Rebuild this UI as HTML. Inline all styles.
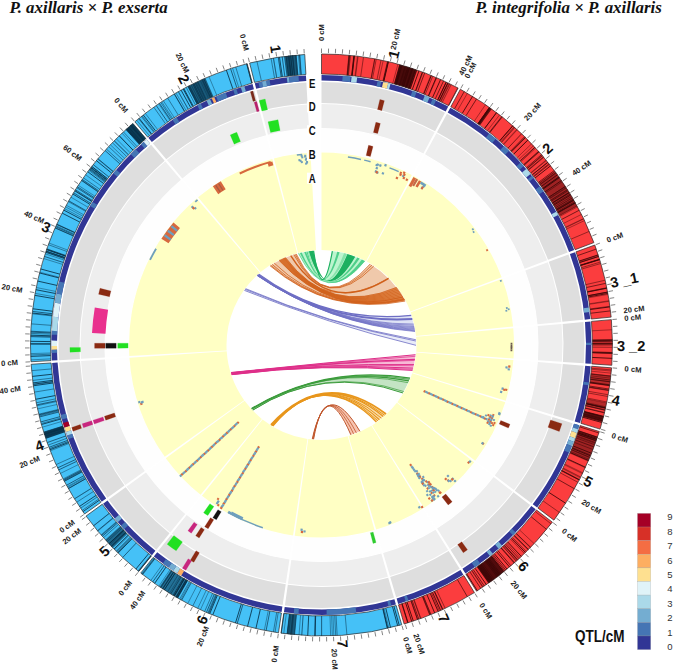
<!DOCTYPE html>
<html><head><meta charset="utf-8"><style>
html,body{margin:0;padding:0;background:#fff;}
body{width:675px;height:670px;overflow:hidden;position:relative;}
svg{position:absolute;left:0;top:0;}
text{font-family:"Liberation Sans",sans-serif;}
.ti{font-family:"Liberation Serif",serif;font-weight:bold;font-style:italic;font-size:16.9px;fill:#111;}
</style></head><body>
<svg width="675" height="670" viewBox="0 0 675 670">
<text class="ti" x="9.5" y="13">P. axillaris × P. exserta</text>
<text class="ti" x="475.5" y="13">P. integrifolia × P. axillaris</text>
<path d="M321.5 82A263 263 0 0 1 444.97 112.78L435.11 131.33A242 242 0 0 0 321.5 103Z" fill="#dedede"/>
<path d="M321.5 104A241 241 0 0 1 434.64 132.21L423.38 153.4A217 217 0 0 0 321.5 128Z" fill="#eeeeee"/>
<path d="M321.5 128.5A216.5 216.5 0 0 1 423.14 153.84L412.11 174.59A193 193 0 0 0 321.5 152Z" fill="#fefefe"/>
<path d="M321.5 152.5A192.5 192.5 0 0 1 411.87 175.03L366.1 261.12A95 95 0 0 0 321.5 250Z" fill="#ffffc4"/>
<path d="M321.5 75A270 270 0 0 1 448.26 106.6L445.68 111.46A264.5 264.5 0 0 0 321.5 80.5Z" fill="#313695"/>
<path d="M446.99 113.87A263 263 0 0 1 567.68 252.47L548.03 259.85A242 242 0 0 0 436.97 132.33Z" fill="#dedede"/>
<path d="M436.5 133.21A241 241 0 0 1 547.09 260.21L524.62 268.65A217 217 0 0 0 425.04 154.3Z" fill="#eeeeee"/>
<path d="M424.8 154.74A216.5 216.5 0 0 1 524.16 268.83L502.16 277.09A193 193 0 0 0 413.59 175.39Z" fill="#fefefe"/>
<path d="M413.35 175.83A192.5 192.5 0 0 1 501.69 277.27L410.43 311.58A95 95 0 0 0 366.83 261.51Z" fill="#ffffc4"/>
<path d="M450.33 107.72A270 270 0 0 1 574.24 250L569.09 251.94A264.5 264.5 0 0 0 447.71 112.55Z" fill="#313695"/>
<path d="M568.48 254.62A263 263 0 0 1 583.29 319.79L562.39 321.81A242 242 0 0 0 548.76 261.83Z" fill="#dedede"/>
<path d="M547.82 262.18A241 241 0 0 1 561.39 321.9L537.5 324.2A217 217 0 0 0 525.28 270.43Z" fill="#eeeeee"/>
<path d="M524.81 270.6A216.5 216.5 0 0 1 537 324.25L513.61 326.5A193 193 0 0 0 502.75 278.67Z" fill="#fefefe"/>
<path d="M502.28 278.85A192.5 192.5 0 0 1 513.11 326.55L416.06 335.89A95 95 0 0 0 410.71 312.35Z" fill="#ffffc4"/>
<path d="M575.06 252.21A270 270 0 0 1 590.26 319.12L584.78 319.65A264.5 264.5 0 0 0 569.89 254.1Z" fill="#313695"/>
<path d="M583.5 322.08A263 263 0 0 1 583.86 363.35L562.91 361.88A242 242 0 0 0 562.58 323.91Z" fill="#dedede"/>
<path d="M561.58 324A241 241 0 0 1 561.91 361.81L537.97 360.14A217 217 0 0 0 537.67 326.09Z" fill="#eeeeee"/>
<path d="M537.18 326.13A216.5 216.5 0 0 1 537.47 360.1L514.03 358.46A193 193 0 0 0 513.77 328.18Z" fill="#fefefe"/>
<path d="M513.27 328.22A192.5 192.5 0 0 1 513.53 358.43L416.27 351.63A95 95 0 0 0 416.14 336.72Z" fill="#ffffc4"/>
<path d="M590.47 321.47A270 270 0 0 1 590.84 363.83L585.36 363.45A264.5 264.5 0 0 0 584.99 321.95Z" fill="#313695"/>
<path d="M583.69 365.63A263 263 0 0 1 573.28 421.02L553.17 414.95A242 242 0 0 0 562.75 363.99Z" fill="#dedede"/>
<path d="M561.76 363.91A241 241 0 0 1 552.21 414.66L529.24 407.72A217 217 0 0 0 537.83 362.03Z" fill="#eeeeee"/>
<path d="M537.33 361.99A216.5 216.5 0 0 1 528.76 407.58L506.26 400.78A193 193 0 0 0 513.91 360.14Z" fill="#fefefe"/>
<path d="M513.41 360.1A192.5 192.5 0 0 1 505.78 400.64L412.45 372.46A95 95 0 0 0 416.21 352.45Z" fill="#ffffc4"/>
<path d="M590.67 366.18A270 270 0 0 1 579.98 423.04L574.71 421.45A264.5 264.5 0 0 0 585.18 365.75Z" fill="#313695"/>
<path d="M572.6 423.21A263 263 0 0 1 531.54 503.28L514.77 490.64A242 242 0 0 0 552.55 416.96Z" fill="#dedede"/>
<path d="M551.6 416.67A241 241 0 0 1 513.97 490.04L494.8 475.59A217 217 0 0 0 528.68 409.53Z" fill="#eeeeee"/>
<path d="M528.21 409.38A216.5 216.5 0 0 1 494.4 475.29L475.64 461.15A193 193 0 0 0 505.77 402.39Z" fill="#fefefe"/>
<path d="M505.29 402.24A192.5 192.5 0 0 1 475.24 460.85L397.37 402.17A95 95 0 0 0 412.2 373.25Z" fill="#ffffc4"/>
<path d="M579.29 425.29A270 270 0 0 1 537.13 507.49L532.74 504.18A264.5 264.5 0 0 0 574.03 423.66Z" fill="#313695"/>
<path d="M530.15 505.1A263 263 0 0 1 461.65 567.55L450.46 549.78A242 242 0 0 0 513.49 492.32Z" fill="#dedede"/>
<path d="M512.7 491.71A241 241 0 0 1 449.92 548.93L437.13 528.62A217 217 0 0 0 493.66 477.1Z" fill="#eeeeee"/>
<path d="M493.26 476.8A216.5 216.5 0 0 1 436.87 528.2L424.35 508.32A193 193 0 0 0 474.62 462.49Z" fill="#fefefe"/>
<path d="M474.22 462.19A192.5 192.5 0 0 1 424.08 507.89L372.12 425.39A95 95 0 0 0 396.87 402.83Z" fill="#ffffc4"/>
<path d="M535.71 509.37A270 270 0 0 1 465.38 573.47L462.45 568.82A264.5 264.5 0 0 0 531.34 506.02Z" fill="#313695"/>
<path d="M459.7 568.76A263 263 0 0 1 396.2 597.17L390.23 577.03A242 242 0 0 0 448.66 550.9Z" fill="#dedede"/>
<path d="M448.14 550.05A241 241 0 0 1 389.95 576.08L383.13 553.06A217 217 0 0 0 435.53 529.63Z" fill="#eeeeee"/>
<path d="M435.26 529.2A216.5 216.5 0 0 1 382.99 552.58L376.31 530.05A193 193 0 0 0 422.92 509.21Z" fill="#fefefe"/>
<path d="M422.65 508.78A192.5 192.5 0 0 1 376.17 529.57L348.48 436.09A95 95 0 0 0 371.42 425.83Z" fill="#ffffc4"/>
<path d="M463.38 574.72A270 270 0 0 1 398.18 603.88L396.62 598.61A264.5 264.5 0 0 0 460.49 570.04Z" fill="#313695"/>
<path d="M393.99 597.81A263 263 0 0 1 284.9 605.44L287.82 584.64A242 242 0 0 0 388.2 577.63Z" fill="#dedede"/>
<path d="M387.93 576.66A241 241 0 0 1 287.96 583.65L291.3 559.89A217 217 0 0 0 381.31 553.59Z" fill="#eeeeee"/>
<path d="M381.18 553.11A216.5 216.5 0 0 1 291.37 559.39L294.64 536.12A193 193 0 0 0 374.7 530.52Z" fill="#fefefe"/>
<path d="M374.56 530.04A192.5 192.5 0 0 1 294.71 535.63L308.28 439.08A95 95 0 0 0 347.69 436.32Z" fill="#ffffc4"/>
<path d="M395.92 604.54A270 270 0 0 1 283.92 612.37L284.69 606.93A264.5 264.5 0 0 0 394.41 599.25Z" fill="#313695"/>
<path d="M282.63 605.11A263 263 0 0 1 158.14 551.11L171.18 534.65A242 242 0 0 0 285.73 584.34Z" fill="#dedede"/>
<path d="M285.88 583.35A241 241 0 0 1 171.8 533.87L186.71 515.06A217 217 0 0 0 289.43 559.62Z" fill="#eeeeee"/>
<path d="M289.5 559.12A216.5 216.5 0 0 1 187.02 514.67L201.62 496.25A193 193 0 0 0 292.97 535.88Z" fill="#fefefe"/>
<path d="M293.05 535.39A192.5 192.5 0 0 1 201.93 495.86L262.49 419.45A95 95 0 0 0 307.46 438.96Z" fill="#ffffc4"/>
<path d="M281.59 612.03A270 270 0 0 1 153.79 556.6L157.21 552.29A264.5 264.5 0 0 0 282.4 606.59Z" fill="#313695"/>
<path d="M156.35 549.68A263 263 0 0 1 108.73 499.59L125.72 487.24A242 242 0 0 0 169.53 533.33Z" fill="#dedede"/>
<path d="M170.16 532.56A241 241 0 0 1 126.53 486.66L145.94 472.55A217 217 0 0 0 185.23 513.88Z" fill="#eeeeee"/>
<path d="M185.55 513.49A216.5 216.5 0 0 1 146.35 472.26L165.36 458.44A193 193 0 0 0 200.3 495.2Z" fill="#fefefe"/>
<path d="M200.62 494.81A192.5 192.5 0 0 1 165.76 458.15L244.64 400.84A95 95 0 0 0 261.84 418.93Z" fill="#ffffc4"/>
<path d="M151.95 555.13A270 270 0 0 1 103.07 503.7L107.52 500.47A264.5 264.5 0 0 0 155.4 550.85Z" fill="#313695"/>
<path d="M107.39 497.72A263 263 0 0 1 59.08 362.43L80.03 361.04A242 242 0 0 0 124.48 485.53Z" fill="#dedede"/>
<path d="M125.3 484.95A241 241 0 0 1 81.03 360.97L104.98 359.38A217 217 0 0 0 144.84 471.01Z" fill="#eeeeee"/>
<path d="M145.24 470.72A216.5 216.5 0 0 1 105.48 359.35L128.92 357.79A193 193 0 0 0 164.38 457.08Z" fill="#fefefe"/>
<path d="M164.78 456.79A192.5 192.5 0 0 1 129.42 357.76L226.71 351.3A95 95 0 0 0 244.16 400.17Z" fill="#ffffc4"/>
<path d="M101.69 501.79A270 270 0 0 1 52.09 362.89L57.58 362.53A264.5 264.5 0 0 0 106.17 498.6Z" fill="#313695"/>
<path d="M58.94 360.14A263 263 0 0 1 151.04 144.72L164.65 160.71A242 242 0 0 0 79.9 358.93Z" fill="#dedede"/>
<path d="M80.9 358.87A241 241 0 0 1 165.3 161.47L180.86 179.75A217 217 0 0 0 104.86 357.49Z" fill="#eeeeee"/>
<path d="M105.36 357.46A216.5 216.5 0 0 1 181.18 180.13L196.41 198.02A193 193 0 0 0 128.82 356.11Z" fill="#fefefe"/>
<path d="M129.32 356.08A192.5 192.5 0 0 1 196.74 198.4L259.93 272.65A95 95 0 0 0 226.66 350.47Z" fill="#ffffc4"/>
<path d="M51.95 360.54A270 270 0 0 1 146.51 139.38L150.07 143.57A264.5 264.5 0 0 0 57.44 360.23Z" fill="#313695"/>
<path d="M152.8 143.24A263 263 0 0 1 254.32 90.73L259.68 111.03A242 242 0 0 0 166.27 159.35Z" fill="#dedede"/>
<path d="M166.91 160.11A241 241 0 0 1 259.94 112L266.07 135.2A217 217 0 0 0 182.31 178.53Z" fill="#eeeeee"/>
<path d="M182.63 178.91A216.5 216.5 0 0 1 266.2 135.68L272.2 158.4A193 193 0 0 0 197.7 196.94Z" fill="#fefefe"/>
<path d="M198.02 197.32A192.5 192.5 0 0 1 272.33 158.89L297.23 253.15A95 95 0 0 0 260.56 272.12Z" fill="#ffffc4"/>
<path d="M148.31 137.87A270 270 0 0 1 252.53 83.96L253.93 89.28A264.5 264.5 0 0 0 151.84 142.08Z" fill="#313695"/>
<path d="M256.54 90.15A263 263 0 0 1 306.36 82.44L307.57 103.4A242 242 0 0 0 261.73 110.5Z" fill="#dedede"/>
<path d="M261.97 111.47A241 241 0 0 1 307.63 104.4L309.01 128.36A217 217 0 0 0 267.9 134.72Z" fill="#eeeeee"/>
<path d="M268.02 135.21A216.5 216.5 0 0 1 309.04 128.86L310.39 152.32A193 193 0 0 0 273.83 157.98Z" fill="#fefefe"/>
<path d="M273.95 158.46A192.5 192.5 0 0 1 310.42 152.82L316.03 250.16A95 95 0 0 0 298.04 252.94Z" fill="#ffffc4"/>
<path d="M254.81 83.37A270 270 0 0 1 305.96 75.45L306.27 80.94A264.5 264.5 0 0 0 256.17 88.7Z" fill="#313695"/>
<path d="M342.68 75.83A270 270 0 0 1 350.66 76.58L350.07 82.05A264.5 264.5 0 0 0 342.25 81.32Z" fill="#4575b4"/>
<path d="M351.6 76.68A270 270 0 0 1 357.21 77.37L356.48 82.82A264.5 264.5 0 0 0 350.98 82.15Z" fill="#abd9e9"/>
<path d="M377.64 80.9A270 270 0 0 1 381.32 81.71L380.1 87.07A264.5 264.5 0 0 0 376.49 86.28Z" fill="#4575b4"/>
<path d="M383.15 82.13A270 270 0 0 1 388.19 83.37L386.83 88.7A264.5 264.5 0 0 0 381.9 87.49Z" fill="#fee090"/>
<path d="M388.19 83.37A270 270 0 0 1 390.47 83.96L389.07 89.28A264.5 264.5 0 0 0 386.83 88.7Z" fill="#abd9e9"/>
<path d="M412.52 90.8A270 270 0 0 1 416.5 92.26L414.56 97.41A264.5 264.5 0 0 0 410.66 95.98Z" fill="#4575b4"/>
<path d="M424.82 95.55A270 270 0 0 1 429.59 97.58L427.39 102.62A264.5 264.5 0 0 0 422.72 100.63Z" fill="#74add1"/>
<path d="M432.61 98.92A270 270 0 0 1 436.03 100.5L433.7 105.48A264.5 264.5 0 0 0 430.35 103.93Z" fill="#4575b4"/>
<path d="M489.21 133.4A270 270 0 0 1 495.77 138.78L492.22 142.98A264.5 264.5 0 0 0 485.79 137.71Z" fill="#4575b4"/>
<path d="M503.91 145.94A270 270 0 0 1 509.06 150.78L505.24 154.73A264.5 264.5 0 0 0 500.19 149.99Z" fill="#4575b4"/>
<path d="M520.56 162.59A270 270 0 0 1 523.72 166.09L519.6 169.74A264.5 264.5 0 0 0 516.51 166.31Z" fill="#4575b4"/>
<path d="M526.2 168.93A270 270 0 0 1 530.44 173.99L526.18 177.47A264.5 264.5 0 0 0 522.03 172.52Z" fill="#abd9e9"/>
<path d="M531.92 175.82A270 270 0 0 1 533.68 178.03L529.36 181.43A264.5 264.5 0 0 0 527.63 179.26Z" fill="#4575b4"/>
<path d="M539.93 186.3A270 270 0 0 1 543.48 191.29L538.96 194.43A264.5 264.5 0 0 0 535.48 189.53Z" fill="#4575b4"/>
<path d="M556.26 211.64A270 270 0 0 1 558.1 214.93L553.28 217.58A264.5 264.5 0 0 0 551.48 214.35Z" fill="#abd9e9"/>
<path d="M588.87 307.42A270 270 0 0 1 589.49 312.1L584.03 312.77A264.5 264.5 0 0 0 583.43 308.19Z" fill="#74add1"/>
<path d="M591.49 342.64A270 270 0 0 1 591.5 345L586 345A264.5 264.5 0 0 0 585.99 342.69Z" fill="#4575b4"/>
<path d="M588.87 382.58A270 270 0 0 1 588.46 385.37L583.03 384.55A264.5 264.5 0 0 0 583.43 381.81Z" fill="#4575b4"/>
<path d="M579.29 425.29A270 270 0 0 1 577.99 429.33L572.77 427.61A264.5 264.5 0 0 0 574.03 423.66Z" fill="#4575b4"/>
<path d="M577.99 429.33A270 270 0 0 1 576.79 432.9L571.59 431.11A264.5 264.5 0 0 0 572.77 427.61Z" fill="#abd9e9"/>
<path d="M576.79 432.9A270 270 0 0 1 574.89 438.23L569.73 436.33A264.5 264.5 0 0 0 571.59 431.11Z" fill="#fee090"/>
<path d="M574.89 438.23A270 270 0 0 1 573.57 441.76L568.43 439.79A264.5 264.5 0 0 0 569.73 436.33Z" fill="#abd9e9"/>
<path d="M573.57 441.76A270 270 0 0 1 571.84 446.14L566.74 444.08A264.5 264.5 0 0 0 568.43 439.79Z" fill="#74add1"/>
<path d="M571.84 446.14A270 270 0 0 1 569.11 452.66L564.06 450.47A264.5 264.5 0 0 0 566.74 444.08Z" fill="#4575b4"/>
<path d="M515.72 532.56A270 270 0 0 1 513.08 535.25L509.18 531.38A264.5 264.5 0 0 0 511.77 528.74Z" fill="#4575b4"/>
<path d="M502.17 545.65A270 270 0 0 1 498.64 548.77L495.03 544.62A264.5 264.5 0 0 0 498.49 541.56Z" fill="#74add1"/>
<path d="M492.88 553.64A270 270 0 0 1 489.95 556.01L486.52 551.71A264.5 264.5 0 0 0 489.39 549.39Z" fill="#74add1"/>
<path d="M480.2 563.43A270 270 0 0 1 474.82 567.25L471.69 562.72A264.5 264.5 0 0 0 476.97 558.98Z" fill="#4575b4"/>
<path d="M408.51 600.6A270 270 0 0 1 405.83 601.49L404.11 596.27A264.5 264.5 0 0 0 406.74 595.39Z" fill="#4575b4"/>
<path d="M391.38 605.8A270 270 0 0 1 388.65 606.52L387.28 601.19A264.5 264.5 0 0 0 389.96 600.49Z" fill="#4575b4"/>
<path d="M356.27 612.75A270 270 0 0 1 326.68 614.95L326.58 609.45A264.5 264.5 0 0 0 355.57 607.3Z" fill="#4575b4"/>
<path d="M298.44 614.01A270 270 0 0 1 293.75 613.57L294.31 608.1A264.5 264.5 0 0 0 298.91 608.53Z" fill="#4575b4"/>
<path d="M181.23 575.7A270 270 0 0 1 177.22 573.22L180.16 568.57A264.5 264.5 0 0 0 184.09 571Z" fill="#fdae61"/>
<path d="M177.22 573.22A270 270 0 0 1 173.26 570.67L176.28 566.07A264.5 264.5 0 0 0 180.16 568.57Z" fill="#abd9e9"/>
<path d="M173.26 570.67A270 270 0 0 1 168.57 567.51L171.69 562.98A264.5 264.5 0 0 0 176.28 566.07Z" fill="#74add1"/>
<path d="M168.57 567.51A270 270 0 0 1 162.8 563.43L166.03 558.98A264.5 264.5 0 0 0 171.69 562.98Z" fill="#4575b4"/>
<path d="M124.03 529.14A270 270 0 0 1 120.85 525.67L124.94 521.99A264.5 264.5 0 0 0 128.06 525.39Z" fill="#4575b4"/>
<path d="M117.73 522.14A270 270 0 0 1 114.67 518.55L118.88 515.02A264.5 264.5 0 0 0 121.88 518.53Z" fill="#74add1"/>
<path d="M68.43 439.11A270 270 0 0 1 67.14 435.57L72.33 433.73A264.5 264.5 0 0 0 73.59 437.2Z" fill="#4575b4"/>
<path d="M67.14 435.57A270 270 0 0 1 65.9 432.01L71.11 430.24A264.5 264.5 0 0 0 72.33 433.73Z" fill="#abd9e9"/>
<path d="M65.9 432.01A270 270 0 0 1 64.43 427.54L69.66 425.86A264.5 264.5 0 0 0 71.11 430.24Z" fill="#fee090"/>
<path d="M64.43 427.54A270 270 0 0 1 63.02 423.04L68.29 421.45A264.5 264.5 0 0 0 69.66 425.86Z" fill="#a50026"/>
<path d="M61.96 419.42A270 270 0 0 1 60.7 414.88L66.01 413.46A264.5 264.5 0 0 0 67.25 417.91Z" fill="#4575b4"/>
<path d="M51.62 353.01A270 270 0 0 1 51.54 349.71L57.04 349.62A264.5 264.5 0 0 0 57.12 352.85Z" fill="#4575b4"/>
<path d="M51.54 349.71A270 270 0 0 1 51.5 345.94L57 345.92A264.5 264.5 0 0 0 57.04 349.62Z" fill="#fee090"/>
<path d="M51.5 345.94A270 270 0 0 1 51.54 340.29L57.04 340.38A264.5 264.5 0 0 0 57 345.92Z" fill="#e0f3f8"/>
<path d="M51.54 340.29A270 270 0 0 1 51.7 334.64L57.19 334.85A264.5 264.5 0 0 0 57.04 340.38Z" fill="#313695"/>
<path d="M51.7 334.64A270 270 0 0 1 51.87 330.87L57.36 331.16A264.5 264.5 0 0 0 57.19 334.85Z" fill="#4575b4"/>
<path d="M51.87 330.87A270 270 0 0 1 52.98 316.78L58.45 317.35A264.5 264.5 0 0 0 57.36 331.16Z" fill="#abd9e9"/>
<path d="M52.98 316.78A270 270 0 0 1 54.82 302.76L60.26 303.62A264.5 264.5 0 0 0 58.45 317.35Z" fill="#e0f3f8"/>
<path d="M54.82 302.76A270 270 0 0 1 56.46 293.48L61.86 294.53A264.5 264.5 0 0 0 60.26 303.62Z" fill="#74add1"/>
<path d="M56.46 293.48A270 270 0 0 1 59.07 281.51L64.42 282.8A264.5 264.5 0 0 0 61.86 294.53Z" fill="#4575b4"/>
<path d="M90.06 205.94A270 270 0 0 1 92.53 201.92L97.19 204.84A264.5 264.5 0 0 0 94.78 208.77Z" fill="#4575b4"/>
<path d="M113.16 173.26A270 270 0 0 1 116.19 169.65L120.37 173.22A264.5 264.5 0 0 0 117.41 176.76Z" fill="#4575b4"/>
<path d="M130.58 154.08A270 270 0 0 1 135.64 149.15L139.43 153.14A264.5 264.5 0 0 0 134.47 157.97Z" fill="#4575b4"/>
<path d="M140.83 144.35A270 270 0 0 1 143.65 141.85L147.28 145.99A264.5 264.5 0 0 0 144.51 148.44Z" fill="#4575b4"/>
<path d="M143.65 141.85A270 270 0 0 1 146.51 139.38L150.07 143.57A264.5 264.5 0 0 0 147.28 145.99Z" fill="#e0f3f8"/>
<path d="M172.48 119.85A270 270 0 0 1 176.43 117.28L179.38 121.92A264.5 264.5 0 0 0 175.51 124.44Z" fill="#4575b4"/>
<path d="M197.25 105.29A270 270 0 0 1 200.61 103.58L203.07 108.5A264.5 264.5 0 0 0 199.78 110.17Z" fill="#4575b4"/>
<path d="M206.54 100.7A270 270 0 0 1 209.96 99.12L212.23 104.12A264.5 264.5 0 0 0 208.88 105.67Z" fill="#74add1"/>
<path d="M211.68 98.34A270 270 0 0 1 214.27 97.21L216.45 102.25A264.5 264.5 0 0 0 213.92 103.37Z" fill="#fdae61"/>
<path d="M216 96.46A270 270 0 0 1 225.62 92.6L227.57 97.74A264.5 264.5 0 0 0 218.15 101.53Z" fill="#4575b4"/>
<path d="M233.15 89.86A270 270 0 0 1 236.27 88.8L238.01 94.02A264.5 264.5 0 0 0 234.95 95.06Z" fill="#4575b4"/>
<path d="M240.76 87.36A270 270 0 0 1 244.36 86.25L245.94 91.52A264.5 264.5 0 0 0 242.4 92.6Z" fill="#74add1"/>
<path d="M258.47 82.46A270 270 0 0 1 269.52 80.05L270.58 85.45A264.5 264.5 0 0 0 259.75 87.81Z" fill="#4575b4"/>
<path d="M262.14 81.61A270 270 0 0 1 265.82 80.8L266.96 86.18A264.5 264.5 0 0 0 263.35 86.97Z" fill="#74add1"/>
<path d="M286.73 77.25A270 270 0 0 1 289.06 76.96L289.72 82.42A264.5 264.5 0 0 0 287.43 82.7Z" fill="#74add1"/>
<path d="M289.06 76.96A270 270 0 0 1 298.44 75.99L298.91 81.47A264.5 264.5 0 0 0 289.72 82.42Z" fill="#4575b4"/>
<path d="M321.5 54A291 291 0 0 1 458.12 88.06L448.73 105.72A271 271 0 0 0 321.5 74Z" fill="#fb3d3e"/>
<path d="M348.38 55.24A291 291 0 0 1 350.91 55.49L348.89 75.39A271 271 0 0 0 346.53 75.16Z" fill="#3a0606" fill-opacity="0.60"/>
<line x1="347.29" y1="75.23" x2="349.2" y2="55.32" stroke="#3a0606" stroke-width="0.6" stroke-opacity="0.85"/>
<line x1="347.46" y1="75.25" x2="349.38" y2="55.34" stroke="#3a0606" stroke-width="0.5" stroke-opacity="0.85"/>
<line x1="351.99" y1="75.72" x2="354.24" y2="55.85" stroke="#3a0606" stroke-width="0.5" stroke-opacity="0.85"/>
<line x1="355.02" y1="76.08" x2="357.49" y2="56.23" stroke="#3a0606" stroke-width="0.5" stroke-opacity="0.85"/>
<line x1="360.63" y1="76.84" x2="363.51" y2="57.05" stroke="#3a0606" stroke-width="0.6" stroke-opacity="0.85"/>
<line x1="351.63" y1="75.68" x2="353.85" y2="55.8" stroke="#3a0606" stroke-width="1.0" stroke-opacity="0.85"/>
<line x1="355.56" y1="76.15" x2="358.07" y2="56.31" stroke="#3a0606" stroke-width="0.6" stroke-opacity="0.85"/>
<line x1="352.18" y1="75.74" x2="354.44" y2="55.87" stroke="#3a0606" stroke-width="1.0" stroke-opacity="0.85"/>
<line x1="351.85" y1="75.7" x2="354.09" y2="55.83" stroke="#3a0606" stroke-width="0.5" stroke-opacity="0.85"/>
<line x1="392.68" y1="83.51" x2="397.93" y2="64.22" stroke="#3a0606" stroke-width="0.5" stroke-opacity="0.85"/>
<line x1="383.85" y1="81.27" x2="388.45" y2="61.81" stroke="#3a0606" stroke-width="1.0" stroke-opacity="0.85"/>
<line x1="371.15" y1="78.59" x2="374.82" y2="58.93" stroke="#3a0606" stroke-width="0.6" stroke-opacity="0.85"/>
<line x1="371.08" y1="78.57" x2="374.74" y2="58.91" stroke="#3a0606" stroke-width="0.6" stroke-opacity="0.85"/>
<line x1="376.95" y1="79.73" x2="381.04" y2="60.16" stroke="#3a0606" stroke-width="0.6" stroke-opacity="0.85"/>
<line x1="382.98" y1="81.06" x2="387.51" y2="61.59" stroke="#3a0606" stroke-width="0.8" stroke-opacity="0.85"/>
<line x1="383.44" y1="81.17" x2="388.02" y2="61.7" stroke="#3a0606" stroke-width="0.6" stroke-opacity="0.85"/>
<line x1="372.45" y1="78.83" x2="376.21" y2="59.19" stroke="#3a0606" stroke-width="0.6" stroke-opacity="0.85"/>
<line x1="378.94" y1="80.16" x2="383.18" y2="60.61" stroke="#3a0606" stroke-width="0.5" stroke-opacity="0.85"/>
<line x1="383.54" y1="81.2" x2="388.12" y2="61.73" stroke="#3a0606" stroke-width="0.6" stroke-opacity="0.85"/>
<path d="M399.27 64.58A291 291 0 0 1 416.24 69.85L409.73 88.76A271 271 0 0 0 393.92 83.86Z" fill="#3a0606" fill-opacity="0.92"/>
<line x1="401.81" y1="86.17" x2="407.73" y2="67.07" stroke="#3a0606" stroke-width="1.0" stroke-opacity="0.85"/>
<line x1="406.23" y1="87.59" x2="412.49" y2="68.59" stroke="#3a0606" stroke-width="1.0" stroke-opacity="0.85"/>
<line x1="403.21" y1="86.61" x2="409.24" y2="67.54" stroke="#3a0606" stroke-width="1.0" stroke-opacity="0.85"/>
<line x1="399.67" y1="85.52" x2="405.44" y2="66.37" stroke="#3a0606" stroke-width="0.6" stroke-opacity="0.85"/>
<line x1="406.5" y1="87.68" x2="412.78" y2="68.69" stroke="#3a0606" stroke-width="0.6" stroke-opacity="0.85"/>
<line x1="395.23" y1="84.22" x2="400.67" y2="64.98" stroke="#3a0606" stroke-width="0.8" stroke-opacity="0.85"/>
<line x1="402.26" y1="86.31" x2="408.22" y2="67.22" stroke="#3a0606" stroke-width="0.8" stroke-opacity="0.85"/>
<line x1="405.48" y1="87.34" x2="411.68" y2="68.33" stroke="#3a0606" stroke-width="0.8" stroke-opacity="0.85"/>
<line x1="403.58" y1="86.73" x2="409.64" y2="67.67" stroke="#3a0606" stroke-width="0.5" stroke-opacity="0.85"/>
<line x1="395.8" y1="84.39" x2="401.29" y2="65.15" stroke="#3a0606" stroke-width="1.0" stroke-opacity="0.85"/>
<line x1="396.55" y1="84.6" x2="402.09" y2="65.38" stroke="#3a0606" stroke-width="0.8" stroke-opacity="0.85"/>
<line x1="396.34" y1="84.54" x2="401.87" y2="65.32" stroke="#3a0606" stroke-width="1.0" stroke-opacity="0.85"/>
<line x1="400.62" y1="85.81" x2="406.46" y2="66.68" stroke="#3a0606" stroke-width="0.5" stroke-opacity="0.85"/>
<line x1="406.03" y1="87.52" x2="412.27" y2="68.52" stroke="#3a0606" stroke-width="0.8" stroke-opacity="0.85"/>
<line x1="399.33" y1="85.42" x2="405.08" y2="66.26" stroke="#3a0606" stroke-width="0.8" stroke-opacity="0.85"/>
<line x1="403.35" y1="86.66" x2="409.39" y2="67.59" stroke="#3a0606" stroke-width="1.0" stroke-opacity="0.85"/>
<line x1="395.02" y1="84.16" x2="400.44" y2="64.91" stroke="#3a0606" stroke-width="0.5" stroke-opacity="0.85"/>
<line x1="408.86" y1="88.47" x2="415.31" y2="69.54" stroke="#3a0606" stroke-width="1.0" stroke-opacity="0.85"/>
<line x1="415.94" y1="90.99" x2="422.91" y2="72.24" stroke="#3a0606" stroke-width="0.5" stroke-opacity="0.85"/>
<line x1="410.27" y1="88.95" x2="416.82" y2="70.06" stroke="#3a0606" stroke-width="0.8" stroke-opacity="0.85"/>
<line x1="415.49" y1="90.82" x2="422.43" y2="72.06" stroke="#3a0606" stroke-width="1.0" stroke-opacity="0.85"/>
<line x1="412.27" y1="89.65" x2="418.97" y2="70.81" stroke="#3a0606" stroke-width="1.0" stroke-opacity="0.85"/>
<line x1="417.62" y1="91.62" x2="424.71" y2="72.92" stroke="#3a0606" stroke-width="0.8" stroke-opacity="0.85"/>
<line x1="409.93" y1="88.83" x2="416.46" y2="69.93" stroke="#3a0606" stroke-width="1.0" stroke-opacity="0.85"/>
<line x1="423.31" y1="93.85" x2="430.82" y2="75.32" stroke="#3a0606" stroke-width="0.5" stroke-opacity="0.85"/>
<line x1="425.12" y1="94.59" x2="432.77" y2="76.11" stroke="#3a0606" stroke-width="0.6" stroke-opacity="0.85"/>
<line x1="428.71" y1="96.11" x2="436.63" y2="77.74" stroke="#3a0606" stroke-width="0.6" stroke-opacity="0.85"/>
<line x1="428.32" y1="95.94" x2="436.21" y2="77.56" stroke="#3a0606" stroke-width="1.0" stroke-opacity="0.85"/>
<line x1="423.78" y1="94.04" x2="431.32" y2="75.52" stroke="#3a0606" stroke-width="1.0" stroke-opacity="0.85"/>
<line x1="432.42" y1="97.74" x2="440.61" y2="79.49" stroke="#3a0606" stroke-width="1.0" stroke-opacity="0.85"/>
<line x1="435.19" y1="99" x2="443.58" y2="80.84" stroke="#3a0606" stroke-width="0.8" stroke-opacity="0.85"/>
<line x1="439.31" y1="100.95" x2="448" y2="82.93" stroke="#3a0606" stroke-width="1.0" stroke-opacity="0.85"/>
<line x1="439.14" y1="100.87" x2="447.82" y2="82.85" stroke="#3a0606" stroke-width="0.8" stroke-opacity="0.85"/>
<line x1="437.8" y1="100.22" x2="446.38" y2="82.16" stroke="#3a0606" stroke-width="0.8" stroke-opacity="0.85"/>
<line x1="437.59" y1="100.13" x2="446.16" y2="82.05" stroke="#3a0606" stroke-width="1.0" stroke-opacity="0.85"/>
<line x1="448.37" y1="105.53" x2="457.74" y2="87.86" stroke="#3a0606" stroke-width="0.6" stroke-opacity="0.85"/>
<line x1="441" y1="101.77" x2="449.82" y2="83.82" stroke="#3a0606" stroke-width="0.6" stroke-opacity="0.85"/>
<line x1="442.27" y1="102.4" x2="451.18" y2="84.49" stroke="#3a0606" stroke-width="0.6" stroke-opacity="0.85"/>
<line x1="440.4" y1="101.48" x2="449.18" y2="83.5" stroke="#3a0606" stroke-width="0.6" stroke-opacity="0.85"/>
<path d="M321.5 54A291 291 0 0 1 458.12 88.06L448.73 105.72A271 271 0 0 0 321.5 74Z" fill="none" stroke="#2a2a2a" stroke-width="0.7"/>
<path d="M460.35 89.26A291 291 0 0 1 593.89 242.61L575.17 249.65A271 271 0 0 0 450.81 106.84Z" fill="#fb3d3e"/>
<line x1="457.42" y1="110.55" x2="467.45" y2="93.25" stroke="#3a0606" stroke-width="0.5" stroke-opacity="0.85"/>
<line x1="454.49" y1="108.87" x2="464.3" y2="91.45" stroke="#3a0606" stroke-width="0.8" stroke-opacity="0.85"/>
<line x1="465.99" y1="115.73" x2="476.65" y2="98.81" stroke="#3a0606" stroke-width="0.8" stroke-opacity="0.85"/>
<line x1="474.27" y1="121.16" x2="485.54" y2="104.65" stroke="#3a0606" stroke-width="0.5" stroke-opacity="0.85"/>
<line x1="462.23" y1="113.41" x2="472.62" y2="96.31" stroke="#3a0606" stroke-width="1.0" stroke-opacity="0.85"/>
<path d="M489.24 107.21A291 291 0 0 1 491.72 108.98L480.02 125.2A271 271 0 0 0 477.71 123.55Z" fill="#3a0606" fill-opacity="0.84"/>
<line x1="478.63" y1="124.21" x2="490.23" y2="107.91" stroke="#3a0606" stroke-width="1.0" stroke-opacity="0.85"/>
<line x1="477.95" y1="123.72" x2="489.5" y2="107.39" stroke="#3a0606" stroke-width="1.0" stroke-opacity="0.85"/>
<line x1="477.86" y1="123.66" x2="489.4" y2="107.32" stroke="#3a0606" stroke-width="0.5" stroke-opacity="0.85"/>
<line x1="484.52" y1="128.52" x2="496.55" y2="112.54" stroke="#3a0606" stroke-width="1.0" stroke-opacity="0.85"/>
<line x1="489.82" y1="132.61" x2="502.24" y2="116.93" stroke="#3a0606" stroke-width="0.8" stroke-opacity="0.85"/>
<line x1="503.42" y1="144.13" x2="516.84" y2="129.31" stroke="#3a0606" stroke-width="0.5" stroke-opacity="0.85"/>
<line x1="484.6" y1="128.58" x2="496.64" y2="112.6" stroke="#3a0606" stroke-width="0.6" stroke-opacity="0.85"/>
<line x1="501.48" y1="142.39" x2="514.76" y2="127.44" stroke="#3a0606" stroke-width="0.8" stroke-opacity="0.85"/>
<line x1="503.81" y1="144.49" x2="517.26" y2="129.69" stroke="#3a0606" stroke-width="0.5" stroke-opacity="0.85"/>
<line x1="511.51" y1="151.77" x2="525.53" y2="137.51" stroke="#3a0606" stroke-width="1.0" stroke-opacity="0.85"/>
<line x1="489.38" y1="132.26" x2="501.77" y2="116.56" stroke="#3a0606" stroke-width="0.8" stroke-opacity="0.85"/>
<line x1="513.85" y1="154.1" x2="528.05" y2="140.01" stroke="#3a0606" stroke-width="0.8" stroke-opacity="0.85"/>
<line x1="499.57" y1="140.72" x2="512.71" y2="125.64" stroke="#3a0606" stroke-width="0.5" stroke-opacity="0.85"/>
<line x1="510.77" y1="151.05" x2="524.74" y2="136.74" stroke="#3a0606" stroke-width="1.0" stroke-opacity="0.85"/>
<line x1="499.76" y1="140.88" x2="512.92" y2="125.82" stroke="#3a0606" stroke-width="0.8" stroke-opacity="0.85"/>
<line x1="487.37" y1="130.69" x2="499.61" y2="114.87" stroke="#3a0606" stroke-width="0.5" stroke-opacity="0.85"/>
<line x1="507.86" y1="148.25" x2="521.62" y2="133.73" stroke="#3a0606" stroke-width="0.8" stroke-opacity="0.85"/>
<line x1="499.71" y1="140.83" x2="512.86" y2="125.77" stroke="#3a0606" stroke-width="0.6" stroke-opacity="0.85"/>
<line x1="500.86" y1="141.85" x2="514.1" y2="126.85" stroke="#3a0606" stroke-width="0.6" stroke-opacity="0.85"/>
<line x1="513.72" y1="153.97" x2="527.91" y2="139.87" stroke="#3a0606" stroke-width="0.8" stroke-opacity="0.85"/>
<line x1="518.91" y1="159.34" x2="533.48" y2="145.64" stroke="#3a0606" stroke-width="0.5" stroke-opacity="0.85"/>
<line x1="533.85" y1="176.63" x2="549.52" y2="164.2" stroke="#3a0606" stroke-width="0.8" stroke-opacity="0.85"/>
<line x1="538.87" y1="183.16" x2="554.91" y2="171.21" stroke="#3a0606" stroke-width="0.5" stroke-opacity="0.85"/>
<line x1="532.4" y1="174.82" x2="547.97" y2="162.26" stroke="#3a0606" stroke-width="0.8" stroke-opacity="0.85"/>
<line x1="528.17" y1="169.7" x2="543.42" y2="156.77" stroke="#3a0606" stroke-width="0.6" stroke-opacity="0.85"/>
<line x1="524.18" y1="165.11" x2="539.14" y2="151.84" stroke="#3a0606" stroke-width="0.6" stroke-opacity="0.85"/>
<line x1="528.51" y1="170.11" x2="543.79" y2="157.2" stroke="#3a0606" stroke-width="0.8" stroke-opacity="0.85"/>
<line x1="530.99" y1="173.09" x2="546.46" y2="160.4" stroke="#3a0606" stroke-width="0.6" stroke-opacity="0.85"/>
<line x1="534.96" y1="178.04" x2="550.71" y2="165.71" stroke="#3a0606" stroke-width="1.0" stroke-opacity="0.85"/>
<line x1="533.42" y1="176.1" x2="549.06" y2="163.63" stroke="#3a0606" stroke-width="0.6" stroke-opacity="0.85"/>
<line x1="520.27" y1="160.8" x2="534.94" y2="147.21" stroke="#3a0606" stroke-width="1.0" stroke-opacity="0.85"/>
<line x1="524.18" y1="165.11" x2="539.14" y2="151.83" stroke="#3a0606" stroke-width="0.5" stroke-opacity="0.85"/>
<line x1="539.11" y1="183.49" x2="555.17" y2="171.57" stroke="#3a0606" stroke-width="0.8" stroke-opacity="0.85"/>
<line x1="527.05" y1="168.39" x2="542.22" y2="155.36" stroke="#3a0606" stroke-width="0.6" stroke-opacity="0.85"/>
<line x1="532.32" y1="174.72" x2="547.88" y2="162.15" stroke="#3a0606" stroke-width="0.8" stroke-opacity="0.85"/>
<line x1="526.44" y1="167.68" x2="541.56" y2="154.6" stroke="#3a0606" stroke-width="0.8" stroke-opacity="0.85"/>
<line x1="538.34" y1="182.45" x2="554.34" y2="170.46" stroke="#3a0606" stroke-width="0.8" stroke-opacity="0.85"/>
<line x1="517.22" y1="157.55" x2="531.66" y2="143.72" stroke="#3a0606" stroke-width="0.5" stroke-opacity="0.85"/>
<line x1="520.96" y1="161.54" x2="535.68" y2="148" stroke="#3a0606" stroke-width="0.6" stroke-opacity="0.85"/>
<line x1="523.74" y1="164.61" x2="538.66" y2="151.3" stroke="#3a0606" stroke-width="1.0" stroke-opacity="0.85"/>
<line x1="530.7" y1="172.73" x2="546.14" y2="160.02" stroke="#3a0606" stroke-width="0.5" stroke-opacity="0.85"/>
<line x1="527.23" y1="168.6" x2="542.41" y2="155.58" stroke="#3a0606" stroke-width="0.8" stroke-opacity="0.85"/>
<path d="M555.42 171.91A291 291 0 0 1 577.24 206.15L559.66 215.69A271 271 0 0 0 539.35 183.8Z" fill="#3a0606" fill-opacity="0.48"/>
<line x1="555.95" y1="209.08" x2="573.25" y2="199.05" stroke="#3a0606" stroke-width="0.5" stroke-opacity="0.85"/>
<line x1="556.61" y1="210.23" x2="573.96" y2="200.28" stroke="#3a0606" stroke-width="0.5" stroke-opacity="0.85"/>
<line x1="558.01" y1="212.7" x2="575.47" y2="202.94" stroke="#3a0606" stroke-width="0.6" stroke-opacity="0.85"/>
<line x1="549.61" y1="198.69" x2="566.45" y2="187.89" stroke="#3a0606" stroke-width="0.6" stroke-opacity="0.85"/>
<line x1="548.71" y1="197.29" x2="565.47" y2="186.39" stroke="#3a0606" stroke-width="0.8" stroke-opacity="0.85"/>
<line x1="541.28" y1="186.45" x2="557.5" y2="174.75" stroke="#3a0606" stroke-width="1.0" stroke-opacity="0.85"/>
<line x1="549.31" y1="198.22" x2="566.12" y2="187.39" stroke="#3a0606" stroke-width="0.5" stroke-opacity="0.85"/>
<line x1="554.52" y1="206.64" x2="571.71" y2="196.42" stroke="#3a0606" stroke-width="0.6" stroke-opacity="0.85"/>
<line x1="559.53" y1="215.46" x2="577.1" y2="205.9" stroke="#3a0606" stroke-width="0.5" stroke-opacity="0.85"/>
<line x1="542.7" y1="188.44" x2="559.02" y2="176.88" stroke="#3a0606" stroke-width="1.0" stroke-opacity="0.85"/>
<line x1="556.08" y1="209.3" x2="573.39" y2="199.29" stroke="#3a0606" stroke-width="0.6" stroke-opacity="0.85"/>
<line x1="552.3" y1="202.97" x2="569.33" y2="192.49" stroke="#3a0606" stroke-width="1.0" stroke-opacity="0.85"/>
<line x1="553.2" y1="204.45" x2="570.3" y2="194.07" stroke="#3a0606" stroke-width="0.8" stroke-opacity="0.85"/>
<line x1="542.8" y1="188.58" x2="559.13" y2="177.04" stroke="#3a0606" stroke-width="0.6" stroke-opacity="0.85"/>
<line x1="539.83" y1="184.45" x2="555.94" y2="172.61" stroke="#3a0606" stroke-width="0.5" stroke-opacity="0.85"/>
<line x1="550.6" y1="200.24" x2="567.51" y2="189.56" stroke="#3a0606" stroke-width="0.6" stroke-opacity="0.85"/>
<line x1="548.7" y1="197.29" x2="565.47" y2="186.38" stroke="#3a0606" stroke-width="0.6" stroke-opacity="0.85"/>
<line x1="556.45" y1="209.95" x2="573.79" y2="199.98" stroke="#3a0606" stroke-width="0.6" stroke-opacity="0.85"/>
<line x1="539.97" y1="184.66" x2="556.1" y2="172.82" stroke="#3a0606" stroke-width="0.6" stroke-opacity="0.85"/>
<line x1="545.76" y1="192.85" x2="562.31" y2="181.62" stroke="#3a0606" stroke-width="0.6" stroke-opacity="0.85"/>
<line x1="555.26" y1="207.9" x2="572.52" y2="197.79" stroke="#3a0606" stroke-width="0.8" stroke-opacity="0.85"/>
<line x1="545.04" y1="191.8" x2="561.54" y2="180.49" stroke="#3a0606" stroke-width="1.0" stroke-opacity="0.85"/>
<line x1="556.6" y1="210.21" x2="573.95" y2="200.26" stroke="#3a0606" stroke-width="0.5" stroke-opacity="0.85"/>
<line x1="558.02" y1="212.71" x2="575.47" y2="202.94" stroke="#3a0606" stroke-width="0.8" stroke-opacity="0.85"/>
<line x1="557.79" y1="212.3" x2="575.23" y2="202.51" stroke="#3a0606" stroke-width="1.0" stroke-opacity="0.85"/>
<line x1="556.47" y1="209.98" x2="573.81" y2="200.02" stroke="#3a0606" stroke-width="0.6" stroke-opacity="0.85"/>
<line x1="550.7" y1="200.41" x2="567.62" y2="189.74" stroke="#3a0606" stroke-width="0.5" stroke-opacity="0.85"/>
<line x1="557.33" y1="211.48" x2="574.73" y2="201.63" stroke="#3a0606" stroke-width="0.6" stroke-opacity="0.85"/>
<line x1="552.24" y1="202.87" x2="569.27" y2="192.38" stroke="#3a0606" stroke-width="0.6" stroke-opacity="0.85"/>
<line x1="543.16" y1="189.09" x2="559.52" y2="177.59" stroke="#3a0606" stroke-width="1.0" stroke-opacity="0.85"/>
<line x1="552.45" y1="203.21" x2="569.49" y2="192.75" stroke="#3a0606" stroke-width="0.5" stroke-opacity="0.85"/>
<line x1="551.2" y1="201.2" x2="568.15" y2="190.59" stroke="#3a0606" stroke-width="0.8" stroke-opacity="0.85"/>
<line x1="553.69" y1="205.26" x2="570.83" y2="194.94" stroke="#3a0606" stroke-width="1.0" stroke-opacity="0.85"/>
<line x1="565.74" y1="227.58" x2="583.76" y2="218.91" stroke="#3a0606" stroke-width="0.5" stroke-opacity="0.85"/>
<line x1="566.47" y1="229.1" x2="584.54" y2="220.55" stroke="#3a0606" stroke-width="0.5" stroke-opacity="0.85"/>
<line x1="561.65" y1="219.42" x2="579.37" y2="210.16" stroke="#3a0606" stroke-width="0.8" stroke-opacity="0.85"/>
<line x1="560" y1="216.32" x2="577.6" y2="206.83" stroke="#3a0606" stroke-width="0.5" stroke-opacity="0.85"/>
<line x1="563.66" y1="223.35" x2="581.53" y2="214.37" stroke="#3a0606" stroke-width="0.5" stroke-opacity="0.85"/>
<line x1="565.56" y1="227.21" x2="583.57" y2="218.51" stroke="#3a0606" stroke-width="0.5" stroke-opacity="0.85"/>
<line x1="570.97" y1="239.14" x2="589.38" y2="231.33" stroke="#3a0606" stroke-width="0.6" stroke-opacity="0.85"/>
<path d="M460.35 89.26A291 291 0 0 1 593.89 242.61L575.17 249.65A271 271 0 0 0 450.81 106.84Z" fill="none" stroke="#2a2a2a" stroke-width="0.7"/>
<path d="M594.78 245A291 291 0 0 1 611.16 317.11L591.25 319.03A271 271 0 0 0 575.99 251.87Z" fill="#fb3d3e"/>
<line x1="580.55" y1="265.43" x2="599.67" y2="259.55" stroke="#3a0606" stroke-width="1.0" stroke-opacity="0.85"/>
<line x1="579.64" y1="262.51" x2="598.69" y2="256.42" stroke="#3a0606" stroke-width="1.0" stroke-opacity="0.85"/>
<line x1="579.64" y1="262.5" x2="598.69" y2="256.42" stroke="#3a0606" stroke-width="0.6" stroke-opacity="0.85"/>
<line x1="580.59" y1="265.53" x2="599.71" y2="259.66" stroke="#3a0606" stroke-width="0.8" stroke-opacity="0.85"/>
<line x1="581.65" y1="269.07" x2="600.85" y2="263.47" stroke="#3a0606" stroke-width="0.6" stroke-opacity="0.85"/>
<line x1="581.26" y1="267.76" x2="600.43" y2="262.06" stroke="#3a0606" stroke-width="0.6" stroke-opacity="0.85"/>
<line x1="579.18" y1="261.07" x2="598.19" y2="254.87" stroke="#3a0606" stroke-width="1.0" stroke-opacity="0.85"/>
<line x1="579.31" y1="261.47" x2="598.33" y2="255.31" stroke="#3a0606" stroke-width="0.5" stroke-opacity="0.85"/>
<line x1="580.45" y1="265.08" x2="599.56" y2="259.19" stroke="#3a0606" stroke-width="1.0" stroke-opacity="0.85"/>
<line x1="577.36" y1="255.68" x2="596.24" y2="249.09" stroke="#3a0606" stroke-width="0.8" stroke-opacity="0.85"/>
<line x1="585.7" y1="284.66" x2="605.2" y2="280.21" stroke="#3a0606" stroke-width="0.6" stroke-opacity="0.85"/>
<line x1="586.34" y1="287.54" x2="605.88" y2="283.3" stroke="#3a0606" stroke-width="0.8" stroke-opacity="0.85"/>
<line x1="587.19" y1="291.64" x2="606.8" y2="287.7" stroke="#3a0606" stroke-width="0.6" stroke-opacity="0.85"/>
<line x1="590.09" y1="308.94" x2="609.91" y2="306.28" stroke="#3a0606" stroke-width="0.6" stroke-opacity="0.85"/>
<line x1="589.42" y1="304.29" x2="609.2" y2="301.28" stroke="#3a0606" stroke-width="0.5" stroke-opacity="0.85"/>
<line x1="588.21" y1="296.97" x2="607.89" y2="293.43" stroke="#3a0606" stroke-width="1.0" stroke-opacity="0.85"/>
<line x1="587.28" y1="292.05" x2="606.89" y2="288.14" stroke="#3a0606" stroke-width="0.6" stroke-opacity="0.85"/>
<line x1="587.27" y1="292.02" x2="606.89" y2="288.11" stroke="#3a0606" stroke-width="1.0" stroke-opacity="0.85"/>
<line x1="590.17" y1="309.5" x2="609.99" y2="306.88" stroke="#3a0606" stroke-width="1.0" stroke-opacity="0.85"/>
<line x1="587.98" y1="295.74" x2="607.65" y2="292.1" stroke="#3a0606" stroke-width="0.6" stroke-opacity="0.85"/>
<line x1="588.05" y1="296.1" x2="607.72" y2="292.49" stroke="#3a0606" stroke-width="0.5" stroke-opacity="0.85"/>
<line x1="589.35" y1="303.77" x2="609.11" y2="300.73" stroke="#3a0606" stroke-width="0.5" stroke-opacity="0.85"/>
<line x1="587.98" y1="295.71" x2="607.65" y2="292.07" stroke="#3a0606" stroke-width="1.0" stroke-opacity="0.85"/>
<line x1="588.37" y1="297.86" x2="608.06" y2="294.38" stroke="#3a0606" stroke-width="0.5" stroke-opacity="0.85"/>
<line x1="590.63" y1="313.24" x2="610.49" y2="310.89" stroke="#3a0606" stroke-width="0.8" stroke-opacity="0.85"/>
<path d="M594.78 245A291 291 0 0 1 611.16 317.11L591.25 319.03A271 271 0 0 0 575.99 251.87Z" fill="none" stroke="#2a2a2a" stroke-width="0.7"/>
<path d="M611.39 319.64A291 291 0 0 1 611.79 365.3L591.84 363.9A271 271 0 0 0 591.47 321.38Z" fill="#fb3d3e"/>
<line x1="592.13" y1="330.81" x2="612.1" y2="329.76" stroke="#3a0606" stroke-width="0.5" stroke-opacity="0.85"/>
<path d="M612.45 339.41A291 291 0 0 1 612.48 341.44L592.48 341.69A271 271 0 0 0 592.45 339.8Z" fill="#3a0606" fill-opacity="0.84"/>
<line x1="592.45" y1="340.01" x2="612.45" y2="339.64" stroke="#3a0606" stroke-width="0.6" stroke-opacity="0.85"/>
<line x1="592.48" y1="341.64" x2="612.48" y2="341.39" stroke="#3a0606" stroke-width="0.5" stroke-opacity="0.85"/>
<path d="M612.49 342.97A291 291 0 0 1 612.5 345.51L592.5 345.47A271 271 0 0 0 592.49 343.11Z" fill="#3a0606" fill-opacity="0.60"/>
<line x1="592.49" y1="343.31" x2="612.49" y2="343.18" stroke="#3a0606" stroke-width="0.8" stroke-opacity="0.85"/>
<line x1="592.49" y1="343.2" x2="612.49" y2="343.07" stroke="#3a0606" stroke-width="0.6" stroke-opacity="0.85"/>
<line x1="592.49" y1="347.14" x2="612.49" y2="347.29" stroke="#3a0606" stroke-width="0.6" stroke-opacity="0.85"/>
<path d="M612.41 352.11A291 291 0 0 1 612.37 353.63L592.38 353.04A271 271 0 0 0 592.42 351.62Z" fill="#3a0606" fill-opacity="0.84"/>
<line x1="592.39" y1="352.78" x2="612.38" y2="353.36" stroke="#3a0606" stroke-width="0.8" stroke-opacity="0.85"/>
<line x1="592.21" y1="357.45" x2="612.19" y2="358.37" stroke="#3a0606" stroke-width="1.0" stroke-opacity="0.85"/>
<path d="M611.39 319.64A291 291 0 0 1 611.79 365.3L591.84 363.9A271 271 0 0 0 591.47 321.38Z" fill="none" stroke="#2a2a2a" stroke-width="0.7"/>
<path d="M611.6 367.83A291 291 0 0 1 600.08 429.11L580.93 423.33A271 271 0 0 0 591.66 366.26Z" fill="#fb3d3e"/>
<line x1="591.23" y1="371.21" x2="611.14" y2="373.15" stroke="#3a0606" stroke-width="0.5" stroke-opacity="0.85"/>
<line x1="591.5" y1="368.24" x2="611.43" y2="369.95" stroke="#3a0606" stroke-width="0.6" stroke-opacity="0.85"/>
<line x1="591.41" y1="369.27" x2="611.33" y2="371.06" stroke="#3a0606" stroke-width="0.5" stroke-opacity="0.85"/>
<path d="M610.91 375.42A291 291 0 0 1 609.67 385.5L589.86 382.72A271 271 0 0 0 591.02 373.33Z" fill="#3a0606" fill-opacity="0.36"/>
<line x1="590.74" y1="375.86" x2="610.61" y2="378.13" stroke="#3a0606" stroke-width="0.5" stroke-opacity="0.85"/>
<line x1="590.32" y1="379.29" x2="610.16" y2="381.82" stroke="#3a0606" stroke-width="0.8" stroke-opacity="0.85"/>
<line x1="590.93" y1="374.11" x2="610.82" y2="376.26" stroke="#3a0606" stroke-width="0.6" stroke-opacity="0.85"/>
<line x1="590.95" y1="373.95" x2="610.83" y2="376.09" stroke="#3a0606" stroke-width="0.5" stroke-opacity="0.85"/>
<line x1="590.53" y1="377.59" x2="610.39" y2="380" stroke="#3a0606" stroke-width="0.8" stroke-opacity="0.85"/>
<line x1="589.87" y1="382.66" x2="609.68" y2="385.44" stroke="#3a0606" stroke-width="1.0" stroke-opacity="0.85"/>
<line x1="589.96" y1="382.03" x2="609.77" y2="384.76" stroke="#3a0606" stroke-width="0.8" stroke-opacity="0.85"/>
<line x1="590.34" y1="379.17" x2="610.18" y2="381.69" stroke="#3a0606" stroke-width="0.5" stroke-opacity="0.85"/>
<line x1="588.51" y1="391.33" x2="608.22" y2="394.75" stroke="#3a0606" stroke-width="0.6" stroke-opacity="0.85"/>
<line x1="587.26" y1="398.02" x2="606.88" y2="401.94" stroke="#3a0606" stroke-width="0.6" stroke-opacity="0.85"/>
<line x1="589.22" y1="387" x2="608.98" y2="390.1" stroke="#3a0606" stroke-width="0.6" stroke-opacity="0.85"/>
<line x1="589.38" y1="386.02" x2="609.15" y2="389.05" stroke="#3a0606" stroke-width="0.8" stroke-opacity="0.85"/>
<line x1="588.22" y1="392.99" x2="607.9" y2="396.53" stroke="#3a0606" stroke-width="0.6" stroke-opacity="0.85"/>
<line x1="589.15" y1="387.46" x2="608.91" y2="390.6" stroke="#3a0606" stroke-width="0.6" stroke-opacity="0.85"/>
<line x1="589.2" y1="387.15" x2="608.96" y2="390.26" stroke="#3a0606" stroke-width="0.5" stroke-opacity="0.85"/>
<line x1="587.08" y1="398.94" x2="606.68" y2="402.92" stroke="#3a0606" stroke-width="0.5" stroke-opacity="0.85"/>
<line x1="589.83" y1="382.97" x2="609.63" y2="385.77" stroke="#3a0606" stroke-width="0.6" stroke-opacity="0.85"/>
<path d="M606.66 403.02A291 291 0 0 1 605.04 410.46L585.55 405.96A271 271 0 0 0 587.06 399.03Z" fill="#3a0606" fill-opacity="0.36"/>
<line x1="586.31" y1="402.6" x2="605.85" y2="406.85" stroke="#3a0606" stroke-width="0.6" stroke-opacity="0.85"/>
<line x1="585.66" y1="405.51" x2="605.15" y2="409.98" stroke="#3a0606" stroke-width="0.5" stroke-opacity="0.85"/>
<line x1="586.09" y1="403.6" x2="605.62" y2="407.92" stroke="#3a0606" stroke-width="1.0" stroke-opacity="0.85"/>
<line x1="586.09" y1="403.58" x2="605.62" y2="407.91" stroke="#3a0606" stroke-width="1.0" stroke-opacity="0.85"/>
<line x1="585.6" y1="405.76" x2="605.09" y2="410.24" stroke="#3a0606" stroke-width="0.8" stroke-opacity="0.85"/>
<line x1="586.04" y1="403.8" x2="605.57" y2="408.14" stroke="#3a0606" stroke-width="0.6" stroke-opacity="0.85"/>
<line x1="585.11" y1="407.86" x2="604.56" y2="412.49" stroke="#3a0606" stroke-width="0.6" stroke-opacity="0.85"/>
<line x1="585.03" y1="408.2" x2="604.48" y2="412.86" stroke="#3a0606" stroke-width="0.8" stroke-opacity="0.85"/>
<line x1="584.24" y1="411.38" x2="603.64" y2="416.28" stroke="#3a0606" stroke-width="0.6" stroke-opacity="0.85"/>
<path d="M603.61 416.38A291 291 0 0 1 602.32 421.3L583.02 416.05A271 271 0 0 0 584.22 411.48Z" fill="#3a0606" fill-opacity="0.84"/>
<line x1="584.2" y1="411.54" x2="603.59" y2="416.45" stroke="#3a0606" stroke-width="0.8" stroke-opacity="0.85"/>
<line x1="583.71" y1="413.45" x2="603.06" y2="418.5" stroke="#3a0606" stroke-width="0.5" stroke-opacity="0.85"/>
<line x1="584.12" y1="411.87" x2="603.5" y2="416.8" stroke="#3a0606" stroke-width="1.0" stroke-opacity="0.85"/>
<line x1="583.18" y1="415.46" x2="602.49" y2="420.66" stroke="#3a0606" stroke-width="0.8" stroke-opacity="0.85"/>
<line x1="583.51" y1="414.22" x2="602.85" y2="419.33" stroke="#3a0606" stroke-width="0.8" stroke-opacity="0.85"/>
<line x1="582.93" y1="416.38" x2="602.22" y2="421.65" stroke="#3a0606" stroke-width="0.6" stroke-opacity="0.85"/>
<line x1="582.7" y1="417.2" x2="601.98" y2="422.53" stroke="#3a0606" stroke-width="1.0" stroke-opacity="0.85"/>
<line x1="583.01" y1="416.08" x2="602.31" y2="421.33" stroke="#3a0606" stroke-width="0.8" stroke-opacity="0.85"/>
<path d="M611.6 367.83A291 291 0 0 1 600.08 429.11L580.93 423.33A271 271 0 0 0 591.66 366.26Z" fill="none" stroke="#2a2a2a" stroke-width="0.7"/>
<path d="M599.34 431.54A291 291 0 0 1 553.9 520.13L537.93 508.09A271 271 0 0 0 580.24 425.59Z" fill="#fb3d3e"/>
<line x1="578.56" y1="430.78" x2="597.54" y2="437.11" stroke="#3a0606" stroke-width="0.8" stroke-opacity="0.85"/>
<line x1="579.82" y1="426.91" x2="598.89" y2="432.96" stroke="#3a0606" stroke-width="0.8" stroke-opacity="0.85"/>
<path d="M597.46 437.34A291 291 0 0 1 588.16 461.5L569.83 453.49A271 271 0 0 0 578.5 430.99Z" fill="#3a0606" fill-opacity="0.48"/>
<line x1="576.78" y1="435.96" x2="595.62" y2="442.67" stroke="#3a0606" stroke-width="0.6" stroke-opacity="0.85"/>
<line x1="578.49" y1="431.01" x2="597.45" y2="437.36" stroke="#3a0606" stroke-width="1.0" stroke-opacity="0.85"/>
<line x1="577.85" y1="432.91" x2="596.77" y2="439.39" stroke="#3a0606" stroke-width="0.8" stroke-opacity="0.85"/>
<line x1="574.39" y1="442.4" x2="593.06" y2="449.59" stroke="#3a0606" stroke-width="0.6" stroke-opacity="0.85"/>
<line x1="576.53" y1="436.65" x2="595.36" y2="443.41" stroke="#3a0606" stroke-width="0.5" stroke-opacity="0.85"/>
<line x1="577.79" y1="433.07" x2="596.71" y2="439.56" stroke="#3a0606" stroke-width="0.5" stroke-opacity="0.85"/>
<line x1="577.37" y1="434.27" x2="596.26" y2="440.86" stroke="#3a0606" stroke-width="0.5" stroke-opacity="0.85"/>
<line x1="575.32" y1="439.95" x2="594.06" y2="446.95" stroke="#3a0606" stroke-width="0.8" stroke-opacity="0.85"/>
<line x1="576.07" y1="437.92" x2="594.86" y2="444.77" stroke="#3a0606" stroke-width="0.6" stroke-opacity="0.85"/>
<line x1="577.84" y1="432.92" x2="596.76" y2="439.41" stroke="#3a0606" stroke-width="0.6" stroke-opacity="0.85"/>
<line x1="573.03" y1="445.88" x2="591.59" y2="453.32" stroke="#3a0606" stroke-width="1.0" stroke-opacity="0.85"/>
<line x1="572.06" y1="448.26" x2="590.55" y2="455.88" stroke="#3a0606" stroke-width="1.0" stroke-opacity="0.85"/>
<line x1="577.33" y1="434.4" x2="596.21" y2="441" stroke="#3a0606" stroke-width="0.6" stroke-opacity="0.85"/>
<line x1="578.16" y1="431.99" x2="597.1" y2="438.41" stroke="#3a0606" stroke-width="1.0" stroke-opacity="0.85"/>
<line x1="572.33" y1="447.58" x2="590.85" y2="455.15" stroke="#3a0606" stroke-width="0.6" stroke-opacity="0.85"/>
<line x1="570.7" y1="451.5" x2="589.09" y2="459.36" stroke="#3a0606" stroke-width="0.5" stroke-opacity="0.85"/>
<line x1="571.48" y1="449.64" x2="589.93" y2="457.37" stroke="#3a0606" stroke-width="0.6" stroke-opacity="0.85"/>
<line x1="577.84" y1="432.93" x2="596.75" y2="439.42" stroke="#3a0606" stroke-width="0.5" stroke-opacity="0.85"/>
<line x1="577.46" y1="434.03" x2="596.35" y2="440.6" stroke="#3a0606" stroke-width="0.8" stroke-opacity="0.85"/>
<line x1="570.22" y1="452.6" x2="588.58" y2="460.54" stroke="#3a0606" stroke-width="1.0" stroke-opacity="0.85"/>
<line x1="571.39" y1="449.85" x2="589.84" y2="457.59" stroke="#3a0606" stroke-width="0.5" stroke-opacity="0.85"/>
<line x1="562.98" y1="467.99" x2="580.81" y2="477.07" stroke="#3a0606" stroke-width="0.6" stroke-opacity="0.85"/>
<line x1="564.57" y1="464.83" x2="582.51" y2="473.67" stroke="#3a0606" stroke-width="0.5" stroke-opacity="0.85"/>
<line x1="564.93" y1="464.09" x2="582.9" y2="472.87" stroke="#3a0606" stroke-width="0.5" stroke-opacity="0.85"/>
<line x1="561.57" y1="470.72" x2="579.29" y2="480" stroke="#3a0606" stroke-width="0.5" stroke-opacity="0.85"/>
<line x1="562.62" y1="468.71" x2="580.41" y2="477.84" stroke="#3a0606" stroke-width="0.5" stroke-opacity="0.85"/>
<line x1="561.6" y1="470.67" x2="579.32" y2="479.94" stroke="#3a0606" stroke-width="1.0" stroke-opacity="0.85"/>
<line x1="567.19" y1="459.37" x2="585.32" y2="467.81" stroke="#3a0606" stroke-width="0.5" stroke-opacity="0.85"/>
<line x1="560.4" y1="472.93" x2="578.03" y2="482.37" stroke="#3a0606" stroke-width="0.6" stroke-opacity="0.85"/>
<line x1="561.8" y1="470.29" x2="579.53" y2="479.54" stroke="#3a0606" stroke-width="0.6" stroke-opacity="0.85"/>
<line x1="567.42" y1="458.87" x2="585.57" y2="467.27" stroke="#3a0606" stroke-width="1.0" stroke-opacity="0.85"/>
<line x1="548.9" y1="492.41" x2="565.69" y2="503.28" stroke="#3a0606" stroke-width="1.0" stroke-opacity="0.85"/>
<line x1="557.1" y1="478.92" x2="574.49" y2="488.8" stroke="#3a0606" stroke-width="0.8" stroke-opacity="0.85"/>
<line x1="543.12" y1="500.96" x2="559.48" y2="512.48" stroke="#3a0606" stroke-width="0.6" stroke-opacity="0.85"/>
<path d="M599.34 431.54A291 291 0 0 1 553.9 520.13L537.93 508.09A271 271 0 0 0 580.24 425.59Z" fill="none" stroke="#2a2a2a" stroke-width="0.7"/>
<path d="M552.37 522.15A291 291 0 0 1 476.57 591.24L465.91 574.32A271 271 0 0 0 536.5 509.97Z" fill="#fb3d3e"/>
<line x1="535.27" y1="511.57" x2="551.04" y2="523.86" stroke="#3a0606" stroke-width="0.6" stroke-opacity="0.85"/>
<line x1="531.14" y1="516.74" x2="546.61" y2="529.41" stroke="#3a0606" stroke-width="0.8" stroke-opacity="0.85"/>
<line x1="512.33" y1="537.41" x2="526.42" y2="551.61" stroke="#3a0606" stroke-width="0.6" stroke-opacity="0.85"/>
<line x1="519.55" y1="529.98" x2="534.17" y2="543.63" stroke="#3a0606" stroke-width="0.5" stroke-opacity="0.85"/>
<line x1="513.96" y1="535.78" x2="528.17" y2="549.86" stroke="#3a0606" stroke-width="0.5" stroke-opacity="0.85"/>
<line x1="511.47" y1="538.26" x2="525.49" y2="552.53" stroke="#3a0606" stroke-width="1.0" stroke-opacity="0.85"/>
<line x1="516.29" y1="533.41" x2="530.66" y2="547.32" stroke="#3a0606" stroke-width="0.8" stroke-opacity="0.85"/>
<line x1="514.22" y1="535.53" x2="528.44" y2="549.59" stroke="#3a0606" stroke-width="1.0" stroke-opacity="0.85"/>
<line x1="510.56" y1="539.16" x2="524.51" y2="553.49" stroke="#3a0606" stroke-width="0.6" stroke-opacity="0.85"/>
<line x1="516.04" y1="533.67" x2="530.4" y2="547.59" stroke="#3a0606" stroke-width="0.5" stroke-opacity="0.85"/>
<line x1="492.39" y1="555.33" x2="505" y2="570.85" stroke="#3a0606" stroke-width="0.5" stroke-opacity="0.85"/>
<line x1="503.07" y1="546.18" x2="516.47" y2="561.02" stroke="#3a0606" stroke-width="0.5" stroke-opacity="0.85"/>
<line x1="494.35" y1="553.72" x2="507.1" y2="569.13" stroke="#3a0606" stroke-width="1.0" stroke-opacity="0.85"/>
<line x1="491.41" y1="556.12" x2="503.95" y2="571.7" stroke="#3a0606" stroke-width="1.0" stroke-opacity="0.85"/>
<line x1="504.36" y1="545.01" x2="517.85" y2="559.77" stroke="#3a0606" stroke-width="0.6" stroke-opacity="0.85"/>
<line x1="506.52" y1="543.01" x2="520.17" y2="557.63" stroke="#3a0606" stroke-width="0.5" stroke-opacity="0.85"/>
<line x1="505.45" y1="544.01" x2="519.02" y2="558.69" stroke="#3a0606" stroke-width="0.8" stroke-opacity="0.85"/>
<line x1="492.11" y1="555.55" x2="504.7" y2="571.09" stroke="#3a0606" stroke-width="0.6" stroke-opacity="0.85"/>
<line x1="497.95" y1="550.69" x2="510.97" y2="565.87" stroke="#3a0606" stroke-width="0.8" stroke-opacity="0.85"/>
<line x1="493.22" y1="554.65" x2="505.89" y2="570.12" stroke="#3a0606" stroke-width="0.8" stroke-opacity="0.85"/>
<line x1="504.01" y1="545.33" x2="517.48" y2="560.11" stroke="#3a0606" stroke-width="1.0" stroke-opacity="0.85"/>
<line x1="501.38" y1="547.69" x2="514.65" y2="562.65" stroke="#3a0606" stroke-width="0.6" stroke-opacity="0.85"/>
<line x1="507.64" y1="541.96" x2="521.38" y2="556.49" stroke="#3a0606" stroke-width="1.0" stroke-opacity="0.85"/>
<line x1="496.65" y1="551.79" x2="509.58" y2="567.05" stroke="#3a0606" stroke-width="1.0" stroke-opacity="0.85"/>
<line x1="502.87" y1="546.36" x2="516.26" y2="561.22" stroke="#3a0606" stroke-width="0.6" stroke-opacity="0.85"/>
<line x1="501.02" y1="548.01" x2="514.27" y2="562.99" stroke="#3a0606" stroke-width="1.0" stroke-opacity="0.85"/>
<path d="M503.84 571.79A291 291 0 0 1 488.41 583.37L476.94 566.99A271 271 0 0 0 491.31 556.2Z" fill="#3a0606" fill-opacity="0.89"/>
<line x1="486.85" y1="559.71" x2="499.05" y2="575.56" stroke="#3a0606" stroke-width="0.8" stroke-opacity="0.85"/>
<line x1="491.29" y1="556.22" x2="503.82" y2="571.81" stroke="#3a0606" stroke-width="0.8" stroke-opacity="0.85"/>
<line x1="479.3" y1="565.32" x2="490.94" y2="581.58" stroke="#3a0606" stroke-width="0.5" stroke-opacity="0.85"/>
<line x1="477.82" y1="566.37" x2="489.36" y2="582.71" stroke="#3a0606" stroke-width="0.6" stroke-opacity="0.85"/>
<line x1="481.14" y1="563.99" x2="492.92" y2="580.15" stroke="#3a0606" stroke-width="0.8" stroke-opacity="0.85"/>
<line x1="487.74" y1="559.02" x2="500.01" y2="574.82" stroke="#3a0606" stroke-width="0.5" stroke-opacity="0.85"/>
<line x1="485.75" y1="560.55" x2="497.87" y2="576.46" stroke="#3a0606" stroke-width="0.5" stroke-opacity="0.85"/>
<line x1="486.21" y1="560.2" x2="498.36" y2="576.08" stroke="#3a0606" stroke-width="1.0" stroke-opacity="0.85"/>
<line x1="480.52" y1="564.44" x2="492.25" y2="580.64" stroke="#3a0606" stroke-width="0.5" stroke-opacity="0.85"/>
<line x1="487.35" y1="559.32" x2="499.59" y2="575.14" stroke="#3a0606" stroke-width="0.5" stroke-opacity="0.85"/>
<line x1="479.36" y1="565.27" x2="491.01" y2="581.53" stroke="#3a0606" stroke-width="0.8" stroke-opacity="0.85"/>
<line x1="482.27" y1="563.16" x2="494.13" y2="579.26" stroke="#3a0606" stroke-width="0.6" stroke-opacity="0.85"/>
<line x1="487.79" y1="558.98" x2="500.07" y2="574.77" stroke="#3a0606" stroke-width="0.8" stroke-opacity="0.85"/>
<line x1="485.13" y1="561.02" x2="497.2" y2="576.97" stroke="#3a0606" stroke-width="0.8" stroke-opacity="0.85"/>
<line x1="488.64" y1="558.32" x2="500.97" y2="574.07" stroke="#3a0606" stroke-width="0.8" stroke-opacity="0.85"/>
<line x1="480.09" y1="564.75" x2="491.79" y2="580.97" stroke="#3a0606" stroke-width="1.0" stroke-opacity="0.85"/>
<line x1="478.64" y1="565.79" x2="490.24" y2="582.09" stroke="#3a0606" stroke-width="1.0" stroke-opacity="0.85"/>
<line x1="478.21" y1="566.09" x2="489.78" y2="582.41" stroke="#3a0606" stroke-width="0.6" stroke-opacity="0.85"/>
<line x1="481.04" y1="564.06" x2="492.82" y2="580.23" stroke="#3a0606" stroke-width="0.5" stroke-opacity="0.85"/>
<line x1="466.65" y1="573.85" x2="477.37" y2="590.74" stroke="#3a0606" stroke-width="1.0" stroke-opacity="0.85"/>
<line x1="472.01" y1="570.36" x2="483.12" y2="586.99" stroke="#3a0606" stroke-width="0.6" stroke-opacity="0.85"/>
<line x1="469.87" y1="571.77" x2="480.82" y2="588.51" stroke="#3a0606" stroke-width="0.8" stroke-opacity="0.85"/>
<line x1="471.63" y1="570.62" x2="482.71" y2="587.27" stroke="#3a0606" stroke-width="0.6" stroke-opacity="0.85"/>
<line x1="475.08" y1="568.28" x2="486.42" y2="584.76" stroke="#3a0606" stroke-width="1.0" stroke-opacity="0.85"/>
<line x1="473.19" y1="569.57" x2="484.38" y2="586.14" stroke="#3a0606" stroke-width="0.8" stroke-opacity="0.85"/>
<path d="M552.37 522.15A291 291 0 0 1 476.57 591.24L465.91 574.32A271 271 0 0 0 536.5 509.97Z" fill="none" stroke="#2a2a2a" stroke-width="0.7"/>
<path d="M474.41 592.59A291 291 0 0 1 404.15 624.02L398.47 604.84A271 271 0 0 0 463.9 575.57Z" fill="#fb3d3e"/>
<line x1="457.36" y1="579.48" x2="467.39" y2="596.79" stroke="#3a0606" stroke-width="0.8" stroke-opacity="0.85"/>
<line x1="436.7" y1="590.3" x2="445.2" y2="608.4" stroke="#3a0606" stroke-width="0.6" stroke-opacity="0.85"/>
<line x1="432.45" y1="592.25" x2="440.64" y2="610.49" stroke="#3a0606" stroke-width="1.0" stroke-opacity="0.85"/>
<line x1="434.09" y1="591.5" x2="442.4" y2="609.7" stroke="#3a0606" stroke-width="0.6" stroke-opacity="0.85"/>
<line x1="434.49" y1="591.32" x2="442.83" y2="609.5" stroke="#3a0606" stroke-width="1.0" stroke-opacity="0.85"/>
<line x1="430.19" y1="593.25" x2="438.21" y2="611.57" stroke="#3a0606" stroke-width="1.0" stroke-opacity="0.85"/>
<line x1="426.94" y1="594.65" x2="434.72" y2="613.07" stroke="#3a0606" stroke-width="1.0" stroke-opacity="0.85"/>
<line x1="431.3" y1="592.76" x2="439.41" y2="611.04" stroke="#3a0606" stroke-width="0.6" stroke-opacity="0.85"/>
<line x1="423.41" y1="596.11" x2="430.93" y2="614.64" stroke="#3a0606" stroke-width="0.6" stroke-opacity="0.85"/>
<line x1="422.34" y1="596.54" x2="429.78" y2="615.1" stroke="#3a0606" stroke-width="0.5" stroke-opacity="0.85"/>
<line x1="422.59" y1="596.44" x2="430.05" y2="615" stroke="#3a0606" stroke-width="0.8" stroke-opacity="0.85"/>
<line x1="423.26" y1="596.17" x2="430.77" y2="614.71" stroke="#3a0606" stroke-width="0.6" stroke-opacity="0.85"/>
<line x1="405.56" y1="602.63" x2="411.76" y2="621.65" stroke="#3a0606" stroke-width="1.0" stroke-opacity="0.85"/>
<line x1="410.99" y1="600.8" x2="417.59" y2="619.68" stroke="#3a0606" stroke-width="0.6" stroke-opacity="0.85"/>
<line x1="411.05" y1="600.78" x2="417.66" y2="619.65" stroke="#3a0606" stroke-width="0.8" stroke-opacity="0.85"/>
<line x1="407.02" y1="602.15" x2="413.33" y2="621.13" stroke="#3a0606" stroke-width="1.0" stroke-opacity="0.85"/>
<line x1="412.11" y1="600.4" x2="418.8" y2="619.25" stroke="#3a0606" stroke-width="0.8" stroke-opacity="0.85"/>
<line x1="413.73" y1="599.82" x2="420.54" y2="618.63" stroke="#3a0606" stroke-width="0.6" stroke-opacity="0.85"/>
<line x1="414.09" y1="599.69" x2="420.92" y2="618.49" stroke="#3a0606" stroke-width="0.6" stroke-opacity="0.85"/>
<line x1="402.09" y1="603.74" x2="408.04" y2="622.84" stroke="#3a0606" stroke-width="1.0" stroke-opacity="0.85"/>
<line x1="401.81" y1="603.83" x2="407.74" y2="622.93" stroke="#3a0606" stroke-width="0.8" stroke-opacity="0.85"/>
<path d="M474.41 592.59A291 291 0 0 1 404.15 624.02L398.47 604.84A271 271 0 0 0 463.9 575.57Z" fill="none" stroke="#2a2a2a" stroke-width="0.7"/>
<path d="M401.71 624.73A291 291 0 0 1 281 633.17L283.78 613.36A271 271 0 0 0 396.2 605.5Z" fill="#45c1f7"/>
<line x1="384.2" y1="608.65" x2="388.83" y2="628.1" stroke="#073048" stroke-width="0.5" stroke-opacity="0.85"/>
<line x1="392.47" y1="606.54" x2="397.71" y2="625.84" stroke="#073048" stroke-width="1.0" stroke-opacity="0.85"/>
<line x1="385.8" y1="608.26" x2="390.55" y2="627.69" stroke="#073048" stroke-width="1.0" stroke-opacity="0.85"/>
<line x1="382.83" y1="608.97" x2="387.35" y2="628.45" stroke="#073048" stroke-width="1.0" stroke-opacity="0.85"/>
<line x1="393.92" y1="606.14" x2="399.26" y2="625.42" stroke="#073048" stroke-width="1.0" stroke-opacity="0.85"/>
<line x1="383.27" y1="608.87" x2="387.82" y2="628.34" stroke="#073048" stroke-width="1.0" stroke-opacity="0.85"/>
<line x1="336.08" y1="615.61" x2="337.15" y2="635.58" stroke="#073048" stroke-width="0.6" stroke-opacity="0.85"/>
<line x1="345.18" y1="614.96" x2="346.92" y2="634.89" stroke="#073048" stroke-width="0.6" stroke-opacity="0.85"/>
<line x1="331.6" y1="615.81" x2="332.35" y2="635.8" stroke="#073048" stroke-width="0.5" stroke-opacity="0.85"/>
<line x1="315.6" y1="615.94" x2="315.16" y2="635.93" stroke="#073048" stroke-width="1.0" stroke-opacity="0.85"/>
<line x1="333.01" y1="615.76" x2="333.86" y2="635.74" stroke="#073048" stroke-width="0.5" stroke-opacity="0.85"/>
<line x1="334.71" y1="615.68" x2="335.69" y2="635.65" stroke="#073048" stroke-width="0.6" stroke-opacity="0.85"/>
<line x1="330.01" y1="615.87" x2="330.64" y2="635.86" stroke="#073048" stroke-width="0.5" stroke-opacity="0.85"/>
<line x1="321.62" y1="616" x2="321.62" y2="636" stroke="#073048" stroke-width="0.8" stroke-opacity="0.85"/>
<line x1="315.17" y1="615.93" x2="314.7" y2="635.92" stroke="#073048" stroke-width="0.8" stroke-opacity="0.85"/>
<line x1="308.66" y1="615.7" x2="307.72" y2="635.67" stroke="#073048" stroke-width="1.0" stroke-opacity="0.85"/>
<line x1="300.57" y1="615.19" x2="299.03" y2="635.13" stroke="#073048" stroke-width="0.5" stroke-opacity="0.85"/>
<line x1="303.12" y1="615.38" x2="301.76" y2="635.33" stroke="#073048" stroke-width="0.8" stroke-opacity="0.85"/>
<path d="M294.62 634.76A291 291 0 0 1 287.04 633.95L289.41 614.09A271 271 0 0 0 296.47 614.84Z" fill="#073048" fill-opacity="0.72"/>
<line x1="292.77" y1="614.47" x2="290.64" y2="634.36" stroke="#073048" stroke-width="0.6" stroke-opacity="0.85"/>
<line x1="293.73" y1="614.57" x2="291.68" y2="634.47" stroke="#073048" stroke-width="0.6" stroke-opacity="0.85"/>
<line x1="290.89" y1="614.27" x2="288.63" y2="634.14" stroke="#073048" stroke-width="0.5" stroke-opacity="0.85"/>
<line x1="296.39" y1="614.83" x2="294.54" y2="634.75" stroke="#073048" stroke-width="0.8" stroke-opacity="0.85"/>
<line x1="289.44" y1="614.1" x2="287.07" y2="633.96" stroke="#073048" stroke-width="0.8" stroke-opacity="0.85"/>
<line x1="289.7" y1="614.13" x2="287.36" y2="633.99" stroke="#073048" stroke-width="0.6" stroke-opacity="0.85"/>
<line x1="293.11" y1="614.51" x2="291.02" y2="634.4" stroke="#073048" stroke-width="0.6" stroke-opacity="0.85"/>
<line x1="286.33" y1="613.71" x2="283.74" y2="633.54" stroke="#073048" stroke-width="0.5" stroke-opacity="0.85"/>
<line x1="284.01" y1="613.39" x2="281.24" y2="633.2" stroke="#073048" stroke-width="0.8" stroke-opacity="0.85"/>
<path d="M401.71 624.73A291 291 0 0 1 281 633.17L283.78 613.36A271 271 0 0 0 396.2 605.5Z" fill="none" stroke="#2a2a2a" stroke-width="0.7"/>
<path d="M278.49 632.8A291 291 0 0 1 140.75 573.05L153.17 557.38A271 271 0 0 0 281.44 613.02Z" fill="#45c1f7"/>
<line x1="278.21" y1="612.52" x2="275.02" y2="632.26" stroke="#073048" stroke-width="0.6" stroke-opacity="0.85"/>
<line x1="252.6" y1="607.09" x2="247.51" y2="626.44" stroke="#073048" stroke-width="1.0" stroke-opacity="0.85"/>
<line x1="276.71" y1="612.27" x2="273.4" y2="632" stroke="#073048" stroke-width="0.6" stroke-opacity="0.85"/>
<line x1="242.98" y1="604.38" x2="237.19" y2="623.52" stroke="#073048" stroke-width="0.8" stroke-opacity="0.85"/>
<line x1="268.24" y1="610.71" x2="264.31" y2="630.32" stroke="#073048" stroke-width="0.5" stroke-opacity="0.85"/>
<line x1="241.37" y1="603.88" x2="235.46" y2="622.99" stroke="#073048" stroke-width="1.0" stroke-opacity="0.85"/>
<line x1="260.4" y1="609.02" x2="255.9" y2="628.51" stroke="#073048" stroke-width="1.0" stroke-opacity="0.85"/>
<line x1="269.9" y1="611.04" x2="266.09" y2="630.68" stroke="#073048" stroke-width="0.8" stroke-opacity="0.85"/>
<line x1="196.97" y1="585.69" x2="187.78" y2="603.46" stroke="#073048" stroke-width="0.5" stroke-opacity="0.85"/>
<line x1="216.64" y1="594.89" x2="208.9" y2="613.33" stroke="#073048" stroke-width="0.6" stroke-opacity="0.85"/>
<line x1="212.66" y1="593.18" x2="204.62" y2="611.5" stroke="#073048" stroke-width="0.6" stroke-opacity="0.85"/>
<line x1="215.68" y1="594.48" x2="207.87" y2="612.9" stroke="#073048" stroke-width="0.6" stroke-opacity="0.85"/>
<line x1="214.4" y1="593.94" x2="206.49" y2="612.31" stroke="#073048" stroke-width="0.8" stroke-opacity="0.85"/>
<line x1="220.26" y1="596.38" x2="212.78" y2="614.93" stroke="#073048" stroke-width="1.0" stroke-opacity="0.85"/>
<line x1="201.65" y1="588.06" x2="192.81" y2="606" stroke="#073048" stroke-width="0.6" stroke-opacity="0.85"/>
<line x1="206.24" y1="590.27" x2="197.73" y2="608.37" stroke="#073048" stroke-width="0.5" stroke-opacity="0.85"/>
<line x1="189.46" y1="581.66" x2="179.71" y2="599.12" stroke="#073048" stroke-width="0.6" stroke-opacity="0.85"/>
<line x1="190.41" y1="582.19" x2="180.74" y2="599.69" stroke="#073048" stroke-width="0.5" stroke-opacity="0.85"/>
<line x1="216.35" y1="594.77" x2="208.59" y2="613.2" stroke="#073048" stroke-width="0.6" stroke-opacity="0.85"/>
<line x1="208.81" y1="591.46" x2="200.49" y2="609.65" stroke="#073048" stroke-width="0.5" stroke-opacity="0.85"/>
<line x1="217.43" y1="595.22" x2="209.75" y2="613.69" stroke="#073048" stroke-width="1.0" stroke-opacity="0.85"/>
<line x1="191.26" y1="582.65" x2="181.65" y2="600.19" stroke="#073048" stroke-width="0.8" stroke-opacity="0.85"/>
<path d="M177.76 598.02A291 291 0 0 1 159.62 586.82L170.74 570.2A271 271 0 0 0 187.64 580.63Z" fill="#073048" fill-opacity="0.55"/>
<line x1="175.18" y1="573.11" x2="164.39" y2="589.94" stroke="#073048" stroke-width="0.5" stroke-opacity="0.85"/>
<line x1="171.87" y1="570.95" x2="160.83" y2="587.63" stroke="#073048" stroke-width="0.8" stroke-opacity="0.85"/>
<line x1="184.36" y1="578.74" x2="174.24" y2="595.99" stroke="#073048" stroke-width="1.0" stroke-opacity="0.85"/>
<line x1="187.09" y1="580.32" x2="177.17" y2="597.69" stroke="#073048" stroke-width="1.0" stroke-opacity="0.85"/>
<line x1="173.41" y1="571.96" x2="162.48" y2="588.71" stroke="#073048" stroke-width="0.8" stroke-opacity="0.85"/>
<line x1="180.07" y1="576.17" x2="169.63" y2="593.23" stroke="#073048" stroke-width="0.5" stroke-opacity="0.85"/>
<line x1="187.59" y1="580.6" x2="177.71" y2="597.99" stroke="#073048" stroke-width="0.8" stroke-opacity="0.85"/>
<line x1="186.25" y1="579.84" x2="176.27" y2="597.17" stroke="#073048" stroke-width="1.0" stroke-opacity="0.85"/>
<line x1="171.48" y1="570.69" x2="160.41" y2="587.34" stroke="#073048" stroke-width="0.5" stroke-opacity="0.85"/>
<line x1="178.07" y1="574.93" x2="167.48" y2="591.9" stroke="#073048" stroke-width="0.6" stroke-opacity="0.85"/>
<line x1="181.13" y1="576.81" x2="170.77" y2="593.92" stroke="#073048" stroke-width="0.8" stroke-opacity="0.85"/>
<line x1="173.69" y1="572.14" x2="162.79" y2="588.91" stroke="#073048" stroke-width="1.0" stroke-opacity="0.85"/>
<line x1="186.13" y1="579.77" x2="176.14" y2="597.09" stroke="#073048" stroke-width="1.0" stroke-opacity="0.85"/>
<line x1="184.28" y1="578.69" x2="174.15" y2="595.93" stroke="#073048" stroke-width="1.0" stroke-opacity="0.85"/>
<line x1="184.32" y1="578.72" x2="174.2" y2="595.96" stroke="#073048" stroke-width="0.8" stroke-opacity="0.85"/>
<line x1="175.11" y1="573.06" x2="164.3" y2="589.89" stroke="#073048" stroke-width="1.0" stroke-opacity="0.85"/>
<line x1="187.12" y1="580.34" x2="177.2" y2="597.7" stroke="#073048" stroke-width="1.0" stroke-opacity="0.85"/>
<line x1="183.38" y1="578.16" x2="173.19" y2="595.37" stroke="#073048" stroke-width="1.0" stroke-opacity="0.85"/>
<line x1="170.01" y1="569.7" x2="158.83" y2="586.29" stroke="#073048" stroke-width="0.5" stroke-opacity="0.85"/>
<line x1="162.46" y1="564.43" x2="150.72" y2="580.62" stroke="#073048" stroke-width="0.5" stroke-opacity="0.85"/>
<line x1="166.13" y1="567.04" x2="154.66" y2="583.42" stroke="#073048" stroke-width="0.5" stroke-opacity="0.85"/>
<line x1="154.9" y1="558.74" x2="142.61" y2="574.52" stroke="#073048" stroke-width="0.8" stroke-opacity="0.85"/>
<line x1="164.25" y1="565.71" x2="152.64" y2="582" stroke="#073048" stroke-width="0.8" stroke-opacity="0.85"/>
<line x1="153.89" y1="557.95" x2="141.52" y2="573.67" stroke="#073048" stroke-width="0.5" stroke-opacity="0.85"/>
<line x1="166.04" y1="566.97" x2="154.56" y2="583.36" stroke="#073048" stroke-width="0.8" stroke-opacity="0.85"/>
<line x1="154.46" y1="558.4" x2="142.14" y2="574.15" stroke="#073048" stroke-width="0.8" stroke-opacity="0.85"/>
<path d="M278.49 632.8A291 291 0 0 1 140.75 573.05L153.17 557.38A271 271 0 0 0 281.44 613.02Z" fill="none" stroke="#2a2a2a" stroke-width="0.7"/>
<path d="M138.76 571.47A291 291 0 0 1 86.08 516.05L102.26 504.29A271 271 0 0 0 151.32 555.9Z" fill="#45c1f7"/>
<line x1="151.23" y1="555.83" x2="138.66" y2="571.39" stroke="#073048" stroke-width="0.5" stroke-opacity="0.85"/>
<line x1="150.71" y1="555.41" x2="138.1" y2="570.93" stroke="#073048" stroke-width="0.6" stroke-opacity="0.85"/>
<line x1="148.61" y1="553.69" x2="135.85" y2="569.09" stroke="#073048" stroke-width="1.0" stroke-opacity="0.85"/>
<line x1="128.27" y1="535.01" x2="114.01" y2="549.03" stroke="#073048" stroke-width="1.0" stroke-opacity="0.85"/>
<line x1="132.06" y1="538.79" x2="118.08" y2="553.09" stroke="#073048" stroke-width="1.0" stroke-opacity="0.85"/>
<line x1="131.48" y1="538.22" x2="117.46" y2="552.48" stroke="#073048" stroke-width="0.6" stroke-opacity="0.85"/>
<line x1="128.86" y1="535.61" x2="114.64" y2="549.67" stroke="#073048" stroke-width="0.6" stroke-opacity="0.85"/>
<line x1="151.1" y1="555.73" x2="138.53" y2="571.28" stroke="#073048" stroke-width="0.8" stroke-opacity="0.85"/>
<line x1="131.29" y1="538.04" x2="117.26" y2="552.28" stroke="#073048" stroke-width="0.6" stroke-opacity="0.85"/>
<line x1="136.37" y1="542.91" x2="122.7" y2="557.51" stroke="#073048" stroke-width="0.8" stroke-opacity="0.85"/>
<line x1="130.4" y1="537.15" x2="116.3" y2="551.33" stroke="#073048" stroke-width="1.0" stroke-opacity="0.85"/>
<path d="M112.88 547.88A291 291 0 0 1 105.24 539.72L120.11 526.33A271 271 0 0 0 127.22 533.93Z" fill="#073048" fill-opacity="0.60"/>
<line x1="124.61" y1="531.21" x2="110.08" y2="544.96" stroke="#073048" stroke-width="0.5" stroke-opacity="0.85"/>
<line x1="123.54" y1="530.08" x2="108.93" y2="543.74" stroke="#073048" stroke-width="1.0" stroke-opacity="0.85"/>
<line x1="121.84" y1="528.24" x2="107.1" y2="541.76" stroke="#073048" stroke-width="0.6" stroke-opacity="0.85"/>
<line x1="124.28" y1="530.87" x2="109.73" y2="544.58" stroke="#073048" stroke-width="0.5" stroke-opacity="0.85"/>
<line x1="123.76" y1="530.31" x2="109.16" y2="543.98" stroke="#073048" stroke-width="0.8" stroke-opacity="0.85"/>
<line x1="126.06" y1="532.73" x2="111.63" y2="546.58" stroke="#073048" stroke-width="1.0" stroke-opacity="0.85"/>
<line x1="120.92" y1="527.23" x2="106.12" y2="540.68" stroke="#073048" stroke-width="0.5" stroke-opacity="0.85"/>
<line x1="125.31" y1="531.95" x2="110.83" y2="545.74" stroke="#073048" stroke-width="0.5" stroke-opacity="0.85"/>
<line x1="125.71" y1="532.37" x2="111.26" y2="546.2" stroke="#073048" stroke-width="1.0" stroke-opacity="0.85"/>
<line x1="123.64" y1="530.18" x2="109.03" y2="543.85" stroke="#073048" stroke-width="1.0" stroke-opacity="0.85"/>
<line x1="118.47" y1="524.5" x2="103.49" y2="537.75" stroke="#073048" stroke-width="0.6" stroke-opacity="0.85"/>
<line x1="116.2" y1="521.9" x2="101.05" y2="534.95" stroke="#073048" stroke-width="0.6" stroke-opacity="0.85"/>
<line x1="113.16" y1="518.31" x2="97.79" y2="531.1" stroke="#073048" stroke-width="0.5" stroke-opacity="0.85"/>
<line x1="112.87" y1="517.96" x2="97.48" y2="530.73" stroke="#073048" stroke-width="0.8" stroke-opacity="0.85"/>
<line x1="117.34" y1="523.22" x2="102.28" y2="536.37" stroke="#073048" stroke-width="0.8" stroke-opacity="0.85"/>
<line x1="116.61" y1="522.37" x2="101.48" y2="535.46" stroke="#073048" stroke-width="0.8" stroke-opacity="0.85"/>
<line x1="109.13" y1="513.34" x2="93.45" y2="525.76" stroke="#073048" stroke-width="0.6" stroke-opacity="0.85"/>
<line x1="109.24" y1="513.49" x2="93.58" y2="525.92" stroke="#073048" stroke-width="0.6" stroke-opacity="0.85"/>
<path d="M138.76 571.47A291 291 0 0 1 86.08 516.05L102.26 504.29A271 271 0 0 0 151.32 555.9Z" fill="none" stroke="#2a2a2a" stroke-width="0.7"/>
<path d="M84.59 513.98A291 291 0 0 1 31.14 364.29L51.1 362.96A271 271 0 0 0 100.87 502.37Z" fill="#45c1f7"/>
<line x1="98.58" y1="499.11" x2="82.13" y2="510.48" stroke="#073048" stroke-width="0.6" stroke-opacity="0.85"/>
<line x1="96.05" y1="495.38" x2="79.42" y2="506.48" stroke="#073048" stroke-width="1.0" stroke-opacity="0.85"/>
<line x1="97.14" y1="497" x2="80.58" y2="508.21" stroke="#073048" stroke-width="0.6" stroke-opacity="0.85"/>
<line x1="93.48" y1="491.44" x2="76.65" y2="502.25" stroke="#073048" stroke-width="0.6" stroke-opacity="0.85"/>
<line x1="91.5" y1="488.32" x2="74.52" y2="498.89" stroke="#073048" stroke-width="0.5" stroke-opacity="0.85"/>
<line x1="91.45" y1="488.23" x2="74.47" y2="498.8" stroke="#073048" stroke-width="0.5" stroke-opacity="0.85"/>
<line x1="99.34" y1="500.2" x2="82.94" y2="511.65" stroke="#073048" stroke-width="1.0" stroke-opacity="0.85"/>
<line x1="67.03" y1="438.19" x2="48.25" y2="445.06" stroke="#073048" stroke-width="0.6" stroke-opacity="0.85"/>
<line x1="67.8" y1="440.29" x2="49.08" y2="447.32" stroke="#073048" stroke-width="0.8" stroke-opacity="0.85"/>
<line x1="85.75" y1="478.64" x2="68.35" y2="488.51" stroke="#073048" stroke-width="0.8" stroke-opacity="0.85"/>
<line x1="80.88" y1="469.68" x2="63.13" y2="478.88" stroke="#073048" stroke-width="0.5" stroke-opacity="0.85"/>
<line x1="81.95" y1="471.71" x2="64.27" y2="481.06" stroke="#073048" stroke-width="0.6" stroke-opacity="0.85"/>
<line x1="66.17" y1="435.83" x2="47.33" y2="442.53" stroke="#073048" stroke-width="0.8" stroke-opacity="0.85"/>
<line x1="74.43" y1="456.34" x2="56.19" y2="464.56" stroke="#073048" stroke-width="0.6" stroke-opacity="0.85"/>
<line x1="75.83" y1="459.4" x2="57.7" y2="467.84" stroke="#073048" stroke-width="0.8" stroke-opacity="0.85"/>
<line x1="69.05" y1="443.53" x2="50.41" y2="450.8" stroke="#073048" stroke-width="0.5" stroke-opacity="0.85"/>
<line x1="84.06" y1="475.62" x2="66.53" y2="485.26" stroke="#073048" stroke-width="0.8" stroke-opacity="0.85"/>
<line x1="81.26" y1="470.4" x2="63.53" y2="479.65" stroke="#073048" stroke-width="0.8" stroke-opacity="0.85"/>
<line x1="78.33" y1="464.61" x2="60.38" y2="473.44" stroke="#073048" stroke-width="0.5" stroke-opacity="0.85"/>
<line x1="81.59" y1="471.04" x2="63.89" y2="480.34" stroke="#073048" stroke-width="0.8" stroke-opacity="0.85"/>
<line x1="85.8" y1="478.74" x2="68.41" y2="488.61" stroke="#073048" stroke-width="0.6" stroke-opacity="0.85"/>
<line x1="68.29" y1="441.56" x2="49.6" y2="448.69" stroke="#073048" stroke-width="0.8" stroke-opacity="0.85"/>
<line x1="76.74" y1="461.32" x2="58.67" y2="469.91" stroke="#073048" stroke-width="0.8" stroke-opacity="0.85"/>
<line x1="82.06" y1="471.92" x2="64.39" y2="481.29" stroke="#073048" stroke-width="0.8" stroke-opacity="0.85"/>
<line x1="84.77" y1="476.91" x2="67.3" y2="486.64" stroke="#073048" stroke-width="0.5" stroke-opacity="0.85"/>
<line x1="68.66" y1="442.53" x2="50" y2="449.73" stroke="#073048" stroke-width="1.0" stroke-opacity="0.85"/>
<line x1="85.15" y1="477.59" x2="67.71" y2="487.37" stroke="#073048" stroke-width="0.5" stroke-opacity="0.85"/>
<path d="M46.03 438.78A291 291 0 0 1 43.82 432.02L62.9 426.04A271 271 0 0 0 64.96 432.33Z" fill="#073048" fill-opacity="0.92"/>
<line x1="63.31" y1="427.33" x2="44.25" y2="433.41" stroke="#073048" stroke-width="0.6" stroke-opacity="0.85"/>
<line x1="63.63" y1="428.32" x2="44.59" y2="434.47" stroke="#073048" stroke-width="0.5" stroke-opacity="0.85"/>
<line x1="63.6" y1="428.23" x2="44.56" y2="434.37" stroke="#073048" stroke-width="1.0" stroke-opacity="0.85"/>
<line x1="63.51" y1="427.96" x2="44.47" y2="434.09" stroke="#073048" stroke-width="1.0" stroke-opacity="0.85"/>
<line x1="62.92" y1="426.11" x2="43.84" y2="432.1" stroke="#073048" stroke-width="0.8" stroke-opacity="0.85"/>
<line x1="64.08" y1="429.71" x2="45.08" y2="435.96" stroke="#073048" stroke-width="0.5" stroke-opacity="0.85"/>
<line x1="64.3" y1="430.37" x2="45.32" y2="436.67" stroke="#073048" stroke-width="0.8" stroke-opacity="0.85"/>
<line x1="61.53" y1="421.54" x2="42.35" y2="427.19" stroke="#073048" stroke-width="0.5" stroke-opacity="0.85"/>
<line x1="60.14" y1="416.63" x2="40.85" y2="421.91" stroke="#073048" stroke-width="0.8" stroke-opacity="0.85"/>
<line x1="60.81" y1="419.03" x2="41.57" y2="424.49" stroke="#073048" stroke-width="1.0" stroke-opacity="0.85"/>
<line x1="60.55" y1="418.12" x2="41.29" y2="423.51" stroke="#073048" stroke-width="0.6" stroke-opacity="0.85"/>
<line x1="52.97" y1="381.53" x2="33.16" y2="384.22" stroke="#073048" stroke-width="1.0" stroke-opacity="0.85"/>
<line x1="53.18" y1="382.98" x2="33.37" y2="385.79" stroke="#073048" stroke-width="1.0" stroke-opacity="0.85"/>
<line x1="58.69" y1="411.14" x2="39.3" y2="416.02" stroke="#073048" stroke-width="0.5" stroke-opacity="0.85"/>
<line x1="56.3" y1="400.75" x2="36.72" y2="404.87" stroke="#073048" stroke-width="0.8" stroke-opacity="0.85"/>
<line x1="55.89" y1="398.8" x2="36.29" y2="402.77" stroke="#073048" stroke-width="0.6" stroke-opacity="0.85"/>
<line x1="58.55" y1="410.56" x2="39.14" y2="415.4" stroke="#073048" stroke-width="0.5" stroke-opacity="0.85"/>
<line x1="55.26" y1="395.56" x2="35.61" y2="399.29" stroke="#073048" stroke-width="1.0" stroke-opacity="0.85"/>
<line x1="58.91" y1="412" x2="39.53" y2="416.95" stroke="#073048" stroke-width="0.8" stroke-opacity="0.85"/>
<line x1="54.08" y1="388.9" x2="34.34" y2="392.14" stroke="#073048" stroke-width="0.6" stroke-opacity="0.85"/>
<line x1="58.41" y1="409.99" x2="38.99" y2="414.79" stroke="#073048" stroke-width="0.8" stroke-opacity="0.85"/>
<line x1="58.27" y1="409.43" x2="38.84" y2="414.19" stroke="#073048" stroke-width="0.6" stroke-opacity="0.85"/>
<line x1="53.05" y1="382.12" x2="33.24" y2="384.86" stroke="#073048" stroke-width="0.5" stroke-opacity="0.85"/>
<line x1="56.47" y1="401.55" x2="36.91" y2="405.73" stroke="#073048" stroke-width="0.6" stroke-opacity="0.85"/>
<line x1="57.11" y1="404.47" x2="37.59" y2="408.86" stroke="#073048" stroke-width="0.5" stroke-opacity="0.85"/>
<line x1="52.81" y1="380.32" x2="32.98" y2="382.92" stroke="#073048" stroke-width="1.0" stroke-opacity="0.85"/>
<line x1="52.08" y1="374.26" x2="32.2" y2="376.42" stroke="#073048" stroke-width="1.0" stroke-opacity="0.85"/>
<line x1="52.52" y1="378.02" x2="32.67" y2="380.45" stroke="#073048" stroke-width="0.6" stroke-opacity="0.85"/>
<line x1="51.56" y1="368.9" x2="31.63" y2="370.66" stroke="#073048" stroke-width="0.6" stroke-opacity="0.85"/>
<path d="M84.59 513.98A291 291 0 0 1 31.14 364.29L51.1 362.96A271 271 0 0 0 100.87 502.37Z" fill="none" stroke="#2a2a2a" stroke-width="0.7"/>
<path d="M30.98 361.75A291 291 0 0 1 132.9 123.39L145.86 138.62A271 271 0 0 0 50.95 360.6Z" fill="#45c1f7"/>
<line x1="50.72" y1="334.17" x2="30.73" y2="333.38" stroke="#073048" stroke-width="0.6" stroke-opacity="0.85"/>
<line x1="51.21" y1="325.33" x2="31.27" y2="323.88" stroke="#073048" stroke-width="0.6" stroke-opacity="0.85"/>
<line x1="50.63" y1="336.54" x2="30.64" y2="335.92" stroke="#073048" stroke-width="0.5" stroke-opacity="0.85"/>
<line x1="50.5" y1="343.59" x2="30.5" y2="343.49" stroke="#073048" stroke-width="0.6" stroke-opacity="0.85"/>
<line x1="50.5" y1="344.28" x2="30.5" y2="344.23" stroke="#073048" stroke-width="0.5" stroke-opacity="0.85"/>
<line x1="50.66" y1="354.24" x2="30.67" y2="354.93" stroke="#073048" stroke-width="0.6" stroke-opacity="0.85"/>
<line x1="50.85" y1="358.85" x2="30.88" y2="359.88" stroke="#073048" stroke-width="0.5" stroke-opacity="0.85"/>
<line x1="50.8" y1="332.18" x2="30.83" y2="331.24" stroke="#073048" stroke-width="0.8" stroke-opacity="0.85"/>
<line x1="50.71" y1="355.59" x2="30.72" y2="356.38" stroke="#073048" stroke-width="1.0" stroke-opacity="0.85"/>
<line x1="50.61" y1="337.19" x2="30.62" y2="336.62" stroke="#073048" stroke-width="0.8" stroke-opacity="0.85"/>
<line x1="50.77" y1="332.98" x2="30.79" y2="332.1" stroke="#073048" stroke-width="0.8" stroke-opacity="0.85"/>
<line x1="50.66" y1="335.81" x2="30.67" y2="335.13" stroke="#073048" stroke-width="1.0" stroke-opacity="0.85"/>
<line x1="50.5" y1="344.04" x2="30.5" y2="343.97" stroke="#073048" stroke-width="0.8" stroke-opacity="0.85"/>
<line x1="50.52" y1="341.59" x2="30.52" y2="341.34" stroke="#073048" stroke-width="1.0" stroke-opacity="0.85"/>
<line x1="50.62" y1="353" x2="30.63" y2="353.59" stroke="#073048" stroke-width="0.5" stroke-opacity="0.85"/>
<line x1="57.12" y1="285.45" x2="37.61" y2="281.06" stroke="#073048" stroke-width="1.0" stroke-opacity="0.85"/>
<line x1="55.44" y1="293.49" x2="35.81" y2="289.69" stroke="#073048" stroke-width="1.0" stroke-opacity="0.85"/>
<line x1="58.93" y1="277.93" x2="39.55" y2="272.98" stroke="#073048" stroke-width="1.0" stroke-opacity="0.85"/>
<line x1="59.92" y1="274.16" x2="40.62" y2="268.93" stroke="#073048" stroke-width="1.0" stroke-opacity="0.85"/>
<line x1="54.8" y1="296.9" x2="35.12" y2="293.35" stroke="#073048" stroke-width="0.5" stroke-opacity="0.85"/>
<line x1="52.61" y1="311.26" x2="32.76" y2="308.77" stroke="#073048" stroke-width="1.0" stroke-opacity="0.85"/>
<line x1="54.48" y1="298.74" x2="34.77" y2="295.33" stroke="#073048" stroke-width="1.0" stroke-opacity="0.85"/>
<line x1="55.85" y1="291.44" x2="36.24" y2="287.49" stroke="#073048" stroke-width="0.5" stroke-opacity="0.85"/>
<line x1="52.06" y1="315.92" x2="32.18" y2="313.78" stroke="#073048" stroke-width="0.6" stroke-opacity="0.85"/>
<line x1="52.31" y1="313.71" x2="32.45" y2="311.41" stroke="#073048" stroke-width="0.8" stroke-opacity="0.85"/>
<line x1="59.12" y1="277.21" x2="39.75" y2="272.2" stroke="#073048" stroke-width="0.5" stroke-opacity="0.85"/>
<line x1="52.14" y1="315.2" x2="32.26" y2="313" stroke="#073048" stroke-width="1.0" stroke-opacity="0.85"/>
<line x1="74.28" y1="234" x2="56.03" y2="225.8" stroke="#073048" stroke-width="0.6" stroke-opacity="0.85"/>
<line x1="62.74" y1="264.48" x2="43.64" y2="258.54" stroke="#073048" stroke-width="0.5" stroke-opacity="0.85"/>
<line x1="82.13" y1="217.95" x2="64.46" y2="208.58" stroke="#073048" stroke-width="0.5" stroke-opacity="0.85"/>
<line x1="65.47" y1="256.19" x2="46.57" y2="249.63" stroke="#073048" stroke-width="1.0" stroke-opacity="0.85"/>
<line x1="67.11" y1="251.57" x2="48.34" y2="244.68" stroke="#073048" stroke-width="0.6" stroke-opacity="0.85"/>
<line x1="74.99" y1="232.41" x2="56.8" y2="224.1" stroke="#073048" stroke-width="0.6" stroke-opacity="0.85"/>
<line x1="63.36" y1="262.51" x2="44.31" y2="256.43" stroke="#073048" stroke-width="0.8" stroke-opacity="0.85"/>
<line x1="73.38" y1="236.01" x2="55.07" y2="227.96" stroke="#073048" stroke-width="0.8" stroke-opacity="0.85"/>
<line x1="64.88" y1="257.91" x2="45.94" y2="251.48" stroke="#073048" stroke-width="0.8" stroke-opacity="0.85"/>
<line x1="79.94" y1="222.16" x2="62.11" y2="213.09" stroke="#073048" stroke-width="1.0" stroke-opacity="0.85"/>
<line x1="64.62" y1="258.65" x2="45.67" y2="252.28" stroke="#073048" stroke-width="1.0" stroke-opacity="0.85"/>
<line x1="65.72" y1="255.47" x2="46.84" y2="248.86" stroke="#073048" stroke-width="0.8" stroke-opacity="0.85"/>
<line x1="73.5" y1="235.75" x2="55.19" y2="227.69" stroke="#073048" stroke-width="0.6" stroke-opacity="0.85"/>
<line x1="67.68" y1="250.05" x2="48.95" y2="243.04" stroke="#073048" stroke-width="0.5" stroke-opacity="0.85"/>
<line x1="65.56" y1="255.93" x2="46.67" y2="249.36" stroke="#073048" stroke-width="1.0" stroke-opacity="0.85"/>
<line x1="64.92" y1="257.78" x2="45.98" y2="251.35" stroke="#073048" stroke-width="0.8" stroke-opacity="0.85"/>
<line x1="74.85" y1="232.72" x2="56.65" y2="224.43" stroke="#073048" stroke-width="1.0" stroke-opacity="0.85"/>
<line x1="65.04" y1="257.41" x2="46.12" y2="250.95" stroke="#073048" stroke-width="0.8" stroke-opacity="0.85"/>
<line x1="64.16" y1="260.06" x2="45.16" y2="253.79" stroke="#073048" stroke-width="0.5" stroke-opacity="0.85"/>
<line x1="73.93" y1="234.78" x2="55.66" y2="226.64" stroke="#073048" stroke-width="0.8" stroke-opacity="0.85"/>
<line x1="81.4" y1="219.33" x2="63.68" y2="210.06" stroke="#073048" stroke-width="1.0" stroke-opacity="0.85"/>
<line x1="104.74" y1="182.35" x2="88.74" y2="170.35" stroke="#073048" stroke-width="0.5" stroke-opacity="0.85"/>
<line x1="91.76" y1="201.26" x2="74.81" y2="190.65" stroke="#073048" stroke-width="1.0" stroke-opacity="0.85"/>
<line x1="113.32" y1="171.51" x2="97.95" y2="158.7" stroke="#073048" stroke-width="0.8" stroke-opacity="0.85"/>
<line x1="92.27" y1="200.45" x2="75.36" y2="189.78" stroke="#073048" stroke-width="0.8" stroke-opacity="0.85"/>
<line x1="105.75" y1="181.01" x2="89.83" y2="168.91" stroke="#073048" stroke-width="0.8" stroke-opacity="0.85"/>
<line x1="94.98" y1="196.24" x2="78.26" y2="185.26" stroke="#073048" stroke-width="0.5" stroke-opacity="0.85"/>
<line x1="99.72" y1="189.26" x2="83.35" y2="177.77" stroke="#073048" stroke-width="0.6" stroke-opacity="0.85"/>
<line x1="107.5" y1="178.73" x2="91.71" y2="166.46" stroke="#073048" stroke-width="0.5" stroke-opacity="0.85"/>
<line x1="93.56" y1="198.43" x2="76.74" y2="187.61" stroke="#073048" stroke-width="0.8" stroke-opacity="0.85"/>
<line x1="94.12" y1="197.56" x2="77.34" y2="186.68" stroke="#073048" stroke-width="0.8" stroke-opacity="0.85"/>
<line x1="113.08" y1="171.79" x2="97.7" y2="159.01" stroke="#073048" stroke-width="0.5" stroke-opacity="0.85"/>
<line x1="90.55" y1="203.22" x2="73.5" y2="192.75" stroke="#073048" stroke-width="0.8" stroke-opacity="0.85"/>
<line x1="107.53" y1="178.69" x2="91.74" y2="166.42" stroke="#073048" stroke-width="1.0" stroke-opacity="0.85"/>
<line x1="98.65" y1="190.79" x2="82.21" y2="179.41" stroke="#073048" stroke-width="0.8" stroke-opacity="0.85"/>
<line x1="121.15" y1="162.51" x2="106.37" y2="149.05" stroke="#073048" stroke-width="0.6" stroke-opacity="0.85"/>
<line x1="101.74" y1="186.42" x2="85.52" y2="174.72" stroke="#073048" stroke-width="0.5" stroke-opacity="0.85"/>
<line x1="83.02" y1="216.29" x2="65.42" y2="206.79" stroke="#073048" stroke-width="0.5" stroke-opacity="0.85"/>
<line x1="105.28" y1="181.63" x2="89.32" y2="169.57" stroke="#073048" stroke-width="0.8" stroke-opacity="0.85"/>
<line x1="86.11" y1="210.72" x2="68.73" y2="200.81" stroke="#073048" stroke-width="0.8" stroke-opacity="0.85"/>
<line x1="103.78" y1="183.63" x2="87.72" y2="171.72" stroke="#073048" stroke-width="1.0" stroke-opacity="0.85"/>
<line x1="106.03" y1="180.64" x2="90.13" y2="168.51" stroke="#073048" stroke-width="0.6" stroke-opacity="0.85"/>
<line x1="89.86" y1="204.34" x2="72.77" y2="193.96" stroke="#073048" stroke-width="1.0" stroke-opacity="0.85"/>
<line x1="88.09" y1="207.3" x2="70.86" y2="197.14" stroke="#073048" stroke-width="0.5" stroke-opacity="0.85"/>
<line x1="123.26" y1="160.23" x2="108.63" y2="146.59" stroke="#073048" stroke-width="0.6" stroke-opacity="0.85"/>
<line x1="111.85" y1="173.28" x2="96.38" y2="160.61" stroke="#073048" stroke-width="1.0" stroke-opacity="0.85"/>
<line x1="85.71" y1="211.42" x2="68.31" y2="201.56" stroke="#073048" stroke-width="0.6" stroke-opacity="0.85"/>
<line x1="119.92" y1="163.87" x2="105.04" y2="150.51" stroke="#073048" stroke-width="0.8" stroke-opacity="0.85"/>
<line x1="97.98" y1="191.77" x2="81.48" y2="180.46" stroke="#073048" stroke-width="0.8" stroke-opacity="0.85"/>
<line x1="124.84" y1="158.54" x2="110.33" y2="144.78" stroke="#073048" stroke-width="0.5" stroke-opacity="0.85"/>
<line x1="108.88" y1="176.97" x2="93.19" y2="164.57" stroke="#073048" stroke-width="0.8" stroke-opacity="0.85"/>
<line x1="106.55" y1="179.97" x2="90.68" y2="167.79" stroke="#073048" stroke-width="1.0" stroke-opacity="0.85"/>
<line x1="106.88" y1="179.54" x2="91.04" y2="167.33" stroke="#073048" stroke-width="1.0" stroke-opacity="0.85"/>
<line x1="91.62" y1="201.49" x2="74.65" y2="190.9" stroke="#073048" stroke-width="0.5" stroke-opacity="0.85"/>
<line x1="83.8" y1="214.84" x2="66.26" y2="205.24" stroke="#073048" stroke-width="0.5" stroke-opacity="0.85"/>
<line x1="98.15" y1="191.52" x2="81.67" y2="180.19" stroke="#073048" stroke-width="0.6" stroke-opacity="0.85"/>
<line x1="128.56" y1="154.7" x2="114.32" y2="140.66" stroke="#073048" stroke-width="0.5" stroke-opacity="0.85"/>
<line x1="126.71" y1="156.59" x2="112.34" y2="142.68" stroke="#073048" stroke-width="0.6" stroke-opacity="0.85"/>
<line x1="128.34" y1="154.92" x2="114.09" y2="140.89" stroke="#073048" stroke-width="0.6" stroke-opacity="0.85"/>
<line x1="133.14" y1="150.16" x2="119.24" y2="135.78" stroke="#073048" stroke-width="1.0" stroke-opacity="0.85"/>
<line x1="136.99" y1="146.51" x2="123.38" y2="131.86" stroke="#073048" stroke-width="0.6" stroke-opacity="0.85"/>
<line x1="133.02" y1="150.28" x2="119.11" y2="135.91" stroke="#073048" stroke-width="0.5" stroke-opacity="0.85"/>
<line x1="130.35" y1="152.9" x2="116.24" y2="138.73" stroke="#073048" stroke-width="0.5" stroke-opacity="0.85"/>
<line x1="139.38" y1="144.31" x2="125.94" y2="129.5" stroke="#073048" stroke-width="1.0" stroke-opacity="0.85"/>
<line x1="135.71" y1="147.71" x2="122" y2="133.15" stroke="#073048" stroke-width="0.5" stroke-opacity="0.85"/>
<path d="M126.03 129.43A291 291 0 0 1 132.9 123.39L145.86 138.62A271 271 0 0 0 139.46 144.24Z" fill="#073048" fill-opacity="0.92"/>
<line x1="141.84" y1="142.11" x2="128.58" y2="127.14" stroke="#073048" stroke-width="1.0" stroke-opacity="0.85"/>
<line x1="144.21" y1="140.04" x2="131.13" y2="124.91" stroke="#073048" stroke-width="1.0" stroke-opacity="0.85"/>
<line x1="139.97" y1="143.78" x2="126.57" y2="128.93" stroke="#073048" stroke-width="1.0" stroke-opacity="0.85"/>
<line x1="140.57" y1="143.24" x2="127.22" y2="128.35" stroke="#073048" stroke-width="0.5" stroke-opacity="0.85"/>
<line x1="141.12" y1="142.75" x2="127.81" y2="127.83" stroke="#073048" stroke-width="0.5" stroke-opacity="0.85"/>
<line x1="140.24" y1="143.54" x2="126.87" y2="128.67" stroke="#073048" stroke-width="0.8" stroke-opacity="0.85"/>
<line x1="144" y1="140.22" x2="130.9" y2="125.11" stroke="#073048" stroke-width="0.8" stroke-opacity="0.85"/>
<line x1="143.51" y1="140.65" x2="130.37" y2="125.56" stroke="#073048" stroke-width="1.0" stroke-opacity="0.85"/>
<line x1="143.83" y1="140.37" x2="130.72" y2="125.27" stroke="#073048" stroke-width="0.8" stroke-opacity="0.85"/>
<path d="M30.98 361.75A291 291 0 0 1 132.9 123.39L145.86 138.62A271 271 0 0 0 50.95 360.6Z" fill="none" stroke="#2a2a2a" stroke-width="0.7"/>
<path d="M134.84 121.75A291 291 0 0 1 247.17 63.65L252.27 82.99A271 271 0 0 0 147.67 137.1Z" fill="#45c1f7"/>
<line x1="153.75" y1="132.16" x2="141.37" y2="116.46" stroke="#073048" stroke-width="0.6" stroke-opacity="0.85"/>
<line x1="149.41" y1="135.65" x2="136.71" y2="120.2" stroke="#073048" stroke-width="0.5" stroke-opacity="0.85"/>
<line x1="151.14" y1="134.24" x2="138.57" y2="118.69" stroke="#073048" stroke-width="0.6" stroke-opacity="0.85"/>
<line x1="165.34" y1="123.52" x2="153.81" y2="107.17" stroke="#073048" stroke-width="0.6" stroke-opacity="0.85"/>
<line x1="167.58" y1="121.96" x2="156.22" y2="105.5" stroke="#073048" stroke-width="0.8" stroke-opacity="0.85"/>
<line x1="151.6" y1="133.87" x2="139.06" y2="118.29" stroke="#073048" stroke-width="1.0" stroke-opacity="0.85"/>
<line x1="154.43" y1="131.62" x2="142.1" y2="115.88" stroke="#073048" stroke-width="0.6" stroke-opacity="0.85"/>
<line x1="155.5" y1="130.8" x2="143.24" y2="114.99" stroke="#073048" stroke-width="1.0" stroke-opacity="0.85"/>
<line x1="157.44" y1="129.3" x2="145.34" y2="113.38" stroke="#073048" stroke-width="0.5" stroke-opacity="0.85"/>
<line x1="192.68" y1="106.58" x2="183.17" y2="88.98" stroke="#073048" stroke-width="1.0" stroke-opacity="0.85"/>
<line x1="195.5" y1="105.07" x2="186.21" y2="87.36" stroke="#073048" stroke-width="0.6" stroke-opacity="0.85"/>
<line x1="184.51" y1="111.17" x2="174.4" y2="93.92" stroke="#073048" stroke-width="0.8" stroke-opacity="0.85"/>
<line x1="190.72" y1="107.65" x2="181.07" y2="90.13" stroke="#073048" stroke-width="1.0" stroke-opacity="0.85"/>
<line x1="185.98" y1="110.32" x2="175.98" y2="93" stroke="#073048" stroke-width="0.5" stroke-opacity="0.85"/>
<line x1="184.36" y1="111.26" x2="174.24" y2="94.01" stroke="#073048" stroke-width="0.6" stroke-opacity="0.85"/>
<line x1="172.71" y1="118.5" x2="161.72" y2="101.79" stroke="#073048" stroke-width="0.5" stroke-opacity="0.85"/>
<line x1="171.81" y1="119.09" x2="160.77" y2="102.42" stroke="#073048" stroke-width="0.6" stroke-opacity="0.85"/>
<line x1="178.21" y1="114.98" x2="167.64" y2="98" stroke="#073048" stroke-width="0.6" stroke-opacity="0.85"/>
<line x1="188.2" y1="109.05" x2="178.36" y2="91.64" stroke="#073048" stroke-width="0.5" stroke-opacity="0.85"/>
<line x1="169.91" y1="120.36" x2="158.72" y2="103.79" stroke="#073048" stroke-width="0.5" stroke-opacity="0.85"/>
<line x1="188.09" y1="109.11" x2="178.25" y2="91.7" stroke="#073048" stroke-width="0.5" stroke-opacity="0.85"/>
<line x1="170.56" y1="119.92" x2="159.42" y2="103.31" stroke="#073048" stroke-width="0.8" stroke-opacity="0.85"/>
<line x1="174.2" y1="117.53" x2="163.33" y2="100.74" stroke="#073048" stroke-width="0.5" stroke-opacity="0.85"/>
<line x1="193.31" y1="106.23" x2="183.85" y2="88.61" stroke="#073048" stroke-width="1.0" stroke-opacity="0.85"/>
<path d="M187.58 86.65A291 291 0 0 1 205.46 78.14L213.44 96.48A271 271 0 0 0 196.79 104.4Z" fill="#073048" fill-opacity="0.72"/>
<line x1="198.54" y1="103.5" x2="189.47" y2="85.68" stroke="#073048" stroke-width="0.6" stroke-opacity="0.85"/>
<line x1="200.12" y1="102.7" x2="191.17" y2="84.82" stroke="#073048" stroke-width="0.5" stroke-opacity="0.85"/>
<line x1="197.35" y1="104.11" x2="188.19" y2="86.33" stroke="#073048" stroke-width="0.5" stroke-opacity="0.85"/>
<line x1="210.49" y1="97.78" x2="202.29" y2="79.54" stroke="#073048" stroke-width="0.8" stroke-opacity="0.85"/>
<line x1="204.66" y1="100.48" x2="196.04" y2="82.43" stroke="#073048" stroke-width="0.6" stroke-opacity="0.85"/>
<line x1="198.39" y1="103.58" x2="189.31" y2="85.76" stroke="#073048" stroke-width="0.6" stroke-opacity="0.85"/>
<line x1="201.63" y1="101.95" x2="192.79" y2="84.01" stroke="#073048" stroke-width="0.8" stroke-opacity="0.85"/>
<line x1="203.78" y1="100.91" x2="195.09" y2="82.89" stroke="#073048" stroke-width="0.5" stroke-opacity="0.85"/>
<line x1="202.57" y1="101.49" x2="193.79" y2="83.52" stroke="#073048" stroke-width="0.8" stroke-opacity="0.85"/>
<line x1="197.58" y1="103.99" x2="188.43" y2="86.21" stroke="#073048" stroke-width="0.8" stroke-opacity="0.85"/>
<line x1="211.92" y1="97.14" x2="203.84" y2="78.85" stroke="#073048" stroke-width="1.0" stroke-opacity="0.85"/>
<line x1="210.93" y1="97.58" x2="202.77" y2="79.32" stroke="#073048" stroke-width="0.5" stroke-opacity="0.85"/>
<line x1="209.88" y1="98.05" x2="201.64" y2="79.83" stroke="#073048" stroke-width="0.5" stroke-opacity="0.85"/>
<line x1="203.99" y1="100.8" x2="195.32" y2="82.78" stroke="#073048" stroke-width="0.5" stroke-opacity="0.85"/>
<line x1="202.5" y1="101.53" x2="193.72" y2="83.56" stroke="#073048" stroke-width="0.5" stroke-opacity="0.85"/>
<line x1="205.68" y1="100" x2="197.13" y2="81.92" stroke="#073048" stroke-width="0.6" stroke-opacity="0.85"/>
<line x1="208.63" y1="98.62" x2="200.3" y2="80.44" stroke="#073048" stroke-width="0.5" stroke-opacity="0.85"/>
<line x1="206.29" y1="99.71" x2="197.79" y2="81.61" stroke="#073048" stroke-width="0.8" stroke-opacity="0.85"/>
<line x1="216.7" y1="95.08" x2="208.97" y2="76.64" stroke="#073048" stroke-width="0.5" stroke-opacity="0.85"/>
<line x1="236.81" y1="87.57" x2="230.56" y2="68.57" stroke="#073048" stroke-width="0.8" stroke-opacity="0.85"/>
<line x1="238.64" y1="86.98" x2="232.52" y2="67.94" stroke="#073048" stroke-width="0.5" stroke-opacity="0.85"/>
<line x1="232.86" y1="88.91" x2="226.32" y2="70.01" stroke="#073048" stroke-width="1.0" stroke-opacity="0.85"/>
<line x1="241.58" y1="86.05" x2="235.69" y2="66.94" stroke="#073048" stroke-width="0.6" stroke-opacity="0.85"/>
<line x1="251.88" y1="83.09" x2="246.75" y2="63.77" stroke="#073048" stroke-width="0.8" stroke-opacity="0.85"/>
<line x1="251.77" y1="83.13" x2="246.62" y2="63.8" stroke="#073048" stroke-width="0.8" stroke-opacity="0.85"/>
<path d="M134.84 121.75A291 291 0 0 1 247.17 63.65L252.27 82.99A271 271 0 0 0 147.67 137.1Z" fill="none" stroke="#2a2a2a" stroke-width="0.7"/>
<path d="M249.62 63.02A291 291 0 0 1 304.75 54.48L305.9 74.45A271 271 0 0 0 254.56 82.4Z" fill="#45c1f7"/>
<line x1="261.36" y1="80.76" x2="256.92" y2="61.26" stroke="#073048" stroke-width="0.6" stroke-opacity="0.85"/>
<line x1="274.55" y1="78.1" x2="271.09" y2="58.4" stroke="#073048" stroke-width="0.6" stroke-opacity="0.85"/>
<line x1="281.28" y1="77" x2="278.31" y2="57.22" stroke="#073048" stroke-width="0.6" stroke-opacity="0.85"/>
<line x1="276.75" y1="77.72" x2="273.45" y2="57.99" stroke="#073048" stroke-width="0.5" stroke-opacity="0.85"/>
<line x1="281.28" y1="77" x2="278.31" y2="57.22" stroke="#073048" stroke-width="0.5" stroke-opacity="0.85"/>
<line x1="276.67" y1="77.73" x2="273.36" y2="58.01" stroke="#073048" stroke-width="0.5" stroke-opacity="0.85"/>
<line x1="284.85" y1="76.49" x2="282.15" y2="56.67" stroke="#073048" stroke-width="0.8" stroke-opacity="0.85"/>
<line x1="282.36" y1="76.84" x2="279.47" y2="57.05" stroke="#073048" stroke-width="1.0" stroke-opacity="0.85"/>
<path d="M284.02 56.42A291 291 0 0 1 296.64 55.06L298.35 74.99A271 271 0 0 0 286.6 76.26Z" fill="#073048" fill-opacity="0.72"/>
<line x1="297.08" y1="75.1" x2="295.28" y2="55.18" stroke="#073048" stroke-width="0.5" stroke-opacity="0.85"/>
<line x1="291.55" y1="75.66" x2="289.34" y2="55.78" stroke="#073048" stroke-width="0.5" stroke-opacity="0.85"/>
<line x1="290.96" y1="75.73" x2="288.71" y2="55.85" stroke="#073048" stroke-width="0.8" stroke-opacity="0.85"/>
<line x1="289.68" y1="75.87" x2="287.34" y2="56.01" stroke="#073048" stroke-width="0.6" stroke-opacity="0.85"/>
<line x1="291.05" y1="75.72" x2="288.8" y2="55.84" stroke="#073048" stroke-width="0.6" stroke-opacity="0.85"/>
<line x1="297.69" y1="75.05" x2="295.93" y2="55.13" stroke="#073048" stroke-width="0.6" stroke-opacity="0.85"/>
<line x1="292.84" y1="75.52" x2="290.72" y2="55.63" stroke="#073048" stroke-width="0.5" stroke-opacity="0.85"/>
<line x1="290.69" y1="75.76" x2="288.41" y2="55.89" stroke="#073048" stroke-width="0.8" stroke-opacity="0.85"/>
<line x1="292.72" y1="75.53" x2="290.6" y2="55.65" stroke="#073048" stroke-width="1.0" stroke-opacity="0.85"/>
<line x1="294.37" y1="75.36" x2="292.37" y2="55.46" stroke="#073048" stroke-width="0.8" stroke-opacity="0.85"/>
<line x1="288.59" y1="76.01" x2="286.16" y2="56.15" stroke="#073048" stroke-width="1.0" stroke-opacity="0.85"/>
<line x1="294.69" y1="75.33" x2="292.71" y2="55.43" stroke="#073048" stroke-width="0.8" stroke-opacity="0.85"/>
<line x1="301.36" y1="74.75" x2="299.87" y2="54.81" stroke="#073048" stroke-width="0.6" stroke-opacity="0.85"/>
<line x1="300.08" y1="74.85" x2="298.5" y2="54.91" stroke="#073048" stroke-width="0.6" stroke-opacity="0.85"/>
<line x1="300.98" y1="74.78" x2="299.47" y2="54.84" stroke="#073048" stroke-width="0.8" stroke-opacity="0.85"/>
<path d="M249.62 63.02A291 291 0 0 1 304.75 54.48L305.9 74.45A271 271 0 0 0 254.56 82.4Z" fill="none" stroke="#2a2a2a" stroke-width="0.7"/>
<line x1="321.5" y1="53" x2="321.5" y2="48.5" stroke="#777" stroke-width="0.9"/>
<line x1="328.45" y1="53.08" x2="328.56" y2="48.58" stroke="#777" stroke-width="0.9"/>
<line x1="335.4" y1="53.33" x2="335.61" y2="48.84" stroke="#777" stroke-width="0.9"/>
<line x1="342.34" y1="53.74" x2="342.66" y2="49.26" stroke="#777" stroke-width="0.9"/>
<line x1="349.26" y1="54.32" x2="349.69" y2="49.84" stroke="#777" stroke-width="0.9"/>
<line x1="356.18" y1="55.07" x2="356.71" y2="50.6" stroke="#777" stroke-width="0.9"/>
<line x1="363.07" y1="55.97" x2="363.71" y2="51.52" stroke="#777" stroke-width="0.9"/>
<line x1="369.94" y1="57.05" x2="370.68" y2="52.61" stroke="#777" stroke-width="0.9"/>
<line x1="376.78" y1="58.28" x2="377.63" y2="53.86" stroke="#777" stroke-width="0.9"/>
<line x1="383.59" y1="59.68" x2="384.54" y2="55.28" stroke="#777" stroke-width="0.9"/>
<line x1="390.36" y1="61.24" x2="391.42" y2="56.86" stroke="#777" stroke-width="0.9"/>
<line x1="397.09" y1="62.95" x2="398.26" y2="58.61" stroke="#777" stroke-width="0.9"/>
<line x1="403.79" y1="64.83" x2="405.06" y2="60.52" stroke="#777" stroke-width="0.9"/>
<line x1="410.43" y1="66.87" x2="411.8" y2="62.59" stroke="#777" stroke-width="0.9"/>
<line x1="417.03" y1="69.07" x2="418.5" y2="64.82" stroke="#777" stroke-width="0.9"/>
<line x1="423.57" y1="71.42" x2="425.14" y2="67.2" stroke="#777" stroke-width="0.9"/>
<line x1="430.05" y1="73.93" x2="431.73" y2="69.75" stroke="#777" stroke-width="0.9"/>
<line x1="436.47" y1="76.59" x2="438.25" y2="72.45" stroke="#777" stroke-width="0.9"/>
<line x1="442.83" y1="79.4" x2="444.7" y2="75.31" stroke="#777" stroke-width="0.9"/>
<line x1="449.12" y1="82.36" x2="451.09" y2="78.32" stroke="#777" stroke-width="0.9"/>
<line x1="455.34" y1="85.48" x2="457.4" y2="81.48" stroke="#777" stroke-width="0.9"/>
<line x1="460.83" y1="88.39" x2="462.98" y2="84.43" stroke="#777" stroke-width="0.9"/>
<line x1="466.9" y1="91.77" x2="469.14" y2="87.87" stroke="#777" stroke-width="0.9"/>
<line x1="472.89" y1="95.31" x2="475.22" y2="91.46" stroke="#777" stroke-width="0.9"/>
<line x1="478.79" y1="98.98" x2="481.21" y2="95.19" stroke="#777" stroke-width="0.9"/>
<line x1="484.6" y1="102.8" x2="487.11" y2="99.06" stroke="#777" stroke-width="0.9"/>
<line x1="490.32" y1="106.75" x2="492.92" y2="103.08" stroke="#777" stroke-width="0.9"/>
<line x1="495.94" y1="110.83" x2="498.63" y2="107.22" stroke="#777" stroke-width="0.9"/>
<line x1="501.47" y1="115.05" x2="504.24" y2="111.51" stroke="#777" stroke-width="0.9"/>
<line x1="506.89" y1="119.4" x2="509.75" y2="115.92" stroke="#777" stroke-width="0.9"/>
<line x1="512.21" y1="123.88" x2="515.15" y2="120.47" stroke="#777" stroke-width="0.9"/>
<line x1="517.42" y1="128.48" x2="520.44" y2="125.14" stroke="#777" stroke-width="0.9"/>
<line x1="522.51" y1="133.2" x2="525.61" y2="129.94" stroke="#777" stroke-width="0.9"/>
<line x1="527.5" y1="138.05" x2="530.67" y2="134.86" stroke="#777" stroke-width="0.9"/>
<line x1="532.37" y1="143.01" x2="535.62" y2="139.9" stroke="#777" stroke-width="0.9"/>
<line x1="537.12" y1="148.09" x2="540.44" y2="145.05" stroke="#777" stroke-width="0.9"/>
<line x1="541.74" y1="153.28" x2="545.14" y2="150.32" stroke="#777" stroke-width="0.9"/>
<line x1="546.24" y1="158.57" x2="549.71" y2="155.7" stroke="#777" stroke-width="0.9"/>
<line x1="550.62" y1="163.98" x2="554.15" y2="161.19" stroke="#777" stroke-width="0.9"/>
<line x1="554.86" y1="169.48" x2="558.46" y2="166.78" stroke="#777" stroke-width="0.9"/>
<line x1="558.97" y1="175.09" x2="562.63" y2="172.47" stroke="#777" stroke-width="0.9"/>
<line x1="562.95" y1="180.79" x2="566.67" y2="178.26" stroke="#777" stroke-width="0.9"/>
<line x1="566.79" y1="186.58" x2="570.57" y2="184.14" stroke="#777" stroke-width="0.9"/>
<line x1="570.49" y1="192.47" x2="574.33" y2="190.11" stroke="#777" stroke-width="0.9"/>
<line x1="574.05" y1="198.44" x2="577.94" y2="196.18" stroke="#777" stroke-width="0.9"/>
<line x1="577.47" y1="204.49" x2="581.41" y2="202.32" stroke="#777" stroke-width="0.9"/>
<line x1="580.74" y1="210.62" x2="584.74" y2="208.55" stroke="#777" stroke-width="0.9"/>
<line x1="583.87" y1="216.83" x2="587.91" y2="214.86" stroke="#777" stroke-width="0.9"/>
<line x1="586.84" y1="223.11" x2="590.93" y2="221.23" stroke="#777" stroke-width="0.9"/>
<line x1="589.67" y1="229.46" x2="593.8" y2="227.68" stroke="#777" stroke-width="0.9"/>
<line x1="592.34" y1="235.88" x2="596.52" y2="234.2" stroke="#777" stroke-width="0.9"/>
<line x1="595.72" y1="244.65" x2="599.94" y2="243.1" stroke="#777" stroke-width="0.9"/>
<line x1="598.03" y1="251.21" x2="602.29" y2="249.76" stroke="#777" stroke-width="0.9"/>
<line x1="600.18" y1="257.82" x2="604.48" y2="256.47" stroke="#777" stroke-width="0.9"/>
<line x1="602.18" y1="264.47" x2="606.5" y2="263.23" stroke="#777" stroke-width="0.9"/>
<line x1="604.01" y1="271.18" x2="608.37" y2="270.04" stroke="#777" stroke-width="0.9"/>
<line x1="605.69" y1="277.92" x2="610.07" y2="276.89" stroke="#777" stroke-width="0.9"/>
<line x1="607.21" y1="284.71" x2="611.61" y2="283.78" stroke="#777" stroke-width="0.9"/>
<line x1="608.56" y1="291.53" x2="612.99" y2="290.7" stroke="#777" stroke-width="0.9"/>
<line x1="609.75" y1="298.38" x2="614.2" y2="297.66" stroke="#777" stroke-width="0.9"/>
<line x1="610.78" y1="305.25" x2="615.24" y2="304.64" stroke="#777" stroke-width="0.9"/>
<line x1="611.65" y1="312.15" x2="616.12" y2="311.64" stroke="#777" stroke-width="0.9"/>
<line x1="612.39" y1="319.55" x2="616.87" y2="319.16" stroke="#777" stroke-width="0.9"/>
<line x1="612.91" y1="326.48" x2="617.4" y2="326.2" stroke="#777" stroke-width="0.9"/>
<line x1="613.27" y1="333.42" x2="617.77" y2="333.25" stroke="#777" stroke-width="0.9"/>
<line x1="613.46" y1="340.37" x2="617.96" y2="340.3" stroke="#777" stroke-width="0.9"/>
<line x1="613.49" y1="347.32" x2="617.99" y2="347.36" stroke="#777" stroke-width="0.9"/>
<line x1="613.35" y1="354.27" x2="617.85" y2="354.42" stroke="#777" stroke-width="0.9"/>
<line x1="613.05" y1="361.22" x2="617.54" y2="361.47" stroke="#777" stroke-width="0.9"/>
<line x1="612.6" y1="367.91" x2="617.09" y2="368.26" stroke="#777" stroke-width="0.9"/>
<line x1="611.97" y1="374.83" x2="616.45" y2="375.29" stroke="#777" stroke-width="0.9"/>
<line x1="611.18" y1="381.74" x2="615.64" y2="382.31" stroke="#777" stroke-width="0.9"/>
<line x1="610.22" y1="388.62" x2="614.67" y2="389.3" stroke="#777" stroke-width="0.9"/>
<line x1="609.1" y1="395.48" x2="613.53" y2="396.26" stroke="#777" stroke-width="0.9"/>
<line x1="607.82" y1="402.32" x2="612.23" y2="403.2" stroke="#777" stroke-width="0.9"/>
<line x1="606.37" y1="409.12" x2="610.76" y2="410.1" stroke="#777" stroke-width="0.9"/>
<line x1="604.77" y1="415.88" x2="609.13" y2="416.97" stroke="#777" stroke-width="0.9"/>
<line x1="603" y1="422.6" x2="607.34" y2="423.8" stroke="#777" stroke-width="0.9"/>
<line x1="601.07" y1="429.28" x2="605.38" y2="430.58" stroke="#777" stroke-width="0.9"/>
<line x1="600.29" y1="431.83" x2="604.59" y2="433.17" stroke="#777" stroke-width="0.9"/>
<line x1="598.14" y1="438.45" x2="602.41" y2="439.89" stroke="#777" stroke-width="0.9"/>
<line x1="595.84" y1="445" x2="600.07" y2="446.55" stroke="#777" stroke-width="0.9"/>
<line x1="593.38" y1="451.51" x2="597.57" y2="453.15" stroke="#777" stroke-width="0.9"/>
<line x1="590.77" y1="457.95" x2="594.92" y2="459.69" stroke="#777" stroke-width="0.9"/>
<line x1="588.01" y1="464.33" x2="592.11" y2="466.16" stroke="#777" stroke-width="0.9"/>
<line x1="585.09" y1="470.64" x2="589.15" y2="472.57" stroke="#777" stroke-width="0.9"/>
<line x1="582.02" y1="476.87" x2="586.04" y2="478.91" stroke="#777" stroke-width="0.9"/>
<line x1="578.81" y1="483.04" x2="582.78" y2="485.17" stroke="#777" stroke-width="0.9"/>
<line x1="575.45" y1="489.12" x2="579.37" y2="491.35" stroke="#777" stroke-width="0.9"/>
<line x1="571.95" y1="495.13" x2="575.81" y2="497.44" stroke="#777" stroke-width="0.9"/>
<line x1="568.31" y1="501.05" x2="572.11" y2="503.45" stroke="#777" stroke-width="0.9"/>
<line x1="564.52" y1="506.88" x2="568.27" y2="509.37" stroke="#777" stroke-width="0.9"/>
<line x1="560.6" y1="512.62" x2="564.28" y2="515.2" stroke="#777" stroke-width="0.9"/>
<line x1="556.54" y1="518.26" x2="560.16" y2="520.93" stroke="#777" stroke-width="0.9"/>
<line x1="553.16" y1="522.76" x2="556.73" y2="525.5" stroke="#777" stroke-width="0.9"/>
<line x1="548.86" y1="528.22" x2="552.37" y2="531.05" stroke="#777" stroke-width="0.9"/>
<line x1="544.44" y1="533.58" x2="547.87" y2="536.49" stroke="#777" stroke-width="0.9"/>
<line x1="539.88" y1="538.84" x2="543.25" y2="541.82" stroke="#777" stroke-width="0.9"/>
<line x1="535.21" y1="543.98" x2="538.5" y2="547.05" stroke="#777" stroke-width="0.9"/>
<line x1="530.41" y1="549.01" x2="533.63" y2="552.15" stroke="#777" stroke-width="0.9"/>
<line x1="525.5" y1="553.93" x2="528.64" y2="557.15" stroke="#777" stroke-width="0.9"/>
<line x1="520.46" y1="558.72" x2="523.53" y2="562.02" stroke="#777" stroke-width="0.9"/>
<line x1="515.32" y1="563.4" x2="518.31" y2="566.76" stroke="#777" stroke-width="0.9"/>
<line x1="510.07" y1="567.95" x2="512.97" y2="571.39" stroke="#777" stroke-width="0.9"/>
<line x1="504.71" y1="572.37" x2="507.53" y2="575.88" stroke="#777" stroke-width="0.9"/>
<line x1="499.24" y1="576.67" x2="501.98" y2="580.24" stroke="#777" stroke-width="0.9"/>
<line x1="493.68" y1="580.84" x2="496.33" y2="584.47" stroke="#777" stroke-width="0.9"/>
<line x1="488.01" y1="584.87" x2="490.58" y2="588.57" stroke="#777" stroke-width="0.9"/>
<line x1="482.26" y1="588.76" x2="484.73" y2="592.52" stroke="#777" stroke-width="0.9"/>
<line x1="474.94" y1="593.44" x2="477.3" y2="597.27" stroke="#777" stroke-width="0.9"/>
<line x1="468.98" y1="597.02" x2="471.25" y2="600.9" stroke="#777" stroke-width="0.9"/>
<line x1="462.94" y1="600.46" x2="465.12" y2="604.39" stroke="#777" stroke-width="0.9"/>
<line x1="456.82" y1="603.75" x2="458.9" y2="607.74" stroke="#777" stroke-width="0.9"/>
<line x1="450.62" y1="606.9" x2="452.61" y2="610.94" stroke="#777" stroke-width="0.9"/>
<line x1="444.35" y1="609.9" x2="446.24" y2="613.98" stroke="#777" stroke-width="0.9"/>
<line x1="438.01" y1="612.75" x2="439.81" y2="616.88" stroke="#777" stroke-width="0.9"/>
<line x1="431.6" y1="615.45" x2="433.3" y2="619.61" stroke="#777" stroke-width="0.9"/>
<line x1="425.13" y1="617.99" x2="426.73" y2="622.2" stroke="#777" stroke-width="0.9"/>
<line x1="418.61" y1="620.38" x2="420.1" y2="624.62" stroke="#777" stroke-width="0.9"/>
<line x1="412.02" y1="622.61" x2="413.42" y2="626.89" stroke="#777" stroke-width="0.9"/>
<line x1="405.39" y1="624.69" x2="406.68" y2="629" stroke="#777" stroke-width="0.9"/>
<line x1="401.99" y1="625.69" x2="403.23" y2="630.01" stroke="#777" stroke-width="0.9"/>
<line x1="395.28" y1="627.52" x2="396.42" y2="631.88" stroke="#777" stroke-width="0.9"/>
<line x1="388.54" y1="629.2" x2="389.57" y2="633.58" stroke="#777" stroke-width="0.9"/>
<line x1="381.75" y1="630.72" x2="382.68" y2="635.12" stroke="#777" stroke-width="0.9"/>
<line x1="374.93" y1="632.07" x2="375.76" y2="636.49" stroke="#777" stroke-width="0.9"/>
<line x1="368.08" y1="633.26" x2="368.8" y2="637.7" stroke="#777" stroke-width="0.9"/>
<line x1="361.21" y1="634.29" x2="361.82" y2="638.75" stroke="#777" stroke-width="0.9"/>
<line x1="354.31" y1="635.15" x2="354.82" y2="639.62" stroke="#777" stroke-width="0.9"/>
<line x1="347.4" y1="635.85" x2="347.8" y2="640.33" stroke="#777" stroke-width="0.9"/>
<line x1="340.47" y1="636.38" x2="340.76" y2="640.87" stroke="#777" stroke-width="0.9"/>
<line x1="333.52" y1="636.75" x2="333.71" y2="641.25" stroke="#777" stroke-width="0.9"/>
<line x1="326.58" y1="636.96" x2="326.65" y2="641.46" stroke="#777" stroke-width="0.9"/>
<line x1="319.62" y1="636.99" x2="319.6" y2="641.49" stroke="#777" stroke-width="0.9"/>
<line x1="312.67" y1="636.87" x2="312.54" y2="641.36" stroke="#777" stroke-width="0.9"/>
<line x1="305.73" y1="636.57" x2="305.49" y2="641.07" stroke="#777" stroke-width="0.9"/>
<line x1="298.79" y1="636.12" x2="298.44" y2="640.6" stroke="#777" stroke-width="0.9"/>
<line x1="291.87" y1="635.49" x2="291.41" y2="639.97" stroke="#777" stroke-width="0.9"/>
<line x1="284.96" y1="634.71" x2="284.4" y2="639.17" stroke="#777" stroke-width="0.9"/>
<line x1="278.34" y1="633.79" x2="277.67" y2="638.24" stroke="#777" stroke-width="0.9"/>
<line x1="271.48" y1="632.68" x2="270.71" y2="637.12" stroke="#777" stroke-width="0.9"/>
<line x1="264.64" y1="631.41" x2="263.77" y2="635.83" stroke="#777" stroke-width="0.9"/>
<line x1="257.84" y1="629.98" x2="256.86" y2="634.37" stroke="#777" stroke-width="0.9"/>
<line x1="251.08" y1="628.38" x2="249.99" y2="632.75" stroke="#777" stroke-width="0.9"/>
<line x1="244.35" y1="626.62" x2="243.16" y2="630.96" stroke="#777" stroke-width="0.9"/>
<line x1="237.67" y1="624.71" x2="236.38" y2="629.02" stroke="#777" stroke-width="0.9"/>
<line x1="231.03" y1="622.63" x2="229.64" y2="626.91" stroke="#777" stroke-width="0.9"/>
<line x1="224.45" y1="620.4" x2="222.96" y2="624.64" stroke="#777" stroke-width="0.9"/>
<line x1="217.92" y1="618.01" x2="216.33" y2="622.22" stroke="#777" stroke-width="0.9"/>
<line x1="211.45" y1="615.47" x2="209.76" y2="619.64" stroke="#777" stroke-width="0.9"/>
<line x1="205.05" y1="612.77" x2="203.25" y2="616.9" stroke="#777" stroke-width="0.9"/>
<line x1="198.71" y1="609.93" x2="196.81" y2="614.01" stroke="#777" stroke-width="0.9"/>
<line x1="192.43" y1="606.93" x2="190.44" y2="610.96" stroke="#777" stroke-width="0.9"/>
<line x1="186.24" y1="603.78" x2="184.15" y2="607.77" stroke="#777" stroke-width="0.9"/>
<line x1="180.11" y1="600.49" x2="177.94" y2="604.43" stroke="#777" stroke-width="0.9"/>
<line x1="174.07" y1="597.05" x2="171.8" y2="600.93" stroke="#777" stroke-width="0.9"/>
<line x1="168.11" y1="593.47" x2="165.75" y2="597.3" stroke="#777" stroke-width="0.9"/>
<line x1="162.24" y1="589.75" x2="159.79" y2="593.52" stroke="#777" stroke-width="0.9"/>
<line x1="156.46" y1="585.89" x2="153.92" y2="589.6" stroke="#777" stroke-width="0.9"/>
<line x1="150.78" y1="581.89" x2="148.14" y2="585.54" stroke="#777" stroke-width="0.9"/>
<line x1="145.18" y1="577.76" x2="142.47" y2="581.35" stroke="#777" stroke-width="0.9"/>
<line x1="138.13" y1="572.25" x2="135.31" y2="575.75" stroke="#777" stroke-width="0.9"/>
<line x1="132.78" y1="567.82" x2="129.87" y2="571.25" stroke="#777" stroke-width="0.9"/>
<line x1="127.53" y1="563.26" x2="124.54" y2="566.63" stroke="#777" stroke-width="0.9"/>
<line x1="122.39" y1="558.58" x2="119.32" y2="561.87" stroke="#777" stroke-width="0.9"/>
<line x1="117.36" y1="553.78" x2="114.21" y2="557" stroke="#777" stroke-width="0.9"/>
<line x1="112.45" y1="548.86" x2="109.22" y2="552.01" stroke="#777" stroke-width="0.9"/>
<line x1="107.65" y1="543.83" x2="104.36" y2="546.89" stroke="#777" stroke-width="0.9"/>
<line x1="102.98" y1="538.68" x2="99.61" y2="541.67" stroke="#777" stroke-width="0.9"/>
<line x1="98.43" y1="533.43" x2="94.99" y2="536.33" stroke="#777" stroke-width="0.9"/>
<line x1="94.01" y1="528.06" x2="90.5" y2="530.88" stroke="#777" stroke-width="0.9"/>
<line x1="89.72" y1="522.6" x2="86.14" y2="525.33" stroke="#777" stroke-width="0.9"/>
<line x1="85.55" y1="517.03" x2="81.92" y2="519.68" stroke="#777" stroke-width="0.9"/>
<line x1="83.78" y1="514.57" x2="80.11" y2="517.18" stroke="#777" stroke-width="0.9"/>
<line x1="79.81" y1="508.86" x2="76.08" y2="511.38" stroke="#777" stroke-width="0.9"/>
<line x1="75.98" y1="503.06" x2="72.19" y2="505.49" stroke="#777" stroke-width="0.9"/>
<line x1="72.28" y1="497.17" x2="68.44" y2="499.51" stroke="#777" stroke-width="0.9"/>
<line x1="68.73" y1="491.19" x2="64.84" y2="493.45" stroke="#777" stroke-width="0.9"/>
<line x1="65.32" y1="485.14" x2="61.38" y2="487.3" stroke="#777" stroke-width="0.9"/>
<line x1="62.06" y1="479" x2="58.06" y2="481.06" stroke="#777" stroke-width="0.9"/>
<line x1="58.94" y1="472.78" x2="54.9" y2="474.75" stroke="#777" stroke-width="0.9"/>
<line x1="55.98" y1="466.5" x2="51.89" y2="468.37" stroke="#777" stroke-width="0.9"/>
<line x1="53.16" y1="460.14" x2="49.03" y2="461.92" stroke="#777" stroke-width="0.9"/>
<line x1="50.5" y1="453.72" x2="46.32" y2="455.4" stroke="#777" stroke-width="0.9"/>
<line x1="47.98" y1="447.24" x2="43.77" y2="448.82" stroke="#777" stroke-width="0.9"/>
<line x1="45.63" y1="440.7" x2="41.38" y2="442.18" stroke="#777" stroke-width="0.9"/>
<line x1="43.43" y1="434.11" x2="39.14" y2="435.48" stroke="#777" stroke-width="0.9"/>
<line x1="41.39" y1="427.46" x2="37.07" y2="428.73" stroke="#777" stroke-width="0.9"/>
<line x1="39.5" y1="420.77" x2="35.16" y2="421.94" stroke="#777" stroke-width="0.9"/>
<line x1="37.78" y1="414.04" x2="33.41" y2="415.1" stroke="#777" stroke-width="0.9"/>
<line x1="36.22" y1="407.26" x2="31.82" y2="408.22" stroke="#777" stroke-width="0.9"/>
<line x1="34.81" y1="400.46" x2="30.4" y2="401.31" stroke="#777" stroke-width="0.9"/>
<line x1="33.58" y1="393.62" x2="29.14" y2="394.37" stroke="#777" stroke-width="0.9"/>
<line x1="32.5" y1="386.75" x2="28.05" y2="387.39" stroke="#777" stroke-width="0.9"/>
<line x1="31.59" y1="379.86" x2="27.12" y2="380.39" stroke="#777" stroke-width="0.9"/>
<line x1="30.84" y1="372.95" x2="26.36" y2="373.38" stroke="#777" stroke-width="0.9"/>
<line x1="30.26" y1="366.02" x2="25.77" y2="366.34" stroke="#777" stroke-width="0.9"/>
<line x1="29.98" y1="361.81" x2="25.49" y2="362.07" stroke="#777" stroke-width="0.9"/>
<line x1="29.67" y1="354.86" x2="25.17" y2="355.02" stroke="#777" stroke-width="0.9"/>
<line x1="29.51" y1="347.92" x2="25.01" y2="347.96" stroke="#777" stroke-width="0.9"/>
<line x1="29.53" y1="340.96" x2="25.03" y2="340.9" stroke="#777" stroke-width="0.9"/>
<line x1="29.71" y1="334.01" x2="25.21" y2="333.85" stroke="#777" stroke-width="0.9"/>
<line x1="30.05" y1="327.07" x2="25.56" y2="326.8" stroke="#777" stroke-width="0.9"/>
<line x1="30.56" y1="320.14" x2="26.08" y2="319.76" stroke="#777" stroke-width="0.9"/>
<line x1="31.23" y1="313.22" x2="26.76" y2="312.73" stroke="#777" stroke-width="0.9"/>
<line x1="32.07" y1="306.32" x2="27.61" y2="305.72" stroke="#777" stroke-width="0.9"/>
<line x1="33.08" y1="299.44" x2="28.63" y2="298.74" stroke="#777" stroke-width="0.9"/>
<line x1="34.24" y1="292.59" x2="29.82" y2="291.78" stroke="#777" stroke-width="0.9"/>
<line x1="35.57" y1="285.77" x2="31.16" y2="284.85" stroke="#777" stroke-width="0.9"/>
<line x1="37.06" y1="278.98" x2="32.68" y2="277.96" stroke="#777" stroke-width="0.9"/>
<line x1="38.71" y1="272.22" x2="34.36" y2="271.1" stroke="#777" stroke-width="0.9"/>
<line x1="40.53" y1="265.51" x2="36.2" y2="264.29" stroke="#777" stroke-width="0.9"/>
<line x1="42.5" y1="258.85" x2="38.2" y2="257.52" stroke="#777" stroke-width="0.9"/>
<line x1="44.63" y1="252.23" x2="40.36" y2="250.8" stroke="#777" stroke-width="0.9"/>
<line x1="46.92" y1="245.67" x2="42.68" y2="244.14" stroke="#777" stroke-width="0.9"/>
<line x1="49.36" y1="239.16" x2="45.16" y2="237.53" stroke="#777" stroke-width="0.9"/>
<line x1="51.95" y1="232.71" x2="47.8" y2="230.98" stroke="#777" stroke-width="0.9"/>
<line x1="54.7" y1="226.33" x2="50.59" y2="224.5" stroke="#777" stroke-width="0.9"/>
<line x1="57.6" y1="220.01" x2="53.54" y2="218.08" stroke="#777" stroke-width="0.9"/>
<line x1="60.65" y1="213.76" x2="56.63" y2="211.74" stroke="#777" stroke-width="0.9"/>
<line x1="63.85" y1="207.59" x2="59.88" y2="205.47" stroke="#777" stroke-width="0.9"/>
<line x1="67.2" y1="201.5" x2="63.28" y2="199.28" stroke="#777" stroke-width="0.9"/>
<line x1="70.68" y1="195.48" x2="66.82" y2="193.18" stroke="#777" stroke-width="0.9"/>
<line x1="74.31" y1="189.56" x2="70.5" y2="187.16" stroke="#777" stroke-width="0.9"/>
<line x1="78.08" y1="183.72" x2="74.33" y2="181.23" stroke="#777" stroke-width="0.9"/>
<line x1="81.99" y1="177.97" x2="78.3" y2="175.39" stroke="#777" stroke-width="0.9"/>
<line x1="86.04" y1="172.31" x2="82.41" y2="169.65" stroke="#777" stroke-width="0.9"/>
<line x1="90.21" y1="166.76" x2="86.65" y2="164.01" stroke="#777" stroke-width="0.9"/>
<line x1="94.52" y1="161.3" x2="91.02" y2="158.47" stroke="#777" stroke-width="0.9"/>
<line x1="98.96" y1="155.95" x2="95.53" y2="153.04" stroke="#777" stroke-width="0.9"/>
<line x1="103.52" y1="150.71" x2="100.16" y2="147.71" stroke="#777" stroke-width="0.9"/>
<line x1="108.21" y1="145.57" x2="104.92" y2="142.5" stroke="#777" stroke-width="0.9"/>
<line x1="113.02" y1="140.55" x2="109.8" y2="137.4" stroke="#777" stroke-width="0.9"/>
<line x1="117.94" y1="135.65" x2="114.81" y2="132.42" stroke="#777" stroke-width="0.9"/>
<line x1="122.98" y1="130.86" x2="119.92" y2="127.56" stroke="#777" stroke-width="0.9"/>
<line x1="128.14" y1="126.2" x2="125.16" y2="122.82" stroke="#777" stroke-width="0.9"/>
<line x1="134.2" y1="120.99" x2="131.31" y2="117.54" stroke="#777" stroke-width="0.9"/>
<line x1="139.58" y1="116.59" x2="136.78" y2="113.07" stroke="#777" stroke-width="0.9"/>
<line x1="145.07" y1="112.33" x2="142.35" y2="108.74" stroke="#777" stroke-width="0.9"/>
<line x1="150.66" y1="108.19" x2="148.03" y2="104.54" stroke="#777" stroke-width="0.9"/>
<line x1="156.34" y1="104.19" x2="153.8" y2="100.48" stroke="#777" stroke-width="0.9"/>
<line x1="162.12" y1="100.33" x2="159.67" y2="96.56" stroke="#777" stroke-width="0.9"/>
<line x1="167.99" y1="96.61" x2="165.63" y2="92.78" stroke="#777" stroke-width="0.9"/>
<line x1="173.95" y1="93.02" x2="171.68" y2="89.14" stroke="#777" stroke-width="0.9"/>
<line x1="179.99" y1="89.58" x2="177.81" y2="85.65" stroke="#777" stroke-width="0.9"/>
<line x1="186.11" y1="86.29" x2="184.02" y2="82.3" stroke="#777" stroke-width="0.9"/>
<line x1="192.31" y1="83.14" x2="190.31" y2="79.1" stroke="#777" stroke-width="0.9"/>
<line x1="198.58" y1="80.13" x2="196.68" y2="76.05" stroke="#777" stroke-width="0.9"/>
<line x1="204.92" y1="77.28" x2="203.12" y2="73.16" stroke="#777" stroke-width="0.9"/>
<line x1="211.32" y1="74.58" x2="209.62" y2="70.42" stroke="#777" stroke-width="0.9"/>
<line x1="217.79" y1="72.04" x2="216.19" y2="67.83" stroke="#777" stroke-width="0.9"/>
<line x1="224.32" y1="69.65" x2="222.82" y2="65.4" stroke="#777" stroke-width="0.9"/>
<line x1="230.9" y1="67.41" x2="229.5" y2="63.13" stroke="#777" stroke-width="0.9"/>
<line x1="237.53" y1="65.33" x2="236.24" y2="61.02" stroke="#777" stroke-width="0.9"/>
<line x1="244.21" y1="63.41" x2="243.02" y2="59.07" stroke="#777" stroke-width="0.9"/>
<line x1="249.38" y1="62.05" x2="248.26" y2="57.69" stroke="#777" stroke-width="0.9"/>
<line x1="256.13" y1="60.41" x2="255.12" y2="56.02" stroke="#777" stroke-width="0.9"/>
<line x1="262.93" y1="58.94" x2="262.02" y2="54.53" stroke="#777" stroke-width="0.9"/>
<line x1="269.75" y1="57.62" x2="268.95" y2="53.19" stroke="#777" stroke-width="0.9"/>
<line x1="276.61" y1="56.47" x2="275.91" y2="52.03" stroke="#777" stroke-width="0.9"/>
<line x1="283.49" y1="55.48" x2="282.9" y2="51.02" stroke="#777" stroke-width="0.9"/>
<line x1="290.39" y1="54.66" x2="289.91" y2="50.19" stroke="#777" stroke-width="0.9"/>
<line x1="297.31" y1="54" x2="296.94" y2="49.52" stroke="#777" stroke-width="0.9"/>
<line x1="304.24" y1="53.51" x2="303.98" y2="49.02" stroke="#777" stroke-width="0.9"/>
<path d="M379.88 99.55A252.3 252.3 0 0 1 384.34 100.65L381.77 110.63A242 242 0 0 0 377.49 109.57Z" fill="#8a2a12" stroke="#8a2a12" stroke-width="0.4" stroke-opacity="0.5"/>
<path d="M375.88 122.34A229.2 229.2 0 0 1 380.34 123.48L377.67 133.53A218.8 218.8 0 0 0 373.41 132.45Z" fill="#8a2a12" stroke="#8a2a12" stroke-width="0.4" stroke-opacity="0.5"/>
<path d="M368.53 145.36A205.1 205.1 0 0 1 373.01 146.47L370.4 156.54A194.7 194.7 0 0 0 366.14 155.49Z" fill="#8a2a12" stroke="#8a2a12" stroke-width="0.4" stroke-opacity="0.5"/>
<path d="M250.38 91.8A263 263 0 0 1 252.94 91.09L255.54 100.75A253 253 0 0 0 253.09 101.43Z" fill="#7a2a1a" stroke="#7a2a1a" stroke-width="0.4" stroke-opacity="0.5"/>
<path d="M254.15 102.17A252 252 0 0 1 256.71 101.47L259.28 111.14A242 242 0 0 0 256.82 111.8Z" fill="#b8206a" stroke="#b8206a" stroke-width="0.4" stroke-opacity="0.5"/>
<path d="M259.17 100.42A252.4 252.4 0 0 1 265.14 98.97L267.59 109.7A241.4 241.4 0 0 0 261.89 111.08Z" fill="#22e022" stroke="#22e022" stroke-width="0.4" stroke-opacity="0.5"/>
<path d="M268.01 121.82A229.5 229.5 0 0 1 278.02 119.66L280.1 130.46A218.5 218.5 0 0 0 270.57 132.52Z" fill="#22e022" stroke="#22e022" stroke-width="0.4" stroke-opacity="0.5"/>
<path d="M230.2 134.99A229 229 0 0 1 236.81 132.24L240.51 141.53A219 219 0 0 0 234.19 144.16Z" fill="#22e022" stroke="#22e022" stroke-width="0.4" stroke-opacity="0.5"/>
<path d="M98.61 294.24A228.6 228.6 0 0 1 100.05 288.26L110.9 291.04A217.4 217.4 0 0 0 109.53 296.73Z" fill="#8a2a12" stroke="#8a2a12" stroke-width="0.4" stroke-opacity="0.5"/>
<path d="M94.62 348.35A226.9 226.9 0 0 1 94.61 343.23L105.01 343.31A216.5 216.5 0 0 0 105.02 348.2Z" fill="#8a2a12" stroke="#8a2a12" stroke-width="0.4" stroke-opacity="0.5"/>
<path d="M105.73 348.32A215.8 215.8 0 0 1 105.71 343.19L116.21 343.28A205.3 205.3 0 0 0 116.22 348.15Z" fill="#111111" stroke="#111111" stroke-width="0.4" stroke-opacity="0.5"/>
<path d="M117.73 348.28A203.8 203.8 0 0 1 117.71 343.15L128.11 343.24A193.4 193.4 0 0 0 128.12 348.11Z" fill="#22e022" stroke="#22e022" stroke-width="0.4" stroke-opacity="0.5"/>
<path d="M70 352.13A251.6 251.6 0 0 1 69.91 347.53L80.41 347.43A241.1 241.1 0 0 0 80.5 351.83Z" fill="#22e022" stroke="#22e022" stroke-width="0.4" stroke-opacity="0.5"/>
<path d="M73.04 431.25A263 263 0 0 1 71.74 427.39L80.29 424.57A254 254 0 0 0 81.55 428.29Z" fill="#8a2a12" stroke="#8a2a12" stroke-width="0.4" stroke-opacity="0.5"/>
<path d="M83.47 427.72A252 252 0 0 1 82.16 423.86L91.65 420.73A242 242 0 0 0 92.91 424.44Z" fill="#c8267e" stroke="#c8267e" stroke-width="0.4" stroke-opacity="0.5"/>
<path d="M94.36 424.04A240.5 240.5 0 0 1 93.05 420.17L103.02 416.89A230 230 0 0 0 104.28 420.59Z" fill="#c8267e" stroke="#c8267e" stroke-width="0.4" stroke-opacity="0.5"/>
<path d="M105.73 420.2A228.5 228.5 0 0 1 104.41 416.32L114.39 413.04A218 218 0 0 0 115.64 416.74Z" fill="#8a2a12" stroke="#8a2a12" stroke-width="0.4" stroke-opacity="0.5"/>
<path d="M207.81 515.59A205 205 0 0 1 203.57 512.68L209.9 503.69A194 194 0 0 0 213.91 506.43Z" fill="#22e022" stroke="#22e022" stroke-width="0.4" stroke-opacity="0.5"/>
<path d="M216.36 519.82A204 204 0 0 1 212.87 517.67L217.93 509.63A194.5 194.5 0 0 0 221.25 511.68Z" fill="#111111" stroke="#111111" stroke-width="0.4" stroke-opacity="0.5"/>
<path d="M208.14 528.86A216 216 0 0 1 204.67 526.68L210.46 517.68A205.3 205.3 0 0 0 213.75 519.75Z" fill="#8a2a12" stroke="#8a2a12" stroke-width="0.4" stroke-opacity="0.5"/>
<path d="M191.29 533.14A228.8 228.8 0 0 1 187.94 530.78L194.07 522.25A218.3 218.3 0 0 0 197.27 524.5Z" fill="#c8267e" stroke="#c8267e" stroke-width="0.4" stroke-opacity="0.5"/>
<path d="M199.11 537.96A228.5 228.5 0 0 1 195.67 535.74L201.07 527.55A218.7 218.7 0 0 0 204.35 529.68Z" fill="#8a2a12" stroke="#8a2a12" stroke-width="0.4" stroke-opacity="0.5"/>
<path d="M176.16 550.87A252 252 0 0 1 167.12 544.18L173.86 535.48A241 241 0 0 0 182.51 541.88Z" fill="#22e022" stroke="#22e022" stroke-width="0.4" stroke-opacity="0.5"/>
<path d="M193.85 562.28A252 252 0 0 1 190.34 560.18L196.06 550.78A241 241 0 0 0 199.42 552.79Z" fill="#8a2a12" stroke="#8a2a12" stroke-width="0.4" stroke-opacity="0.5"/>
<path d="M185.83 570.3A263 263 0 0 1 182.35 568.17L188.17 558.84A252 252 0 0 0 191.5 560.88Z" fill="#c8267e" stroke="#c8267e" stroke-width="0.4" stroke-opacity="0.5"/>
<path d="M561.95 423.69A253 253 0 0 1 559.28 431.44L548 427.34A241 241 0 0 0 550.55 419.96Z" fill="#8a2a12" stroke="#8a2a12" stroke-width="0.4" stroke-opacity="0.5"/>
<path d="M467.48 549.8A251.5 251.5 0 0 1 463.3 552.72L457.66 544.46A241.5 241.5 0 0 0 461.67 541.66Z" fill="#8a2a12" stroke="#8a2a12" stroke-width="0.4" stroke-opacity="0.5"/>
<path d="M452.14 501.68A204 204 0 0 1 448.16 504.92L441.95 497.08A194 194 0 0 0 445.73 494Z" fill="#8a2a12" stroke="#8a2a12" stroke-width="0.4" stroke-opacity="0.5"/>
<path d="M376.05 542.61A205 205 0 0 1 373.07 543.41L370.3 532.76A194 194 0 0 0 373.12 532.01Z" fill="#2ecc2e" stroke="#2ecc2e" stroke-width="0.4" stroke-opacity="0.5"/>
<path d="M509.99 424.33A204.5 204.5 0 0 1 508.36 428.09L499.22 424.03A194.5 194.5 0 0 0 500.77 420.45Z" fill="#8a2a12" stroke="#8a2a12" stroke-width="0.4" stroke-opacity="0.5"/>
<path d="M92.01 332.97A229.8 229.8 0 0 1 94.79 307.47L108.1 309.67A216.3 216.3 0 0 0 105.5 333.68Z" fill="#e9308e"/>
<rect x="237.02" y="421.53" width="2" height="2.2" fill="#d7683e" transform="rotate(137.08 238.02 422.63)"/>
<rect x="235.72" y="422.63" width="2" height="2.2" fill="#6f9fbd" transform="rotate(137.12 236.72 423.73)"/>
<rect x="234.45" y="423.77" width="2" height="2.2" fill="#6f9fbd" transform="rotate(137.13 235.45 424.87)"/>
<rect x="233.3" y="425.03" width="2" height="2.2" fill="#d7683e" transform="rotate(137.07 234.3 426.13)"/>
<rect x="232.06" y="426.18" width="2" height="2.2" fill="#6f9fbd" transform="rotate(137.07 233.06 427.28)"/>
<rect x="230.8" y="427.33" width="2" height="2.2" fill="#6f9fbd" transform="rotate(137.07 231.8 428.43)"/>
<rect x="229.54" y="428.47" width="2" height="2.2" fill="#d7683e" transform="rotate(137.08 230.54 429.57)"/>
<rect x="228.27" y="429.6" width="2" height="2.2" fill="#6f9fbd" transform="rotate(137.1 229.27 430.7)"/>
<rect x="227.08" y="430.82" width="2" height="2.2" fill="#6f9fbd" transform="rotate(137.07 228.08 431.92)"/>
<rect x="225.81" y="431.95" width="2" height="2.2" fill="#d7683e" transform="rotate(137.08 226.81 433.05)"/>
<rect x="224.59" y="433.13" width="2" height="2.2" fill="#6f9fbd" transform="rotate(137.07 225.59 434.23)"/>
<rect x="223.22" y="434.15" width="2" height="2.2" fill="#6f9fbd" transform="rotate(137.15 224.22 435.25)"/>
<rect x="222.01" y="435.35" width="2" height="2.2" fill="#d7683e" transform="rotate(137.12 223.01 436.45)"/>
<rect x="220.87" y="436.62" width="2" height="2.2" fill="#6f9fbd" transform="rotate(137.06 221.87 437.72)"/>
<rect x="219.48" y="437.62" width="2" height="2.2" fill="#6f9fbd" transform="rotate(137.15 220.48 438.72)"/>
<rect x="218.38" y="438.93" width="2" height="2.2" fill="#d7683e" transform="rotate(137.06 219.38 440.03)"/>
<rect x="217.08" y="440.04" width="2" height="2.2" fill="#6f9fbd" transform="rotate(137.09 218.08 441.14)"/>
<rect x="215.74" y="441.09" width="2" height="2.2" fill="#6f9fbd" transform="rotate(137.15 216.74 442.19)"/>
<rect x="214.52" y="442.28" width="2" height="2.2" fill="#d7683e" transform="rotate(137.13 215.52 443.38)"/>
<rect x="213.29" y="443.45" width="2" height="2.2" fill="#6f9fbd" transform="rotate(137.12 214.29 444.55)"/>
<rect x="212.1" y="444.66" width="2" height="2.2" fill="#6f9fbd" transform="rotate(137.09 213.1 445.76)"/>
<rect x="210.89" y="445.86" width="2" height="2.2" fill="#d7683e" transform="rotate(137.07 211.89 446.96)"/>
<rect x="209.57" y="446.93" width="2" height="2.2" fill="#6f9fbd" transform="rotate(137.11 210.57 448.03)"/>
<rect x="208.42" y="448.2" width="2" height="2.2" fill="#6f9fbd" transform="rotate(137.06 209.42 449.3)"/>
<rect x="207.16" y="449.33" width="2" height="2.2" fill="#d7683e" transform="rotate(137.07 208.16 450.43)"/>
<rect x="205.88" y="450.46" width="2" height="2.2" fill="#6f9fbd" transform="rotate(137.09 206.88 451.56)"/>
<rect x="204.7" y="451.68" width="2" height="2.2" fill="#6f9fbd" transform="rotate(137.05 205.7 452.78)"/>
<rect x="203.39" y="452.77" width="2" height="2.2" fill="#d7683e" transform="rotate(137.09 204.39 453.87)"/>
<rect x="202.07" y="453.84" width="2" height="2.2" fill="#6f9fbd" transform="rotate(137.13 203.07 454.94)"/>
<rect x="200.84" y="455.02" width="2" height="2.2" fill="#6f9fbd" transform="rotate(137.12 201.84 456.12)"/>
<rect x="199.63" y="456.22" width="2" height="2.2" fill="#d7683e" transform="rotate(137.1 200.63 457.32)"/>
<rect x="198.36" y="457.35" width="2" height="2.2" fill="#6f9fbd" transform="rotate(137.11 199.36 458.45)"/>
<rect x="197.15" y="458.54" width="2" height="2.2" fill="#6f9fbd" transform="rotate(137.1 198.15 459.64)"/>
<rect x="195.97" y="459.77" width="2" height="2.2" fill="#d7683e" transform="rotate(137.06 196.97 460.87)"/>
<rect x="194.63" y="460.83" width="2" height="2.2" fill="#6f9fbd" transform="rotate(137.11 195.63 461.93)"/>
<rect x="193.42" y="462.03" width="2" height="2.2" fill="#6f9fbd" transform="rotate(137.09 194.42 463.13)"/>
<rect x="192.11" y="463.11" width="2" height="2.2" fill="#d7683e" transform="rotate(137.12 193.11 464.21)"/>
<rect x="190.83" y="464.23" width="2" height="2.2" fill="#6f9fbd" transform="rotate(137.14 191.83 465.33)"/>
<rect x="189.68" y="465.49" width="2" height="2.2" fill="#6f9fbd" transform="rotate(137.09 190.68 466.59)"/>
<rect x="188.41" y="466.62" width="2" height="2.2" fill="#d7683e" transform="rotate(137.11 189.41 467.72)"/>
<rect x="187.12" y="467.73" width="2" height="2.2" fill="#6f9fbd" transform="rotate(137.12 188.12 468.83)"/>
<rect x="185.95" y="468.97" width="2" height="2.2" fill="#6f9fbd" transform="rotate(137.09 186.95 470.07)"/>
<rect x="184.75" y="470.17" width="2" height="2.2" fill="#d7683e" transform="rotate(137.07 185.75 471.27)"/>
<rect x="183.39" y="471.21" width="2" height="2.2" fill="#6f9fbd" transform="rotate(137.12 184.39 472.31)"/>
<rect x="182.11" y="472.33" width="2" height="2.2" fill="#6f9fbd" transform="rotate(137.14 183.11 473.43)"/>
<rect x="180.89" y="473.51" width="2" height="2.2" fill="#d7683e" transform="rotate(137.13 181.89 474.61)"/>
<rect x="179.66" y="474.69" width="2" height="2.2" fill="#6f9fbd" transform="rotate(137.12 180.66 475.79)"/>
<rect x="257.56" y="446.07" width="2" height="2.2" fill="#d7683e" transform="rotate(121.64 258.56 447.17)"/>
<rect x="256.7" y="447.54" width="2" height="2.2" fill="#6f9fbd" transform="rotate(121.62 257.7 448.64)"/>
<rect x="255.81" y="448.99" width="2" height="2.2" fill="#6f9fbd" transform="rotate(121.61 256.81 450.09)"/>
<rect x="254.96" y="450.46" width="2" height="2.2" fill="#d7683e" transform="rotate(121.6 255.96 451.56)"/>
<rect x="254.09" y="451.92" width="2" height="2.2" fill="#6f9fbd" transform="rotate(121.58 255.09 453.02)"/>
<rect x="253.14" y="453.33" width="2" height="2.2" fill="#6f9fbd" transform="rotate(121.61 254.14 454.43)"/>
<rect x="252.35" y="454.84" width="2" height="2.2" fill="#d7683e" transform="rotate(121.56 253.35 455.94)"/>
<rect x="251.4" y="456.25" width="2" height="2.2" fill="#6f9fbd" transform="rotate(121.59 252.4 457.35)"/>
<rect x="250.44" y="457.66" width="2" height="2.2" fill="#6f9fbd" transform="rotate(121.63 251.44 458.76)"/>
<rect x="249.56" y="459.11" width="2" height="2.2" fill="#d7683e" transform="rotate(121.62 250.56 460.21)"/>
<rect x="248.69" y="460.57" width="2" height="2.2" fill="#6f9fbd" transform="rotate(121.61 249.69 461.67)"/>
<rect x="247.87" y="462.07" width="2" height="2.2" fill="#6f9fbd" transform="rotate(121.58 248.87 463.17)"/>
<rect x="246.95" y="463.49" width="2" height="2.2" fill="#d7683e" transform="rotate(121.59 247.95 464.59)"/>
<rect x="246.05" y="464.94" width="2" height="2.2" fill="#6f9fbd" transform="rotate(121.6 247.05 466.04)"/>
<rect x="245.12" y="466.36" width="2" height="2.2" fill="#6f9fbd" transform="rotate(121.61 246.12 467.46)"/>
<rect x="244.28" y="467.84" width="2" height="2.2" fill="#d7683e" transform="rotate(121.59 245.28 468.94)"/>
<rect x="243.33" y="469.25" width="2" height="2.2" fill="#6f9fbd" transform="rotate(121.62 244.33 470.35)"/>
<rect x="242.38" y="470.66" width="2" height="2.2" fill="#6f9fbd" transform="rotate(121.64 243.38 471.76)"/>
<rect x="241.66" y="472.21" width="2" height="2.2" fill="#d7683e" transform="rotate(121.57 242.66 473.31)"/>
<rect x="240.66" y="473.6" width="2" height="2.2" fill="#6f9fbd" transform="rotate(121.62 241.66 474.7)"/>
<rect x="239.74" y="475.03" width="2" height="2.2" fill="#6f9fbd" transform="rotate(121.63 240.74 476.13)"/>
<rect x="238.94" y="476.53" width="2" height="2.2" fill="#d7683e" transform="rotate(121.59 239.94 477.63)"/>
<rect x="238.03" y="477.96" width="2" height="2.2" fill="#6f9fbd" transform="rotate(121.6 239.03 479.06)"/>
<rect x="237.02" y="479.34" width="2" height="2.2" fill="#6f9fbd" transform="rotate(121.65 238.02 480.44)"/>
<rect x="236.35" y="480.93" width="2" height="2.2" fill="#d7683e" transform="rotate(121.55 237.35 482.03)"/>
<rect x="235.34" y="482.3" width="2" height="2.2" fill="#6f9fbd" transform="rotate(121.6 236.34 483.4)"/>
<rect x="234.54" y="483.8" width="2" height="2.2" fill="#6f9fbd" transform="rotate(121.57 235.54 484.9)"/>
<rect x="233.5" y="485.16" width="2" height="2.2" fill="#d7683e" transform="rotate(121.63 234.5 486.26)"/>
<rect x="232.57" y="486.58" width="2" height="2.2" fill="#6f9fbd" transform="rotate(121.64 233.57 487.68)"/>
<rect x="231.78" y="488.09" width="2" height="2.2" fill="#6f9fbd" transform="rotate(121.6 232.78 489.19)"/>
<rect x="231" y="489.61" width="2" height="2.2" fill="#d7683e" transform="rotate(121.56 232 490.71)"/>
<rect x="229.99" y="490.98" width="2" height="2.2" fill="#6f9fbd" transform="rotate(121.61 230.99 492.08)"/>
<rect x="229.11" y="492.43" width="2" height="2.2" fill="#6f9fbd" transform="rotate(121.6 230.11 493.53)"/>
<rect x="228.17" y="493.85" width="2" height="2.2" fill="#d7683e" transform="rotate(121.62 229.17 494.95)"/>
<rect x="227.33" y="495.34" width="2" height="2.2" fill="#6f9fbd" transform="rotate(121.6 228.33 496.44)"/>
<rect x="226.41" y="496.76" width="2" height="2.2" fill="#6f9fbd" transform="rotate(121.61 227.41 497.86)"/>
<rect x="225.47" y="498.18" width="2" height="2.2" fill="#d7683e" transform="rotate(121.63 226.47 499.28)"/>
<rect x="224.66" y="499.68" width="2" height="2.2" fill="#6f9fbd" transform="rotate(121.6 225.66 500.78)"/>
<rect x="223.8" y="501.14" width="2" height="2.2" fill="#6f9fbd" transform="rotate(121.59 224.8 502.24)"/>
<rect x="222.76" y="502.5" width="2" height="2.2" fill="#d7683e" transform="rotate(121.64 223.76 503.6)"/>
<rect x="222.07" y="504.07" width="2" height="2.2" fill="#6f9fbd" transform="rotate(121.57 223.07 505.17)"/>
<rect x="221.05" y="505.44" width="2" height="2.2" fill="#6f9fbd" transform="rotate(121.62 222.05 506.54)"/>
<rect x="220.24" y="506.94" width="2" height="2.2" fill="#d7683e" transform="rotate(121.59 221.24 508.04)"/>
<rect x="423.55" y="390.32" width="2" height="2.1" fill="#d7683e" transform="rotate(24.23 424.55 391.37)"/>
<rect x="425.15" y="390.9" width="2" height="2.1" fill="#6f9fbd" transform="rotate(24.16 426.15 391.95)"/>
<rect x="426.63" y="391.75" width="2" height="2.1" fill="#6f9fbd" transform="rotate(24.25 427.63 392.8)"/>
<rect x="428.23" y="392.33" width="2" height="2.1" fill="#d7683e" transform="rotate(24.19 429.23 393.38)"/>
<rect x="429.81" y="392.97" width="2" height="2.1" fill="#6f9fbd" transform="rotate(24.16 430.81 394.02)"/>
<rect x="431.34" y="393.71" width="2" height="2.1" fill="#6f9fbd" transform="rotate(24.18 432.34 394.76)"/>
<rect x="432.88" y="394.43" width="2" height="2.1" fill="#d7683e" transform="rotate(24.19 433.88 395.48)"/>
<rect x="434.47" y="395.05" width="2" height="2.1" fill="#6f9fbd" transform="rotate(24.15 435.47 396.1)"/>
<rect x="435.98" y="395.83" width="2" height="2.1" fill="#6f9fbd" transform="rotate(24.19 436.98 396.88)"/>
<rect x="437.53" y="396.53" width="2" height="2.1" fill="#d7683e" transform="rotate(24.19 438.53 397.58)"/>
<rect x="439.06" y="397.28" width="2" height="2.1" fill="#6f9fbd" transform="rotate(24.22 440.06 398.33)"/>
<rect x="440.64" y="397.91" width="2" height="2.1" fill="#6f9fbd" transform="rotate(24.19 441.64 398.96)"/>
<rect x="442.2" y="398.58" width="2" height="2.1" fill="#d7683e" transform="rotate(24.18 443.2 399.63)"/>
<rect x="443.75" y="399.27" width="2" height="2.1" fill="#6f9fbd" transform="rotate(24.17 444.75 400.32)"/>
<rect x="445.25" y="400.08" width="2" height="2.1" fill="#6f9fbd" transform="rotate(24.22 446.25 401.13)"/>
<rect x="446.79" y="400.82" width="2" height="2.1" fill="#d7683e" transform="rotate(24.24 447.79 401.87)"/>
<rect x="448.38" y="401.43" width="2" height="2.1" fill="#6f9fbd" transform="rotate(24.2 449.38 402.48)"/>
<rect x="449.96" y="402.05" width="2" height="2.1" fill="#6f9fbd" transform="rotate(24.17 450.96 403.1)"/>
<rect x="451.45" y="402.88" width="2" height="2.1" fill="#d7683e" transform="rotate(24.23 452.45 403.93)"/>
<rect x="453.04" y="403.49" width="2" height="2.1" fill="#6f9fbd" transform="rotate(24.19 454.04 404.54)"/>
<rect x="454.61" y="404.14" width="2" height="2.1" fill="#6f9fbd" transform="rotate(24.17 455.61 405.19)"/>
<rect x="456.17" y="404.82" width="2" height="2.1" fill="#d7683e" transform="rotate(24.16 457.17 405.87)"/>
<rect x="457.65" y="405.67" width="2" height="2.1" fill="#6f9fbd" transform="rotate(24.23 458.65 406.72)"/>
<rect x="459.2" y="406.37" width="2" height="2.1" fill="#6f9fbd" transform="rotate(24.23 460.2 407.42)"/>
<rect x="460.77" y="407.03" width="2" height="2.1" fill="#d7683e" transform="rotate(24.21 461.77 408.08)"/>
<rect x="462.34" y="407.69" width="2" height="2.1" fill="#6f9fbd" transform="rotate(24.2 463.34 408.74)"/>
<rect x="463.88" y="408.41" width="2" height="2.1" fill="#6f9fbd" transform="rotate(24.21 464.88 409.46)"/>
<rect x="465.47" y="409.02" width="2" height="2.1" fill="#d7683e" transform="rotate(24.17 466.47 410.07)"/>
<rect x="466.93" y="409.9" width="2" height="2.1" fill="#6f9fbd" transform="rotate(24.25 467.93 410.95)"/>
<rect x="468.55" y="410.44" width="2" height="2.1" fill="#6f9fbd" transform="rotate(24.19 469.55 411.49)"/>
<rect x="470.07" y="411.21" width="2" height="2.1" fill="#d7683e" transform="rotate(24.21 471.07 412.26)"/>
<rect x="471.6" y="411.96" width="2" height="2.1" fill="#6f9fbd" transform="rotate(24.23 472.6 413.01)"/>
<rect x="473.15" y="412.66" width="2" height="2.1" fill="#6f9fbd" transform="rotate(24.23 474.15 413.71)"/>
<rect x="474.74" y="413.26" width="2" height="2.1" fill="#d7683e" transform="rotate(24.2 475.74 414.31)"/>
<rect x="476.32" y="413.91" width="2" height="2.1" fill="#6f9fbd" transform="rotate(24.18 477.32 414.96)"/>
<rect x="477.83" y="414.67" width="2" height="2.1" fill="#6f9fbd" transform="rotate(24.2 478.83 415.72)"/>
<rect x="479.44" y="415.25" width="2" height="2.1" fill="#d7683e" transform="rotate(24.16 480.44 416.3)"/>
<rect x="480.9" y="416.15" width="2" height="2.1" fill="#6f9fbd" transform="rotate(24.23 481.9 417.2)"/>
<rect x="482.51" y="416.71" width="2" height="2.1" fill="#6f9fbd" transform="rotate(24.19 483.51 417.76)"/>
<rect x="484" y="417.55" width="2" height="2.1" fill="#d7683e" transform="rotate(24.24 485 418.6)"/>
<rect x="485.62" y="418.08" width="2" height="2.1" fill="#6f9fbd" transform="rotate(24.18 486.62 419.13)"/>
<rect x="215.73" y="501.27" width="4" height="2.2" fill="#6f9fbd" transform="rotate(123.4 217.73 502.37)"/>
<rect x="217.04" y="497.97" width="2" height="2" fill="#d7683e" transform="rotate(123.9 218.04 498.97)"/>
<rect x="217.3" y="504.13" width="2" height="2" fill="#d7683e" transform="rotate(122.8 218.3 505.13)"/>
<rect x="492.25" y="414.09" width="2" height="2" fill="#d7683e" transform="rotate(22.2 493.25 415.09)"/>
<rect x="491.78" y="415.23" width="2" height="2" fill="#6f9fbd" transform="rotate(22.58 492.78 416.23)"/>
<rect x="491.3" y="416.36" width="2" height="2" fill="#6f9fbd" transform="rotate(22.96 492.3 417.36)"/>
<rect x="490.82" y="417.49" width="2" height="2" fill="#d7683e" transform="rotate(23.34 491.82 418.49)"/>
<rect x="490.33" y="418.62" width="2" height="2" fill="#6f9fbd" transform="rotate(23.72 491.33 419.62)"/>
<rect x="489.83" y="419.75" width="2" height="2" fill="#6f9fbd" transform="rotate(24.1 490.83 420.75)"/>
<rect x="489.32" y="420.87" width="2" height="2" fill="#d7683e" transform="rotate(24.48 490.32 421.87)"/>
<rect x="488.81" y="421.98" width="2" height="2" fill="#6f9fbd" transform="rotate(24.86 489.81 422.98)"/>
<rect x="488.29" y="423.1" width="2" height="2" fill="#6f9fbd" transform="rotate(25.24 489.29 424.1)"/>
<rect x="489.72" y="414.44" width="2" height="2" fill="#6f9fbd" transform="rotate(22.6 490.72 415.44)"/>
<rect x="489.1" y="415.92" width="2" height="2" fill="#d7683e" transform="rotate(23.1 490.1 416.92)"/>
<rect x="488.47" y="417.38" width="2" height="2" fill="#6f9fbd" transform="rotate(23.6 489.47 418.38)"/>
<rect x="487.82" y="418.85" width="2" height="2" fill="#d7683e" transform="rotate(24.1 488.82 419.85)"/>
<rect x="487.16" y="420.3" width="2" height="2" fill="#6f9fbd" transform="rotate(24.6 488.16 421.3)"/>
<rect x="486.49" y="421.76" width="2" height="2" fill="#d7683e" transform="rotate(25.1 487.49 422.76)"/>
<rect x="490.98" y="422.05" width="2" height="2" fill="#d7683e" transform="rotate(24.6 491.98 423.05)"/>
<rect x="492.25" y="424.09" width="2" height="2" fill="#d7683e" transform="rotate(25 493.25 425.09)"/>
<rect x="493.48" y="422.11" width="2" height="2" fill="#d7683e" transform="rotate(24.3 494.48 423.11)"/>
<rect x="492.91" y="418.96" width="2" height="2" fill="#6f9fbd" transform="rotate(23.5 493.91 419.96)"/>
<rect x="489.82" y="424.76" width="2" height="2" fill="#6f9fbd" transform="rotate(25.5 490.82 425.76)"/>
<rect x="487.36" y="414.14" width="2" height="2" fill="#d7683e" transform="rotate(22.8 488.36 415.14)"/>
<rect x="485.03" y="414.52" width="2" height="2" fill="#6f9fbd" transform="rotate(23.2 486.03 415.52)"/>
<rect x="482.2" y="415.99" width="2" height="2" fill="#6f9fbd" transform="rotate(24 483.2 416.99)"/>
<rect x="409.63" y="464.03" width="2.1" height="2.1" fill="#d7683e" transform="rotate(53.4 410.68 465.08)"/>
<rect x="410.95" y="465.99" width="2.1" height="2.1" fill="#6f9fbd" transform="rotate(53.44 412 467.04)"/>
<rect x="411.83" y="467.01" width="2.1" height="2.1" fill="#6f9fbd" transform="rotate(53.4 412.88 468.06)"/>
<rect x="412.93" y="468.64" width="2.1" height="2.1" fill="#6f9fbd" transform="rotate(53.44 413.98 469.69)"/>
<rect x="414.12" y="470.19" width="2.1" height="2.1" fill="#6f9fbd" transform="rotate(53.42 415.17 471.24)"/>
<rect x="415.77" y="470.12" width="2.1" height="2.1" fill="#6f9fbd" transform="rotate(52.93 416.82 471.17)"/>
<rect x="416.14" y="472.85" width="2.1" height="2.1" fill="#6f9fbd" transform="rotate(53.41 417.19 473.9)"/>
<rect x="416.57" y="472.63" width="2.1" height="2.1" fill="#d7683e" transform="rotate(53.24 417.62 473.68)"/>
<rect x="417.83" y="472.98" width="2.1" height="2.1" fill="#6f9fbd" transform="rotate(52.96 418.88 474.03)"/>
<rect x="416.74" y="474.04" width="2.1" height="2.1" fill="#6f9fbd" transform="rotate(53.49 417.79 475.09)"/>
<rect x="418.62" y="474.9" width="2.1" height="2.1" fill="#6f9fbd" transform="rotate(53.14 419.67 475.95)"/>
<rect x="417.47" y="475.4" width="2.1" height="2.1" fill="#6f9fbd" transform="rotate(53.57 418.52 476.45)"/>
<rect x="418.95" y="475.99" width="2.1" height="2.1" fill="#d7683e" transform="rotate(53.28 420 477.04)"/>
<rect x="418.27" y="477.05" width="2.1" height="2.1" fill="#6f9fbd" transform="rotate(53.69 419.32 478.1)"/>
<rect x="421.19" y="477.83" width="2.1" height="2.1" fill="#d7683e" transform="rotate(53.04 422.24 478.88)"/>
<rect x="422.25" y="475.9" width="2.1" height="2.1" fill="#6f9fbd" transform="rotate(52.35 423.3 476.95)"/>
<rect x="421.93" y="479.44" width="2.1" height="2.1" fill="#6f9fbd" transform="rotate(53.17 422.98 480.49)"/>
<rect x="421.86" y="478.86" width="2.1" height="2.1" fill="#6f9fbd" transform="rotate(53.07 422.91 479.91)"/>
<rect x="420.91" y="481.25" width="2.1" height="2.1" fill="#6f9fbd" transform="rotate(53.81 421.96 482.3)"/>
<rect x="423.11" y="479.22" width="2.1" height="2.1" fill="#6f9fbd" transform="rotate(52.81 424.16 480.27)"/>
<rect x="420.9" y="481.02" width="2.1" height="2.1" fill="#6f9fbd" transform="rotate(53.76 421.95 482.07)"/>
<rect x="422.05" y="482.14" width="2.1" height="2.1" fill="#6f9fbd" transform="rotate(53.68 423.1 483.19)"/>
<rect x="421.66" y="482.67" width="2.1" height="2.1" fill="#d7683e" transform="rotate(53.89 422.71 483.72)"/>
<rect x="425.3" y="480.44" width="2.1" height="2.1" fill="#d7683e" transform="rotate(52.47 426.35 481.49)"/>
<rect x="422.91" y="484.22" width="2.1" height="2.1" fill="#6f9fbd" transform="rotate(53.85 423.96 485.27)"/>
<rect x="426.87" y="481.24" width="2.1" height="2.1" fill="#6f9fbd" transform="rotate(52.22 427.92 482.29)"/>
<rect x="427.89" y="481.12" width="2.1" height="2.1" fill="#d7683e" transform="rotate(51.93 428.94 482.17)"/>
<rect x="427.23" y="483.81" width="2.1" height="2.1" fill="#6f9fbd" transform="rotate(52.64 428.28 484.86)"/>
<rect x="428.08" y="483.33" width="2.1" height="2.1" fill="#d7683e" transform="rotate(52.32 429.13 484.38)"/>
<rect x="424.45" y="484.72" width="2.1" height="2.1" fill="#6f9fbd" transform="rotate(53.54 425.5 485.77)"/>
<rect x="428.57" y="483.98" width="2.1" height="2.1" fill="#d7683e" transform="rotate(52.33 429.62 485.03)"/>
<rect x="427.79" y="484.63" width="2.1" height="2.1" fill="#6f9fbd" transform="rotate(52.66 428.84 485.68)"/>
<rect x="429.5" y="483.17" width="2.1" height="2.1" fill="#d7683e" transform="rotate(51.93 430.55 484.22)"/>
<rect x="429.8" y="485.69" width="2.1" height="2.1" fill="#6f9fbd" transform="rotate(52.35 430.85 486.74)"/>
<rect x="426.59" y="487.41" width="2.1" height="2.1" fill="#d7683e" transform="rotate(53.5 427.64 488.46)"/>
<rect x="427.96" y="487.05" width="2.1" height="2.1" fill="#6f9fbd" transform="rotate(53.08 429.01 488.1)"/>
<rect x="431.15" y="486.12" width="2.1" height="2.1" fill="#6f9fbd" transform="rotate(52.09 432.2 487.17)"/>
<rect x="426.07" y="490.07" width="2.1" height="2.1" fill="#6f9fbd" transform="rotate(54.14 427.12 491.12)"/>
<rect x="431.69" y="486.42" width="2.1" height="2.1" fill="#d7683e" transform="rotate(52.02 432.74 487.47)"/>
<rect x="431.62" y="486.96" width="2.1" height="2.1" fill="#6f9fbd" transform="rotate(52.14 432.67 488.01)"/>
<rect x="428.95" y="490.33" width="2.1" height="2.1" fill="#6f9fbd" transform="rotate(53.45 430 491.38)"/>
<rect x="433.27" y="487.17" width="2.1" height="2.1" fill="#6f9fbd" transform="rotate(51.77 434.32 488.22)"/>
<rect x="432.31" y="488.21" width="2.1" height="2.1" fill="#6f9fbd" transform="rotate(52.21 433.36 489.26)"/>
<rect x="430.88" y="489.6" width="2.1" height="2.1" fill="#6f9fbd" transform="rotate(52.83 431.93 490.65)"/>
<rect x="432.62" y="489.32" width="2.1" height="2.1" fill="#d7683e" transform="rotate(52.35 433.67 490.37)"/>
<rect x="426.28" y="493.92" width="2.1" height="2.1" fill="#6f9fbd" transform="rotate(54.79 427.33 494.97)"/>
<rect x="430.67" y="491.81" width="2.1" height="2.1" fill="#d7683e" transform="rotate(53.3 431.72 492.86)"/>
<rect x="434.63" y="487.8" width="2.1" height="2.1" fill="#6f9fbd" transform="rotate(51.56 435.68 488.85)"/>
<rect x="429.29" y="493.77" width="2.1" height="2.1" fill="#6f9fbd" transform="rotate(54 430.34 494.82)"/>
<rect x="432.24" y="491.57" width="2.1" height="2.1" fill="#6f9fbd" transform="rotate(52.86 433.29 492.62)"/>
<rect x="434.16" y="490.81" width="2.1" height="2.1" fill="#6f9fbd" transform="rotate(52.25 435.21 491.86)"/>
<rect x="435.69" y="489.01" width="2.1" height="2.1" fill="#6f9fbd" transform="rotate(51.54 436.74 490.06)"/>
<rect x="428.2" y="497.51" width="2.1" height="2.1" fill="#d7683e" transform="rotate(54.94 429.25 498.56)"/>
<rect x="433.19" y="494.32" width="2.1" height="2.1" fill="#d7683e" transform="rotate(53.14 434.24 495.37)"/>
<rect x="437.46" y="489.59" width="2.1" height="2.1" fill="#6f9fbd" transform="rotate(51.22 438.51 490.64)"/>
<rect x="431.34" y="495.71" width="2.1" height="2.1" fill="#6f9fbd" transform="rotate(53.84 432.39 496.76)"/>
<rect x="432.78" y="495.44" width="2.1" height="2.1" fill="#6f9fbd" transform="rotate(53.44 433.83 496.49)"/>
<rect x="431.51" y="496.73" width="2.1" height="2.1" fill="#6f9fbd" transform="rotate(53.99 432.56 497.78)"/>
<rect x="438.75" y="491.55" width="2.1" height="2.1" fill="#d7683e" transform="rotate(51.29 439.8 492.6)"/>
<rect x="439.37" y="491.65" width="2.1" height="2.1" fill="#d7683e" transform="rotate(51.16 440.42 492.7)"/>
<rect x="433.09" y="498.39" width="2.1" height="2.1" fill="#6f9fbd" transform="rotate(53.9 434.14 499.44)"/>
<rect x="437.04" y="495.26" width="2.1" height="2.1" fill="#6f9fbd" transform="rotate(52.38 438.09 496.31)"/>
<rect x="430.88" y="499.42" width="2.1" height="2.1" fill="#6f9fbd" transform="rotate(54.61 431.93 500.47)"/>
<rect x="431.08" y="499.51" width="2.1" height="2.1" fill="#d7683e" transform="rotate(54.58 432.13 500.56)"/>
<rect x="433.27" y="497.64" width="2.1" height="2.1" fill="#6f9fbd" transform="rotate(53.72 434.32 498.69)"/>
<rect x="467.5" y="461.36" width="2.2" height="2.2" fill="#d7683e" transform="rotate(38.61 468.6 462.46)"/>
<rect x="468.92" y="460.42" width="2.2" height="2.2" fill="#6f9fbd" transform="rotate(38.12 470.02 461.52)"/>
<rect x="447.01" y="479.47" width="2.2" height="2.2" fill="#d7683e" transform="rotate(46.96 448.11 480.57)"/>
<rect x="447.6" y="479.77" width="2.2" height="2.2" fill="#6f9fbd" transform="rotate(46.89 448.7 480.87)"/>
<rect x="444.63" y="477.94" width="2.2" height="2.2" fill="#d7683e" transform="rotate(47.18 445.73 479.04)"/>
<rect x="451.62" y="477.71" width="2.2" height="2.2" fill="#6f9fbd" transform="rotate(45.56 452.72 478.81)"/>
<rect x="453.9" y="479.96" width="2.2" height="2.2" fill="#6f9fbd" transform="rotate(45.54 455 481.06)"/>
<rect x="449.5" y="479.92" width="2.2" height="2.2" fill="#6f9fbd" transform="rotate(46.49 450.6 481.02)"/>
<rect x="446.87" y="474.92" width="2.2" height="2.2" fill="#6f9fbd" transform="rotate(46.01 447.97 476.02)"/>
<rect x="451.15" y="478.29" width="2.2" height="2.2" fill="#d7683e" transform="rotate(45.79 452.25 479.39)"/>
<rect x="420.99" y="505.94" width="2.2" height="2.2" fill="#d7683e" transform="rotate(58.17 422.09 507.04)"/>
<rect x="418.19" y="506.21" width="2.2" height="2.2" fill="#6f9fbd" transform="rotate(58.93 419.29 507.31)"/>
<rect x="389.15" y="521.38" width="2.2" height="2.2" fill="#6f9fbd" transform="rotate(68.83 390.25 522.48)"/>
<rect x="388.29" y="522.01" width="2.2" height="2.2" fill="#6f9fbd" transform="rotate(69.13 389.39 523.11)"/>
<rect x="481.89" y="442.4" width="2.2" height="2.2" fill="#d7683e" transform="rotate(31.38 482.99 443.5)"/>
<rect x="481.37" y="442.24" width="2.2" height="2.2" fill="#6f9fbd" transform="rotate(31.42 482.47 443.34)"/>
<rect x="498.26" y="412.16" width="2.2" height="2.2" fill="#6f9fbd" transform="rotate(21 499.36 413.26)"/>
<rect x="498.32" y="412.95" width="2.2" height="2.2" fill="#6f9fbd" transform="rotate(21.21 499.42 414.05)"/>
<rect x="500.05" y="390.84" width="2.2" height="2.2" fill="#6f9fbd" transform="rotate(14.64 501.15 391.94)"/>
<rect x="501.5" y="387.55" width="2.2" height="2.2" fill="#6f9fbd" transform="rotate(13.55 502.6 388.65)"/>
<rect x="503.12" y="388.66" width="2.2" height="2.2" fill="#d7683e" transform="rotate(13.77 504.22 389.76)"/>
<rect x="505.08" y="388.68" width="2.2" height="2.2" fill="#d7683e" transform="rotate(13.63 506.18 389.78)"/>
<rect x="505.42" y="366.31" width="2.2" height="2.2" fill="#6f9fbd" transform="rotate(6.9 506.52 367.41)"/>
<rect x="508.2" y="365.48" width="2.2" height="2.2" fill="#d7683e" transform="rotate(6.56 509.3 366.58)"/>
<rect x="507.67" y="368.28" width="2.2" height="2.2" fill="#6f9fbd" transform="rotate(7.42 508.77 369.38)"/>
<rect x="510.6" y="342.77" width="1.8" height="1.8" fill="#6a5a50" transform="rotate(-0.4 511.5 343.67)"/>
<rect x="510.6" y="344.43" width="1.8" height="1.8" fill="#6a5a50" transform="rotate(0.1 511.5 345.33)"/>
<rect x="510.59" y="346.09" width="1.8" height="1.8" fill="#6a5a50" transform="rotate(0.6 511.49 346.99)"/>
<rect x="510.56" y="347.75" width="1.8" height="1.8" fill="#6a5a50" transform="rotate(1.1 511.46 348.65)"/>
<rect x="510.53" y="349.41" width="1.8" height="1.8" fill="#6a5a50" transform="rotate(1.6 511.43 350.31)"/>
<rect x="471.94" y="228.39" width="1.8" height="1.8" fill="#6f9fbd" transform="rotate(-37.4 472.84 229.29)"/>
<rect x="472.73" y="231.12" width="1.8" height="1.8" fill="#6f9fbd" transform="rotate(-36.6 473.63 232.02)"/>
<rect x="486.17" y="249.28" width="1.8" height="1.8" fill="#d7683e" transform="rotate(-29.8 487.07 250.18)"/>
<rect x="499.95" y="279.88" width="1.8" height="1.8" fill="#6f9fbd" transform="rotate(-19.7 500.85 280.78)"/>
<rect x="505.94" y="307.07" width="1.8" height="1.8" fill="#6f9fbd" transform="rotate(-11.3 506.84 307.97)"/>
<rect x="507.73" y="308.4" width="1.8" height="1.8" fill="#6f9fbd" transform="rotate(-10.8 508.63 309.3)"/>
<rect x="505.45" y="309.84" width="1.8" height="1.8" fill="#6f9fbd" transform="rotate(-10.5 506.35 310.74)"/>
<rect x="300.84" y="530.83" width="2.2" height="2.2" fill="#d7683e" transform="rotate(95.97 301.94 531.93)"/>
<rect x="303.42" y="530.31" width="2.2" height="2.2" fill="#6f9fbd" transform="rotate(95.2 304.52 531.41)"/>
<rect x="300.48" y="528.69" width="2.2" height="2.2" fill="#6f9fbd" transform="rotate(96.15 301.58 529.79)"/>
<rect x="138.21" y="401.02" width="2.2" height="2.2" fill="#6f9fbd" transform="rotate(162.59 139.31 402.12)"/>
<rect x="140.27" y="402.8" width="2.2" height="2.2" fill="#d7683e" transform="rotate(161.89 141.37 403.9)"/>
<rect x="140.87" y="401.27" width="2.2" height="2.2" fill="#6f9fbd" transform="rotate(162.28 141.97 402.37)"/>
<rect x="141.42" y="400.78" width="2.2" height="2.2" fill="#6f9fbd" transform="rotate(162.37 142.52 401.88)"/>
<path d="M149.25 259.5A192.3 192.3 0 0 1 155.3 248.27L156.86 249.17A190.5 190.5 0 0 0 150.87 260.3Z" fill="#6f9fbd"/>
<path d="M212.86 186.33A192.3 192.3 0 0 1 220.74 181.21L225.72 189.3A182.8 182.8 0 0 0 218.22 194.17Z" fill="#d7683e"/>
<path d="M215.25 185.68A191.5 191.5 0 0 1 216.36 184.94L220.75 191.63A183.5 183.5 0 0 0 219.69 192.34Z" fill="#a85a40"/>
<path d="M218.04 183.85A191.5 191.5 0 0 1 219.17 183.13L223.45 189.89A183.5 183.5 0 0 0 222.37 190.58Z" fill="#a85a40"/>
<path d="M194.66 201.13A191.8 191.8 0 0 1 196.94 199.15L198.1 200.52A190 190 0 0 0 195.85 202.48Z" fill="#6f9fbd"/>
<rect x="191.32" y="206.04" width="2.2" height="2.2" fill="#6f9fbd" transform="rotate(226.88 192.42 207.14)"/>
<rect x="194.17" y="207.09" width="2.2" height="2.2" fill="#6f9fbd" transform="rotate(227.3 195.27 208.19)"/>
<rect x="192.39" y="207.06" width="2.2" height="2.2" fill="#d7683e" transform="rotate(226.91 193.49 208.16)"/>
<rect x="305.31" y="157.61" width="2" height="2" fill="#6f9fbd" transform="rotate(265.34 306.31 158.61)"/>
<rect x="306.06" y="160.98" width="2" height="2" fill="#6f9fbd" transform="rotate(265.49 307.06 161.98)"/>
<rect x="304.18" y="155.71" width="2" height="2" fill="#6f9fbd" transform="rotate(265.05 305.18 156.71)"/>
<rect x="298.37" y="159.22" width="2" height="2" fill="#6f9fbd" transform="rotate(263.17 299.37 160.22)"/>
<rect x="304.87" y="158.78" width="2" height="2" fill="#6f9fbd" transform="rotate(265.18 305.87 159.78)"/>
<rect x="300.8" y="161.09" width="2" height="2" fill="#6f9fbd" transform="rotate(263.85 301.8 162.09)"/>
<rect x="305.14" y="162.58" width="2" height="2" fill="#6f9fbd" transform="rotate(265.16 306.14 163.58)"/>
<rect x="301.28" y="156.46" width="2" height="2" fill="#6f9fbd" transform="rotate(264.15 302.28 157.46)"/>
<rect x="300.65" y="154.84" width="2" height="2" fill="#6f9fbd" transform="rotate(264.01 301.65 155.84)"/>
<rect x="299.62" y="159.92" width="2" height="2" fill="#6f9fbd" transform="rotate(263.53 300.62 160.92)"/>
<rect x="305.97" y="161.59" width="2" height="2" fill="#6f9fbd" transform="rotate(265.45 306.97 162.59)"/>
<rect x="304.27" y="154.71" width="2" height="2" fill="#6f9fbd" transform="rotate(265.1 305.27 155.71)"/>
<path d="M296.73 154.3A192.3 192.3 0 0 1 302.07 153.68L302.22 155.18A190.8 190.8 0 0 0 296.93 155.79Z" fill="#6f9fbd"/>
<rect x="381.82" y="172.33" width="2.2" height="2.2" fill="#6f9fbd" transform="rotate(-70.3 382.92 173.43)"/>
<rect x="384.41" y="164.15" width="2.2" height="2.2" fill="#6f9fbd" transform="rotate(-70.4 385.51 165.25)"/>
<rect x="379.24" y="164.39" width="2.2" height="2.2" fill="#6f9fbd" transform="rotate(-71.85 380.34 165.49)"/>
<rect x="375.57" y="163.99" width="2.2" height="2.2" fill="#6f9fbd" transform="rotate(-72.95 376.67 165.09)"/>
<rect x="374.76" y="170.39" width="2.2" height="2.2" fill="#6f9fbd" transform="rotate(-72.61 375.86 171.49)"/>
<rect x="375.69" y="167.13" width="2.2" height="2.2" fill="#6f9fbd" transform="rotate(-72.63 376.79 168.23)"/>
<rect x="376.27" y="171.44" width="2.2" height="2.2" fill="#6f9fbd" transform="rotate(-72.05 377.37 172.54)"/>
<rect x="375.58" y="171.15" width="2.2" height="2.2" fill="#d7683e" transform="rotate(-72.28 376.68 172.25)"/>
<rect x="376.69" y="163.6" width="2.2" height="2.2" fill="#6f9fbd" transform="rotate(-72.66 377.79 164.7)"/>
<rect x="403.07" y="171.72" width="2.2" height="2.2" fill="#d7683e" transform="rotate(-64.35 404.17 172.82)"/>
<rect x="402.17" y="174.86" width="2.2" height="2.2" fill="#6f9fbd" transform="rotate(-64.19 403.27 175.96)"/>
<rect x="405.7" y="178.7" width="2.2" height="2.2" fill="#d7683e" transform="rotate(-62.69 406.8 179.8)"/>
<rect x="395.8" y="176.92" width="2.2" height="2.2" fill="#d7683e" transform="rotate(-65.7 396.9 178.02)"/>
<rect x="403.26" y="173.68" width="2.2" height="2.2" fill="#d7683e" transform="rotate(-64.04 404.36 174.78)"/>
<rect x="402.73" y="176.86" width="2.2" height="2.2" fill="#d7683e" transform="rotate(-63.76 403.83 177.96)"/>
<rect x="399.43" y="173.63" width="2.2" height="2.2" fill="#d7683e" transform="rotate(-65.1 400.53 174.73)"/>
<rect x="399.68" y="171.77" width="2.2" height="2.2" fill="#d7683e" transform="rotate(-65.27 400.78 172.87)"/>
<rect x="422.67" y="185.12" width="2.2" height="2.2" fill="#6f9fbd" transform="rotate(-57.21 423.77 186.22)"/>
<rect x="420.96" y="186.75" width="2.2" height="2.2" fill="#6f9fbd" transform="rotate(-57.38 422.06 187.85)"/>
<path d="M262.62 528.38A192.6 192.6 0 0 1 227.54 513.12L228.27 511.82A191.1 191.1 0 0 0 263.08 526.95Z" fill="#6f9fbd"/>
<path d="M242.02 520.22A192.4 192.4 0 0 1 230.29 514.4L231.8 511.59A189.2 189.2 0 0 0 243.34 517.3Z" fill="#6f9fbd"/>
<path d="M230.29 514.4A192.4 192.4 0 0 1 227.64 512.95L228.81 510.86A190 190 0 0 0 231.42 512.29Z" fill="#6f9fbd"/>
<path d="M239.27 172.61A191 191 0 0 1 270.46 160.95L270.99 162.87A189 189 0 0 0 240.13 174.41Z" fill="#d7683e"/>
<path d="M267.54 162.82A190 190 0 0 1 272.32 161.47L273.36 165.34A186 186 0 0 0 268.67 166.66Z" fill="#d7683e"/>
<path d="M161.41 238.64A192.2 192.2 0 0 1 173.41 222.49L179.96 227.91A183.7 183.7 0 0 0 168.49 243.34Z" fill="#d7683e"/>
<path d="M163.87 236.26A191.5 191.5 0 0 1 165.21 234.34L171.33 238.67A184 184 0 0 0 170.04 240.52Z" fill="#6f9fbd"/>
<path d="M167.16 231.63A191.5 191.5 0 0 1 168.56 229.75L174.55 234.27A184 184 0 0 0 173.21 236.07Z" fill="#6f9fbd"/>
<path d="M170.6 227.1A191.5 191.5 0 0 1 172.05 225.27L177.9 229.96A184 184 0 0 0 176.51 231.72Z" fill="#6f9fbd"/>
<path d="M413.46 177.03A191.5 191.5 0 0 1 416.09 178.49L411.15 187.19A181.5 181.5 0 0 0 408.66 185.8Z" fill="#d7683e"/>
<path d="M416.09 178.49A191.5 191.5 0 0 1 418.12 179.66L414.08 186.57A183.5 183.5 0 0 0 412.14 185.45Z" fill="#c46a4a"/>
<path d="M418.98 180.17A191.5 191.5 0 0 1 421.27 181.55L417.63 187.52A184.5 184.5 0 0 0 415.42 186.19Z" fill="#d7683e"/>
<path d="M421.27 181.55A191.5 191.5 0 0 1 426.36 184.76L424.99 186.85A189 189 0 0 0 419.97 183.68Z" fill="#6f9fbd"/>
<path d="M422.24 186.27A188 188 0 0 1 423.89 187.33L422.26 189.85A185 185 0 0 0 420.63 188.8Z" fill="#d7683e"/>
<path d="M348.01 156.35A190.5 190.5 0 0 1 361.11 158.66L360.8 160.13A189 189 0 0 0 347.8 157.84Z" fill="#6f9fbd"/>
<path d="M364.35 159.38A190.5 190.5 0 0 1 370.81 160.99L370.42 162.44A189 189 0 0 0 364.02 160.84Z" fill="#6f9fbd"/>
<path d="M389.77 167.15A190.5 190.5 0 0 1 398.98 170.97L398.37 172.34A189 189 0 0 0 389.23 168.55Z" fill="#6f9fbd"/>
<path d="M270.03 265.75Q329.09 315.98 405.17 301.07A94.5 94.5 0 0 0 370.17 264Q325.55 315.27 296.25 253.94A94.5 94.5 0 0 0 270.03 265.75Z" fill="#f0c9ab" fill-opacity="1.0"/>
<path d="M296.25 253.94Q325.55 315.27 370.17 264" fill="none" stroke="#d0601a" stroke-width="0.8" stroke-opacity="0.95"/>
<path d="M295.14 254.25Q325.69 315.29 371.93 265.08" fill="none" stroke="#d0601a" stroke-width="0.8" stroke-opacity="0.95"/>
<path d="M284.01 258.26Q327.15 315.54 388.42 278.28" fill="none" stroke="#d0601a" stroke-width="0.8" stroke-opacity="0.95"/>
<path d="M270.76 265.28Q328.98 315.95 404.44 299.71" fill="none" stroke="#d0601a" stroke-width="0.8" stroke-opacity="0.95"/>
<path d="M270.03 265.75Q329.09 315.98 405.17 301.07" fill="none" stroke="#d0601a" stroke-width="0.8" stroke-opacity="0.95"/>
<path d="M290.73 255.65Q328.3 315.78 388.55 278.41" fill="none" stroke="#d0601a" stroke-width="1.4" stroke-opacity="1.0"/>
<path d="M293.87 254.63Q325.8 315.31 373.66 266.2" fill="none" stroke="#d0601a" stroke-width="0.8" stroke-opacity="1.0"/>
<path d="M279.19 260.5Q330.5 316.38 404.55 299.91A94.5 94.5 0 0 0 396.47 287.47Q329.29 316.03 285.49 257.63A94.5 94.5 0 0 0 279.19 260.5Z" fill="#e07a36" fill-opacity="0.8" stroke="#d0601a" stroke-width="0.4"/>
<path d="M285.49 257.63Q329.29 316.03 396.47 287.47" fill="none" stroke="#d0601a" stroke-width="0.7" stroke-opacity="1.0"/>
<path d="M284.78 257.93Q329.42 316.07 397.46 288.79" fill="none" stroke="#d0601a" stroke-width="0.7" stroke-opacity="1.0"/>
<path d="M284.07 258.23Q329.56 316.1 398.43 290.12" fill="none" stroke="#d0601a" stroke-width="0.7" stroke-opacity="1.0"/>
<path d="M283.36 258.54Q329.69 316.14 399.38 291.47" fill="none" stroke="#d0601a" stroke-width="0.7" stroke-opacity="1.0"/>
<path d="M282.66 258.85Q329.83 316.18 400.3 292.84" fill="none" stroke="#d0601a" stroke-width="0.7" stroke-opacity="1.0"/>
<path d="M281.96 259.17Q329.96 316.22 401.2 294.23" fill="none" stroke="#d0601a" stroke-width="0.7" stroke-opacity="1.0"/>
<path d="M281.26 259.49Q330.1 316.26 402.07 295.62" fill="none" stroke="#d0601a" stroke-width="0.7" stroke-opacity="1.0"/>
<path d="M280.57 259.82Q330.23 316.3 402.92 297.04" fill="none" stroke="#d0601a" stroke-width="0.7" stroke-opacity="1.0"/>
<path d="M279.88 260.16Q330.36 316.34 403.75 298.47" fill="none" stroke="#d0601a" stroke-width="0.7" stroke-opacity="1.0"/>
<path d="M279.19 260.5Q330.5 316.38 404.55 299.91" fill="none" stroke="#d0601a" stroke-width="0.7" stroke-opacity="1.0"/>
<path d="M272.12 264.43Q329.14 315.99 404.15 299.19" fill="none" stroke="#d0601a" stroke-width="0.8" stroke-opacity="1.0"/>
<path d="M274.25 263.16Q329.14 315.99 402.92 297.04" fill="none" stroke="#d0601a" stroke-width="0.8" stroke-opacity="1.0"/>
<path d="M298.32 253.39Q325.75 308.25 364.99 261.1A94.5 94.5 0 0 0 332.2 251.11Q322.08 308 313.76 250.82A94.5 94.5 0 0 0 298.32 253.39Z" fill="#bdf5cf" fill-opacity="1.0"/>
<path d="M308.84 251.35Q325.75 308.25 355.21 256.72A94.5 94.5 0 0 0 347.39 254.12Q325.01 308.17 313.26 250.86A94.5 94.5 0 0 0 308.84 251.35Z" fill="#1db060" fill-opacity="1.0"/>
<path d="M304.28 252.08Q325.78 308.25 359.64 258.54A94.5 94.5 0 0 0 357.36 257.57Q325.66 308.23 306.07 251.77A94.5 94.5 0 0 0 304.28 252.08Z" fill="#4fcf8a" fill-opacity="1.0"/>
<path d="M299.92 253Q326.01 308.28 364.7 260.95A94.5 94.5 0 0 0 361.89 259.56Q325.75 308.25 301.69 252.6A94.5 94.5 0 0 0 299.92 253Z" fill="#4fcf8a" fill-opacity="1.0"/>
<path d="M306.55 251.69Q322.11 308.01 339.53 252.24A94.5 94.5 0 0 0 337.26 251.82Q321.86 308 307.53 251.54A94.5 94.5 0 0 0 306.55 251.69Z" fill="#4fcf8a" fill-opacity="1.0"/>
<path d="M307.86 251.49Q323.86 308.08 346.91 253.98A94.5 94.5 0 0 0 344.04 253.23Q323.44 308.05 308.67 251.37A94.5 94.5 0 0 0 307.86 251.49Z" fill="#86e2aa" fill-opacity="1.0"/>
<path d="M313.59 250.83Q322.08 308 332.36 251.13" fill="none" stroke="#1db060" stroke-width="1.2" stroke-opacity="1.0"/>
<path d="M298.48 253.35Q325.75 308.25 364.84 261.03" fill="none" stroke="#4fcf8a" stroke-width="0.7" stroke-opacity="1.0"/>
<path d="M257.29 275.66Q328.84 324.26 415.03 331.52A94.5 94.5 0 0 0 411.17 315.17Q327.25 323.76 259.13 274.01A94.5 94.5 0 0 0 257.29 275.66Z" fill="#dfe3f5" fill-opacity="1.0"/>
<path d="M258.88 274.22Q327.23 323.76 411.22 315.33" fill="none" stroke="#6e6ec4" stroke-width="1.2" stroke-opacity="1.0"/>
<path d="M258.13 274.9Q328.13 324.02 413.66 324.08" fill="none" stroke="#6e6ec4" stroke-width="0.7" stroke-opacity="1.0"/>
<path d="M258.02 275Q328.25 324.06 413.91 325.23" fill="none" stroke="#6e6ec4" stroke-width="0.7" stroke-opacity="1.0"/>
<path d="M257.89 275.12Q328.38 324.1 414.18 326.55" fill="none" stroke="#6e6ec4" stroke-width="0.7" stroke-opacity="1.0"/>
<path d="M257.79 275.2Q328.47 324.13 414.37 327.54" fill="none" stroke="#6e6ec4" stroke-width="0.7" stroke-opacity="1.0"/>
<path d="M257.7 275.29Q328.57 324.17 414.55 328.53" fill="none" stroke="#6e6ec4" stroke-width="0.7" stroke-opacity="1.0"/>
<path d="M257.62 275.36Q328.65 324.2 414.7 329.36" fill="none" stroke="#6e6ec4" stroke-width="0.7" stroke-opacity="1.0"/>
<path d="M257.54 275.43Q328.73 324.22 414.83 330.19" fill="none" stroke="#6e6ec4" stroke-width="0.7" stroke-opacity="1.0"/>
<path d="M257.48 275.49Q328.8 324.25 414.94 330.86" fill="none" stroke="#6e6ec4" stroke-width="0.7" stroke-opacity="1.0"/>
<path d="M257.41 275.55Q328.86 324.27 415.03 331.52" fill="none" stroke="#6e6ec4" stroke-width="0.7" stroke-opacity="1.0"/>
<path d="M257.78 275.22Q327.49 323.83 412.34 318.95" fill="none" stroke="#6e6ec4" stroke-width="2.0" stroke-opacity="1.0"/>
<path d="M244.28 290.53Q328.21 324.05 416 345.49A94.5 94.5 0 0 0 415.84 339.56Q327.82 323.93 245.73 288.52A94.5 94.5 0 0 0 244.28 290.53Z" fill="#e8ebf8" fill-opacity="1.0"/>
<path d="M245.63 288.66Q327.82 323.93 415.85 339.72" fill="none" stroke="#6e6ec4" stroke-width="0.8" stroke-opacity="1.0"/>
<path d="M245.14 289.32Q327.88 323.94 415.92 341.04" fill="none" stroke="#6e6ec4" stroke-width="0.8" stroke-opacity="1.0"/>
<path d="M244.37 290.39Q328.21 324.05 416 345.33" fill="none" stroke="#6e6ec4" stroke-width="0.8" stroke-opacity="1.0"/>
<path d="M231.78 374.67Q321.92 363 412.52 370.41A94.5 94.5 0 0 0 415.5 354.71Q323.23 362.92 231.08 372.47A94.5 94.5 0 0 0 231.78 374.67Z" fill="#f7b9d6" fill-opacity="1.0"/>
<path d="M231.08 372.47Q323.23 362.92 415.5 354.71" fill="none" stroke="#de2f89" stroke-width="1.0" stroke-opacity="1.0"/>
<path d="M231.15 372.69Q323.1 362.93 415.32 356.3" fill="none" stroke="#de2f89" stroke-width="0.7" stroke-opacity="1.0"/>
<path d="M231.28 373.13Q322.84 362.95 414.89 359.47" fill="none" stroke="#de2f89" stroke-width="1.3" stroke-opacity="1.0"/>
<path d="M231.33 373.27Q322.76 362.96 414.73 360.42" fill="none" stroke="#de2f89" stroke-width="0.7" stroke-opacity="1.0"/>
<path d="M231.51 373.84Q322.42 362.98 413.96 364.51" fill="none" stroke="#de2f89" stroke-width="0.9" stroke-opacity="1.0"/>
<path d="M231.56 374.01Q322.31 362.98 413.69 365.76" fill="none" stroke="#de2f89" stroke-width="0.7" stroke-opacity="1.0"/>
<path d="M231.67 374.34Q322.12 362.99 413.13 368.09" fill="none" stroke="#de2f89" stroke-width="1.0" stroke-opacity="1.0"/>
<path d="M231.73 374.52Q322.02 362.99 412.81 369.33" fill="none" stroke="#de2f89" stroke-width="0.7" stroke-opacity="1.0"/>
<path d="M231.78 374.67Q321.92 363 412.52 370.41" fill="none" stroke="#de2f89" stroke-width="1.0" stroke-opacity="1.0"/>
<path d="M252.95 410.05Q323.76 364.87 402.92 392.96A94.5 94.5 0 0 0 410.02 378.09Q325.28 364.64 251.6 408.6A94.5 94.5 0 0 0 252.95 410.05Z" fill="#c4e4c4" fill-opacity="1.0"/>
<path d="M251.6 408.6Q325.28 364.64 410.02 378.09" fill="none" stroke="#3c9c3c" stroke-width="1.3" stroke-opacity="1.0"/>
<path d="M251.71 408.72Q325.16 364.66 409.54 379.33" fill="none" stroke="#3c9c3c" stroke-width="0.8" stroke-opacity="1.0"/>
<path d="M251.85 408.86Q325.01 364.69 408.93 380.86" fill="none" stroke="#3c9c3c" stroke-width="1.2" stroke-opacity="1.0"/>
<path d="M252.01 409.04Q324.83 364.72 408.16 382.68" fill="none" stroke="#3c9c3c" stroke-width="0.7" stroke-opacity="1.0"/>
<path d="M252.82 409.91Q323.92 364.85 403.75 391.53" fill="none" stroke="#3c9c3c" stroke-width="0.7" stroke-opacity="1.0"/>
<path d="M252.95 410.05Q323.76 364.87 402.92 392.96" fill="none" stroke="#3c9c3c" stroke-width="1.0" stroke-opacity="1.0"/>
<path d="M272.83 426Q322.36 366.98 376.38 421.93A94.5 94.5 0 0 0 386.07 414Q323.55 366.9 270.86 424.79A94.5 94.5 0 0 0 272.83 426Z" fill="#f8dba8" fill-opacity="1.0"/>
<path d="M270.86 424.79Q323.55 366.9 386.07 414" fill="none" stroke="#e8961c" stroke-width="1.6" stroke-opacity="1.0"/>
<path d="M271.16 424.97Q323.37 366.92 384.68 415.27" fill="none" stroke="#e8961c" stroke-width="1.0" stroke-opacity="1.0"/>
<path d="M271.45 425.16Q323.2 366.93 383.27 416.51" fill="none" stroke="#e8961c" stroke-width="1.2" stroke-opacity="1.0"/>
<path d="M271.84 425.4Q322.96 366.95 381.35 418.13" fill="none" stroke="#e8961c" stroke-width="1.0" stroke-opacity="1.0"/>
<path d="M272.24 425.64Q322.72 366.97 379.39 419.69" fill="none" stroke="#e8961c" stroke-width="1.2" stroke-opacity="1.0"/>
<path d="M272.53 425.82Q322.54 366.98 377.9 420.83" fill="none" stroke="#e8961c" stroke-width="1.0" stroke-opacity="1.0"/>
<path d="M272.83 426Q322.36 366.98 376.38 421.93" fill="none" stroke="#e8961c" stroke-width="1.3" stroke-opacity="1.0"/>
<path d="M313.59 439.17Q324.97 374.8 350.86 434.82A94.5 94.5 0 0 0 359.94 431.33Q326.3 374.61 312.28 439.05A94.5 94.5 0 0 0 313.59 439.17Z" fill="#f7c4b0" fill-opacity="1.0"/>
<path d="M312.28 439.05Q326.3 374.61 359.94 431.33" fill="none" stroke="#c0582e" stroke-width="1.0" stroke-opacity="1.0"/>
<path d="M312.8 439.1Q325.77 374.69 356.35 432.84" fill="none" stroke="#c0582e" stroke-width="0.8" stroke-opacity="1.0"/>
<path d="M313.2 439.13Q325.37 374.75 353.62 433.87" fill="none" stroke="#c0582e" stroke-width="0.8" stroke-opacity="1.0"/>
<path d="M313.59 439.17Q324.97 374.8 350.86 434.82" fill="none" stroke="#c0582e" stroke-width="1.0" stroke-opacity="1.0"/>
<text x="321.5" y="41" font-size="7.6" font-weight="bold" fill="#222" text-anchor="start" dominant-baseline="central" transform="rotate(-90 321.5 41)">0 cM</text>
<text x="393.19" y="49.57" font-size="7.6" font-weight="bold" fill="#222" text-anchor="start" dominant-baseline="central" transform="rotate(-76.36 393.19 49.57)">20 cM</text>
<text x="460.84" y="74.81" font-size="7.6" font-weight="bold" fill="#222" text-anchor="start" dominant-baseline="central" transform="rotate(-62.72 460.84 74.81)">40 cM</text>
<text x="392.99" y="58.28" font-size="14.5" font-weight="bold" fill="#111" text-anchor="start" dominant-baseline="central" transform="rotate(-76 392.99 58.28)">1</text>
<text x="466.56" y="77.84" font-size="7.6" font-weight="bold" fill="#222" text-anchor="start" dominant-baseline="central" transform="rotate(-61.5 466.56 77.84)">0 cM</text>
<text x="525.47" y="119.58" font-size="7.6" font-weight="bold" fill="#222" text-anchor="start" dominant-baseline="central" transform="rotate(-47.86 525.47 119.58)">20 cM</text>
<text x="572.87" y="174.04" font-size="7.6" font-weight="bold" fill="#222" text-anchor="start" dominant-baseline="central" transform="rotate(-34.22 572.87 174.04)">40 cM</text>
<text x="544.35" y="150.94" font-size="14.5" font-weight="bold" fill="#111" text-anchor="start" dominant-baseline="central" transform="rotate(-41.05 544.35 150.94)">2</text>
<text x="606.98" y="240.53" font-size="7.6" font-weight="bold" fill="#222" text-anchor="start" dominant-baseline="central" transform="rotate(-20.1 606.98 240.53)">0 cM</text>
<text x="623.57" y="310.8" font-size="7.6" font-weight="bold" fill="#222" text-anchor="start" dominant-baseline="central" transform="rotate(-6.46 623.57 310.8)">20 cM</text>
<text x="610.43" y="283.06" font-size="14.5" font-weight="bold" fill="#111" text-anchor="start" dominant-baseline="central" transform="rotate(-12.1 610.43 283.06)">3 _1</text>
<text x="624.34" y="318.5" font-size="7.6" font-weight="bold" fill="#222" text-anchor="start" dominant-baseline="central" transform="rotate(-5 624.34 318.5)">0 cM</text>
<text x="617" y="346.03" font-size="14.5" font-weight="bold" fill="#111" text-anchor="start" dominant-baseline="central" transform="rotate(0.2 617 346.03)">3 _2</text>
<text x="624.56" y="368.85" font-size="7.6" font-weight="bold" fill="#222" text-anchor="start" dominant-baseline="central" transform="rotate(4.5 624.56 368.85)">0 cM</text>
<text x="611.91" y="399.61" font-size="14.5" font-weight="bold" fill="#111" text-anchor="start" dominant-baseline="central" transform="rotate(10.65 611.91 399.61)">4</text>
<text x="611.75" y="435.4" font-size="7.6" font-weight="bold" fill="#222" text-anchor="start" dominant-baseline="central" transform="rotate(17.3 611.75 435.4)">0 cM</text>
<text x="582.24" y="501.3" font-size="7.6" font-weight="bold" fill="#222" text-anchor="start" dominant-baseline="central" transform="rotate(30.94 582.24 501.3)">20 cM</text>
<text x="584.44" y="479.84" font-size="14.5" font-weight="bold" fill="#111" text-anchor="start" dominant-baseline="central" transform="rotate(27.15 584.44 479.84)">5</text>
<text x="562.68" y="530.06" font-size="7.6" font-weight="bold" fill="#222" text-anchor="start" dominant-baseline="central" transform="rotate(37.5 562.68 530.06)">0 cM</text>
<text x="512.24" y="581.72" font-size="7.6" font-weight="bold" fill="#222" text-anchor="start" dominant-baseline="central" transform="rotate(51.14 512.24 581.72)">20 cM</text>
<text x="520.57" y="563.39" font-size="14.5" font-weight="bold" fill="#111" text-anchor="start" dominant-baseline="central" transform="rotate(47.65 520.57 563.39)">6</text>
<text x="481.24" y="603.65" font-size="7.6" font-weight="bold" fill="#222" text-anchor="start" dominant-baseline="central" transform="rotate(58.3 481.24 603.65)">0 cM</text>
<text x="415.74" y="634.02" font-size="7.6" font-weight="bold" fill="#222" text-anchor="start" dominant-baseline="central" transform="rotate(71.94 415.74 634.02)">20 cM</text>
<text x="442.16" y="614.74" font-size="14.5" font-weight="bold" fill="#111" text-anchor="start" dominant-baseline="central" transform="rotate(65.9 442.16 614.74)">7</text>
<text x="405.29" y="637.22" font-size="7.6" font-weight="bold" fill="#222" text-anchor="start" dominant-baseline="central" transform="rotate(74 405.29 637.22)">0 cM</text>
<text x="334.02" y="648.74" font-size="7.6" font-weight="bold" fill="#222" text-anchor="start" dominant-baseline="central" transform="rotate(87.64 334.02 648.74)">20 cM</text>
<text x="342.11" y="639.78" font-size="14.5" font-weight="bold" fill="#111" text-anchor="start" dominant-baseline="central" transform="rotate(86 342.11 639.78)">7</text>
<text x="276.57" y="645.66" font-size="7.6" font-weight="bold" fill="#222" text-anchor="end" dominant-baseline="central" transform="rotate(-81.5 276.57 645.66)">0 cM</text>
<text x="206.93" y="626.58" font-size="7.6" font-weight="bold" fill="#222" text-anchor="end" dominant-baseline="central" transform="rotate(-67.86 206.93 626.58)">20 cM</text>
<text x="143.76" y="591.63" font-size="7.6" font-weight="bold" fill="#222" text-anchor="end" dominant-baseline="central" transform="rotate(-54.22 143.76 591.63)">40 cM</text>
<text x="203.91" y="616.09" font-size="14.5" font-weight="bold" fill="#111" text-anchor="end" dominant-baseline="central" transform="rotate(-66.55 203.91 616.09)">6</text>
<text x="130.6" y="581.59" font-size="7.6" font-weight="bold" fill="#222" text-anchor="end" dominant-baseline="central" transform="rotate(-51.1 130.6 581.59)">0 cM</text>
<text x="80.19" y="529.9" font-size="7.6" font-weight="bold" fill="#222" text-anchor="end" dominant-baseline="central" transform="rotate(-37.46 80.19 529.9)">20 cM</text>
<text x="107.33" y="548.6" font-size="14.5" font-weight="bold" fill="#111" text-anchor="end" dominant-baseline="central" transform="rotate(-43.55 107.33 548.6)">5</text>
<text x="74.01" y="521.53" font-size="7.6" font-weight="bold" fill="#222" text-anchor="end" dominant-baseline="central" transform="rotate(-35.5 74.01 521.53)">0 cM</text>
<text x="39.36" y="458.19" font-size="7.6" font-weight="bold" fill="#222" text-anchor="end" dominant-baseline="central" transform="rotate(-21.86 39.36 458.19)">20 cM</text>
<text x="20.62" y="388.46" font-size="7.6" font-weight="bold" fill="#222" text-anchor="end" dominant-baseline="central" transform="rotate(-8.22 20.62 388.46)">40 cM</text>
<text x="43.21" y="444.37" font-size="14.5" font-weight="bold" fill="#111" text-anchor="end" dominant-baseline="central" transform="rotate(-19.65 43.21 444.37)">4</text>
<text x="18" y="362.5" font-size="7.6" font-weight="bold" fill="#222" text-anchor="end" dominant-baseline="central" transform="rotate(-3.3 18 362.5)">0 cM</text>
<text x="22.44" y="290.44" font-size="7.6" font-weight="bold" fill="#222" text-anchor="end" dominant-baseline="central" transform="rotate(10.34 22.44 290.44)">20 cM</text>
<text x="43.74" y="221.45" font-size="7.6" font-weight="bold" fill="#222" text-anchor="end" dominant-baseline="central" transform="rotate(23.98 43.74 221.45)">40 cM</text>
<text x="80.71" y="159.43" font-size="7.6" font-weight="bold" fill="#222" text-anchor="end" dominant-baseline="central" transform="rotate(37.62 80.71 159.43)">60 cM</text>
<text x="49.79" y="228.83" font-size="14.5" font-weight="bold" fill="#111" text-anchor="end" dominant-baseline="central" transform="rotate(23.15 49.79 228.83)">3</text>
<text x="126.5" y="111.78" font-size="7.6" font-weight="bold" fill="#222" text-anchor="end" dominant-baseline="central" transform="rotate(50.1 126.5 111.78)">0 cM</text>
<text x="187" y="72.37" font-size="7.6" font-weight="bold" fill="#222" text-anchor="end" dominant-baseline="central" transform="rotate(63.74 187 72.37)">20 cM</text>
<text x="185.74" y="82.53" font-size="14.5" font-weight="bold" fill="#111" text-anchor="end" dominant-baseline="central" transform="rotate(62.65 185.74 82.53)">2</text>
<text x="246.41" y="50.42" font-size="7.6" font-weight="bold" fill="#222" text-anchor="end" dominant-baseline="central" transform="rotate(75.7 246.41 50.42)">0 cM</text>
<text x="276.29" y="52.98" font-size="14.5" font-weight="bold" fill="#111" text-anchor="end" dominant-baseline="central" transform="rotate(81.2 276.29 52.98)">1</text><rect x="637.5" y="513.40" width="13.2" height="13.62" fill="#a50026" stroke="#999" stroke-width="0.4" stroke-opacity="0.6"/><text x="670" y="516.80" font-size="9.5" fill="#333" text-anchor="middle" dominant-baseline="central">9</text><rect x="637.5" y="527.02" width="13.2" height="13.62" fill="#d73027" stroke="#999" stroke-width="0.4" stroke-opacity="0.6"/><text x="670" y="531.21" font-size="9.5" fill="#333" text-anchor="middle" dominant-baseline="central">8</text><rect x="637.5" y="540.64" width="13.2" height="13.62" fill="#f46d43" stroke="#999" stroke-width="0.4" stroke-opacity="0.6"/><text x="670" y="545.62" font-size="9.5" fill="#333" text-anchor="middle" dominant-baseline="central">7</text><rect x="637.5" y="554.26" width="13.2" height="13.62" fill="#fdae61" stroke="#999" stroke-width="0.4" stroke-opacity="0.6"/><text x="670" y="560.03" font-size="9.5" fill="#333" text-anchor="middle" dominant-baseline="central">6</text><rect x="637.5" y="567.88" width="13.2" height="13.62" fill="#fee090" stroke="#999" stroke-width="0.4" stroke-opacity="0.6"/><text x="670" y="574.44" font-size="9.5" fill="#333" text-anchor="middle" dominant-baseline="central">5</text><rect x="637.5" y="581.50" width="13.2" height="13.62" fill="#e0f3f8" stroke="#999" stroke-width="0.4" stroke-opacity="0.6"/><text x="670" y="588.85" font-size="9.5" fill="#333" text-anchor="middle" dominant-baseline="central">4</text><rect x="637.5" y="595.12" width="13.2" height="13.62" fill="#abd9e9" stroke="#999" stroke-width="0.4" stroke-opacity="0.6"/><text x="670" y="603.26" font-size="9.5" fill="#333" text-anchor="middle" dominant-baseline="central">3</text><rect x="637.5" y="608.74" width="13.2" height="13.62" fill="#74add1" stroke="#999" stroke-width="0.4" stroke-opacity="0.6"/><text x="670" y="617.67" font-size="9.5" fill="#333" text-anchor="middle" dominant-baseline="central">2</text><rect x="637.5" y="622.36" width="13.2" height="13.62" fill="#4575b4" stroke="#999" stroke-width="0.4" stroke-opacity="0.6"/><text x="670" y="632.08" font-size="9.5" fill="#333" text-anchor="middle" dominant-baseline="central">1</text><rect x="637.5" y="635.98" width="13.2" height="13.62" fill="#313695" stroke="#999" stroke-width="0.4" stroke-opacity="0.6"/><text x="670" y="646.49" font-size="9.5" fill="#333" text-anchor="middle" dominant-baseline="central">0</text><text x="575" y="642" font-size="16" font-weight="bold" fill="#111" transform="translate(575 0) scale(0.845 1) translate(-575 0)">QTL/cM</text><rect x="307" y="78.3" width="10" height="11" fill="#fff"/><text x="312.2" y="83.8" font-size="12" font-weight="bold" fill="#111" text-anchor="middle" dominant-baseline="central" transform="translate(312.2 0) scale(0.8 1) translate(-312.2 0)">E</text><rect x="307" y="101.4" width="10" height="11" fill="#fff"/><text x="312.2" y="106.9" font-size="12" font-weight="bold" fill="#111" text-anchor="middle" dominant-baseline="central" transform="translate(312.2 0) scale(0.8 1) translate(-312.2 0)">D</text><rect x="307" y="125.2" width="10" height="11" fill="#fff"/><text x="312.2" y="130.7" font-size="12" font-weight="bold" fill="#111" text-anchor="middle" dominant-baseline="central" transform="translate(312.2 0) scale(0.8 1) translate(-312.2 0)">C</text><rect x="307" y="149.4" width="10" height="11" fill="#fff"/><text x="312.2" y="154.9" font-size="12" font-weight="bold" fill="#111" text-anchor="middle" dominant-baseline="central" transform="translate(312.2 0) scale(0.8 1) translate(-312.2 0)">B</text><rect x="307" y="172.7" width="10" height="11" fill="#fff"/><text x="312.2" y="178.2" font-size="12" font-weight="bold" fill="#111" text-anchor="middle" dominant-baseline="central" transform="translate(312.2 0) scale(0.8 1) translate(-312.2 0)">A</text>
</svg></body></html>
